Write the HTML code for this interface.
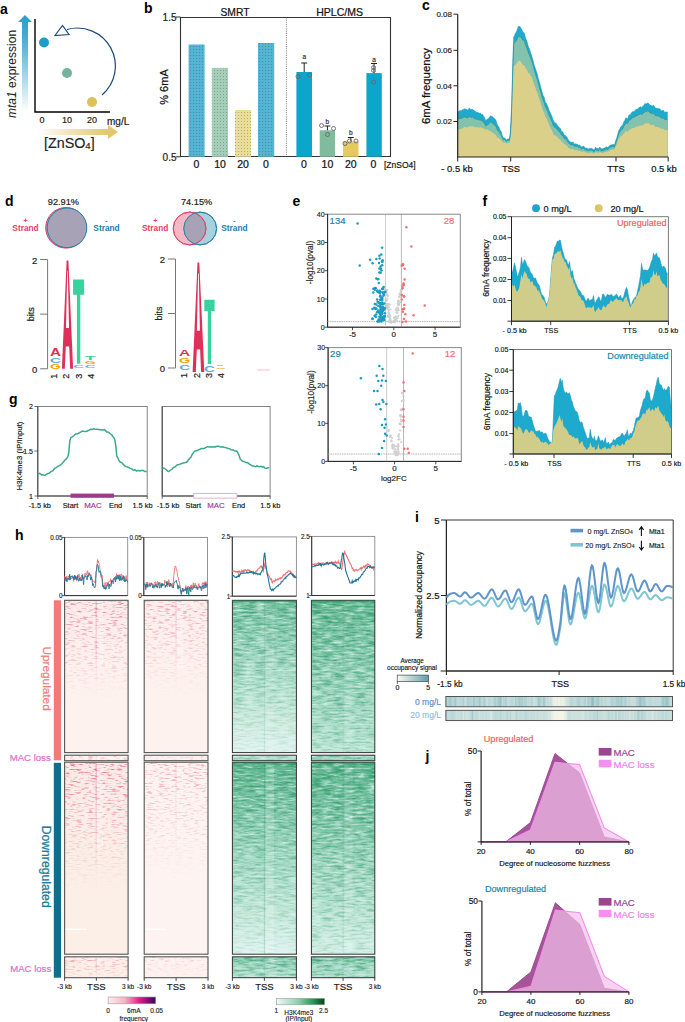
<!DOCTYPE html>
<html><head><meta charset="utf-8"><style>
html,body{margin:0;padding:0;background:#fff;width:685px;height:1022px;overflow:hidden}
svg{display:block}
text{font-family:"Liberation Sans",sans-serif}
</style></head><body>
<svg width="685" height="1022" viewBox="0 0 685 1022">
<defs>
<linearGradient id="gVert" x1="0" y1="1" x2="0" y2="0"><stop offset="0" stop-color="#2a9fc8" stop-opacity="0"/><stop offset="0.75" stop-color="#2a9fc8" stop-opacity="0.85"/><stop offset="1" stop-color="#2a9fc8"/></linearGradient>
<linearGradient id="gHor" x1="0" y1="0" x2="1" y2="0"><stop offset="0" stop-color="#e2c46a" stop-opacity="0"/><stop offset="0.8" stop-color="#e2c46a" stop-opacity="0.9"/><stop offset="1" stop-color="#e2c46a"/></linearGradient>
<linearGradient id="gPink" x1="0" y1="0" x2="1" y2="0"><stop offset="0" stop-color="#fdf0ec"/><stop offset="0.35" stop-color="#f7b3c4"/><stop offset="0.65" stop-color="#e0208a"/><stop offset="1" stop-color="#3d0066"/></linearGradient>
<linearGradient id="gGreen" x1="0" y1="0" x2="1" y2="0"><stop offset="0" stop-color="#effaf8"/><stop offset="0.45" stop-color="#8fd0b0"/><stop offset="0.75" stop-color="#2a9a58"/><stop offset="1" stop-color="#00441b"/></linearGradient>
<linearGradient id="gOcc" x1="0" y1="0" x2="1" y2="0"><stop offset="0" stop-color="#fbfbef"/><stop offset="1" stop-color="#5f9fae"/></linearGradient>
<filter id="bl" x="-5%" y="-5%" width="110%" height="110%"><feGaussianBlur stdDeviation="0.55"/></filter>
<pattern id="dots" width="3" height="3" patternUnits="userSpaceOnUse"><rect x="1" y="1" width="1" height="1" fill="#333" fill-opacity="0.3"/><rect x="0" y="0" width="3" height="3" fill="#fff" fill-opacity="0.04"/></pattern>
</defs>
<text x="0" y="14" font-size="14" text-anchor="start" fill="#000" font-weight="bold">a</text><path d="M22 112 L22 22 L18 22 L25 15 L32 22 L28 22 L28 112 Z" fill="url(#gVert)"/><path d="M35 19 L35 112 L110 112" fill="none" stroke="#000" stroke-width="1.4"/><circle cx="44" cy="42.5" r="5" fill="#1f9bc8"/><circle cx="67" cy="73" r="5" fill="#75b39b"/><circle cx="92" cy="102" r="5" fill="#dfc257"/><path d="M102 95 A38 38 0 0 0 67 29.5" fill="none" stroke="#1a4a7a" stroke-width="1.2"/><path d="M55 35.5 L62.5 25.5 L69 34.5 Z" fill="#fff" stroke="#1a4a7a" stroke-width="1.2"/><text x="42" y="123" font-size="9" text-anchor="middle" fill="#222" stroke="#222" stroke-width="0.189">0</text><text x="67" y="123" font-size="9" text-anchor="middle" fill="#222" stroke="#222" stroke-width="0.189">10</text><text x="92" y="123" font-size="9" text-anchor="middle" fill="#222" stroke="#222" stroke-width="0.189">20</text><text x="107" y="124.5" font-size="10" text-anchor="start" fill="#222" stroke="#222" stroke-width="0.21">mg/L</text><path d="M37 129 L108 129 L108 125 L118 132 L108 139 L108 135 L37 135 Z" fill="url(#gHor)"/><text x="44" y="147.5" font-size="14.3" fill="#222" stroke="#222" stroke-width="0.15">[ZnSO<tspan font-size="9.5" dy="1.5">4</tspan><tspan dy="-1.5">]</tspan></text><text x="16" y="118" font-size="12" fill="#222" transform="rotate(-90 16 118)"><tspan font-style="italic">mta1</tspan> expression</text><text x="144" y="13" font-size="14" text-anchor="start" fill="#000" font-weight="bold">b</text><path d="M180.5 17.5 L390.5 17.5 L390.5 156.5 L180.5 156.5 Z" fill="none" stroke="#333" stroke-width="1.1"/><line x1="176" y1="17" x2="180.5" y2="17" stroke="#333" stroke-width="1"/><line x1="176" y1="156.8" x2="180.5" y2="156.8" stroke="#333" stroke-width="1"/><line x1="286.4" y1="17.5" x2="286.4" y2="156.5" stroke="#555" stroke-width="0.8" stroke-dasharray="1 1.2"/><text x="176.5" y="20.8" font-size="10" text-anchor="end" fill="#222" stroke="#222" stroke-width="0.21">1.5</text><text x="176.5" y="160.5" font-size="10" text-anchor="end" fill="#222" stroke="#222" stroke-width="0.21">0.5</text><text x="235" y="16" font-size="10.3" text-anchor="middle" fill="#111" stroke="#111" stroke-width="0.216">SMRT</text><text x="339.6" y="16" font-size="10.5" text-anchor="middle" fill="#111" stroke="#111" stroke-width="0.221">HPLC/MS</text><text x="168" y="87" font-size="11" text-anchor="middle" fill="#111" stroke="#111" stroke-width="0.231" transform="rotate(-90 168 87)">% 6mA</text><rect x="188.6" y="44.5" width="16.0" height="112.30000000000001" fill="#4db1d2"/><rect x="188.6" y="44.5" width="16.0" height="112.30000000000001" fill="url(#dots)"/><rect x="211.8" y="67.9" width="16.19999999999999" height="88.9" fill="#a0ccb5"/><rect x="211.8" y="67.9" width="16.19999999999999" height="88.9" fill="url(#dots)"/><rect x="235" y="110" width="16" height="46.80000000000001" fill="#e9dc92"/><rect x="235" y="110" width="16" height="46.80000000000001" fill="url(#dots)"/><rect x="258" y="43" width="16.19999999999999" height="113.80000000000001" fill="#4db1d2"/><rect x="258" y="43" width="16.19999999999999" height="113.80000000000001" fill="url(#dots)"/><rect x="296.4" y="72" width="15.600000000000023" height="84.80000000000001" fill="#0ca6ca"/><rect x="319.7" y="130.3" width="15.300000000000011" height="26.5" fill="#80bb9e"/><rect x="343" y="141.3" width="15.5" height="15.5" fill="#e5ca62"/><rect x="366.4" y="73.1" width="15.400000000000034" height="83.70000000000002" fill="#0ca6ca"/><line x1="304.2" y1="63" x2="304.2" y2="72" stroke="#222" stroke-width="1"/><line x1="301.2" y1="63" x2="307.2" y2="63" stroke="#222" stroke-width="1"/><line x1="327.4" y1="126" x2="327.4" y2="130.3" stroke="#222" stroke-width="1"/><line x1="324.4" y1="126" x2="330.4" y2="126" stroke="#222" stroke-width="1"/><line x1="350.8" y1="137.5" x2="350.8" y2="141.3" stroke="#222" stroke-width="1"/><line x1="347.8" y1="137.5" x2="353.8" y2="137.5" stroke="#222" stroke-width="1"/><line x1="374" y1="63.5" x2="374" y2="73.1" stroke="#222" stroke-width="1"/><line x1="371" y1="63.5" x2="377" y2="63.5" stroke="#222" stroke-width="1"/><circle cx="298" cy="76.5" r="2" fill="none" stroke="#666" stroke-width="0.9"/><circle cx="309.4" cy="75" r="2" fill="none" stroke="#666" stroke-width="0.9"/><circle cx="321.5" cy="125.5" r="2" fill="none" stroke="#666" stroke-width="0.9"/><circle cx="327.5" cy="134.5" r="2" fill="none" stroke="#666" stroke-width="0.9"/><circle cx="333.5" cy="128.5" r="2" fill="none" stroke="#666" stroke-width="0.9"/><circle cx="345" cy="143.5" r="2" fill="none" stroke="#666" stroke-width="0.9"/><circle cx="349.5" cy="141" r="2" fill="none" stroke="#666" stroke-width="0.9"/><circle cx="356" cy="141" r="2" fill="none" stroke="#666" stroke-width="0.9"/><circle cx="373.6" cy="67.5" r="2" fill="none" stroke="#666" stroke-width="0.9"/><circle cx="373.6" cy="70.5" r="2" fill="none" stroke="#666" stroke-width="0.9"/><circle cx="373.6" cy="82" r="2" fill="none" stroke="#666" stroke-width="0.9"/><text x="304.2" y="59" font-size="6.5" text-anchor="middle" fill="#222" stroke="#222" stroke-width="0.137">a</text><text x="327.4" y="124" font-size="6.5" text-anchor="middle" fill="#222" stroke="#222" stroke-width="0.137">b</text><text x="350.8" y="135" font-size="6.5" text-anchor="middle" fill="#222" stroke="#222" stroke-width="0.137">b</text><text x="374" y="62" font-size="6.5" text-anchor="middle" fill="#222" stroke="#222" stroke-width="0.137">a</text><text x="196.3" y="167.8" font-size="10.5" text-anchor="middle" fill="#111" stroke="#111" stroke-width="0.221">0</text><text x="220" y="167.8" font-size="10.5" text-anchor="middle" fill="#111" stroke="#111" stroke-width="0.221">10</text><text x="243" y="167.8" font-size="10.5" text-anchor="middle" fill="#111" stroke="#111" stroke-width="0.221">20</text><text x="266" y="167.8" font-size="10.5" text-anchor="middle" fill="#111" stroke="#111" stroke-width="0.221">0</text><text x="304" y="167.8" font-size="10.5" text-anchor="middle" fill="#111" stroke="#111" stroke-width="0.221">0</text><text x="327.4" y="167.8" font-size="10.5" text-anchor="middle" fill="#111" stroke="#111" stroke-width="0.221">10</text><text x="350.8" y="167.8" font-size="10.5" text-anchor="middle" fill="#111" stroke="#111" stroke-width="0.221">20</text><text x="373.4" y="167.8" font-size="10.5" text-anchor="middle" fill="#111" stroke="#111" stroke-width="0.221">0</text><text x="384" y="168" font-size="8.5" text-anchor="start" fill="#111" stroke="#111" stroke-width="0.179">[ZnSO4]</text><text x="422" y="10" font-size="14" text-anchor="start" fill="#000" font-weight="bold">c</text><path d="M457.7 157L457.7 111.1L458.4 111.5L459.1 111.2L459.8 110.5L460.5 110.4L461.2 111L461.9 110.3L462.6 109.7L463.3 109.4L464 108.9L464.7 108.8L465.4 109.2L466.1 109.4L466.8 109.5L467.5 110.1L468.2 109.8L468.9 108.5L469.6 108.2L470.3 109.3L471 109.7L471.7 109.3L472.4 109.3L473.1 109.9L473.8 110L474.5 111.3L475.2 111.6L475.9 111.4L476.6 112.4L477.3 112.5L478 112.3L478.7 112.9L479.4 113.3L480.1 113L480.8 113.3L481.5 114.8L482.2 114.3L482.9 114.7L483.6 116.6L484.3 116.9L485 118.9L485.7 120.6L486.4 120.1L487.1 119.3L487.8 119.2L488.5 118.2L489.2 117.4L489.9 116.6L490.6 115.8L491.3 116.3L492 116.5L492.7 116.8L493.4 117.8L494.1 118.6L494.8 119.1L495.5 119.6L496.2 121.1L496.9 123.4L497.6 125.6L498.3 126.2L499 126.9L499.7 129.4L500.4 130.4L501.1 131.5L501.8 134L502.5 136.4L503.2 138L503.9 137.8L504.6 137.9L505.3 138.4L506 139.8L506.7 140.2L507.4 139L508.1 139L508.8 138.7L509.5 138.1L510.2 133.7L510.9 120.7L511.6 106.2L512.3 81.3L513 56.4L513.7 37.3L514.4 35.8L515.1 34.1L515.8 32.8L516.5 31.5L517.2 29.8L517.9 27.7L518.6 26.1L519.3 26.7L520 26.4L520.7 27.8L521.4 29.1L522.1 30.1L522.8 32.3L523.5 32.6L524.2 32.8L524.9 35.4L525.6 38.1L526.3 40L527 41.8L527.7 44.3L528.4 46.8L529.1 48.1L529.8 49.9L530.5 52.5L531.2 54.2L531.9 56.4L532.6 58.8L533.3 61.5L534 64.5L534.7 66.5L535.4 68.6L536.1 71L536.8 72.8L537.5 74.7L538.2 78.3L538.9 80.3L539.6 82.9L540.3 85.5L541 88L541.7 90.8L542.4 93.3L543.1 95.7L543.8 96.3L544.5 98.6L545.2 101.7L545.9 102.8L546.6 103.8L547.3 105.5L548 106.9L548.7 109.2L549.4 111.1L550.1 112.3L550.8 114L551.5 115.4L552.2 116.9L552.9 119.5L553.6 121.1L554.3 121.9L555 122.9L555.7 123L556.4 123.8L557.1 124.7L557.8 125.8L558.5 126.8L559.2 127.6L559.9 128L560.6 128.7L561.3 131L562 132L562.7 131.7L563.4 133.1L564.1 135.1L564.8 135.2L565.5 135.4L566.2 136.7L566.9 136.9L567.6 138.4L568.3 140.1L569 140.7L569.7 141.3L570.4 142L571.1 142.3L571.8 142.3L572.5 142.3L573.2 142.1L573.9 143.4L574.6 144L575.3 143.8L576 144.2L576.7 144.1L577.4 144.2L578.1 144.9L578.8 145.3L579.5 145.1L580.2 145.5L580.9 146.4L581.6 146.9L582.3 146.8L583 146.5L583.7 145.9L584.4 146.9L585.1 148.2L585.8 148L586.5 148L587.2 148.6L587.9 148.8L588.6 148.9L589.3 148.3L590 148.7L590.7 148.3L591.4 148.1L592.1 148.9L592.8 149L593.5 149.6L594.2 150L594.9 148.6L595.6 147.2L596.3 148.1L597 148.5L597.7 148.2L598.4 149L599.1 148.3L599.8 147L600.5 147.9L601.2 149L601.9 148.8L602.6 148.8L603.3 148.6L604 147.9L604.7 147.9L605.4 147.8L606.1 146.8L606.8 147.1L607.5 147.5L608.2 147.1L608.9 146.4L609.6 145.5L610.3 145.2L611 144.7L611.7 144.9L612.4 144.6L613.1 144.4L613.8 144.6L614.5 145L615.2 142.6L615.9 139.9L616.6 138.4L617.3 135.9L618 133.2L618.7 130.8L619.4 129.7L620.1 128.3L620.8 127L621.5 126L622.2 125.6L622.9 124.7L623.6 122.3L624.3 121L625 120.2L625.7 118L626.4 117.8L627.1 118.9L627.8 118.2L628.5 116.1L629.2 114.7L629.9 114.9L630.6 114.4L631.3 113L632 112.1L632.7 111.7L633.4 111.7L634.1 111.5L634.8 110.8L635.5 109.7L636.2 109.4L636.9 109.2L637.6 109.1L638.3 108.4L639 107.4L639.7 107.6L640.4 106.7L641.1 107L641.8 107.9L642.5 106.5L643.2 105.8L643.9 105.8L644.6 103.8L645.3 103.4L646 104.1L646.7 103.7L647.4 102.9L648.1 103.1L648.8 103.8L649.5 104.8L650.2 105.3L650.9 105.1L651.6 106L652.3 106.1L653 105.5L653.7 105.3L654.4 106.5L655.1 108.1L655.8 108.1L656.5 108.3L657.2 108.3L657.9 108.4L658.6 108.5L659.3 108.7L660 109.1L660.7 110.2L661.4 110.8L662.1 110.4L662.8 110.2L663.5 110.3L664.2 111.6L664.9 112.4L665.6 112.1L666.3 112L667 111.8L667.7 112.2L667.7 157Z" fill="#1eaacc"/><path d="M457.7 157L457.7 118.9L458.4 119.2L459.1 119L459.8 118.4L460.5 118.3L461.2 118.8L461.9 118.2L462.6 117.7L463.3 117.4L464 117L464.7 117L465.4 117.3L466.1 117.4L466.8 117.5L467.5 117.9L468.2 117.7L468.9 116.6L469.6 116.4L470.3 117.2L471 117.5L471.7 117.2L472.4 117.2L473.1 117.6L473.8 117.7L474.5 118.7L475.2 118.9L475.9 118.7L476.6 119.5L477.3 119.5L478 119.4L478.7 119.8L479.4 120.1L480.1 119.8L480.8 120L481.5 121.2L482.2 120.8L482.9 121.1L483.6 122.6L484.3 123L485 124.6L485.7 126L486.4 125.7L487.1 125L487.8 124.9L488.5 124.1L489.2 123.5L489.9 122.8L490.6 122.1L491.3 122.6L492 122.9L492.7 123.2L493.4 124L494.1 124.8L494.8 125.3L495.5 125.8L496.2 127.1L496.9 128.8L497.6 130.5L498.3 130.9L499 131.4L499.7 133.3L500.4 134.1L501.1 134.8L501.8 136.7L502.5 138.6L503.2 139.8L503.9 139.6L504.6 139.6L505.3 140.1L506 141.1L506.7 141.4L507.4 140.5L508.1 140.6L508.8 140.4L509.5 140L510.2 136.6L510.9 126.4L511.6 114.1L512.3 88.8L513 63.4L513.7 44.2L514.4 43.2L515.1 42.1L515.8 41.2L516.5 40.3L517.2 39.1L517.9 37.6L518.6 36.5L519.3 36.7L520 36.3L520.7 37.2L521.4 38.1L522.1 38.7L522.8 40.3L523.5 40.3L524.2 40.5L524.9 42.8L525.6 45.1L526.3 46.9L527 48.5L527.7 50.7L528.4 52.9L529.1 54.2L529.8 55.8L530.5 58.1L531.2 59.7L531.9 61.6L532.6 63.8L533.3 66.6L534 69.4L534.7 71.5L535.4 73.7L536.1 76.1L536.8 78L537.5 80.1L538.2 83.5L538.9 85.5L539.6 88.2L540.3 90.8L541 93.2L541.7 96L542.4 98.5L543.1 100.8L543.8 101.7L544.5 103.8L545.2 106.6L545.9 107.9L546.6 109L547.3 110.7L548 112.2L548.7 114.4L549.4 116.3L550.1 117.6L550.8 119.2L551.5 120.8L552.2 122.3L552.9 124.7L553.6 126.1L554.3 126.8L555 127.7L555.7 127.8L556.4 128.5L557.1 129.4L557.8 130.3L558.5 131.2L559.2 131.9L559.9 132.3L560.6 132.9L561.3 134.8L562 135.7L562.7 135.5L563.4 136.7L564.1 138.4L564.8 138.5L565.5 138.7L566.2 139.8L566.9 140.1L567.6 141.4L568.3 142.8L569 143.4L569.7 143.9L570.4 144.5L571.1 144.8L571.8 144.8L572.5 144.9L573.2 144.7L573.9 145.8L574.6 146.3L575.3 146.1L576 146.5L576.7 146.5L577.4 146.5L578.1 147.2L578.8 147.5L579.5 147.4L580.2 147.8L580.9 148.5L581.6 148.9L582.3 148.9L583 148.6L583.7 148.2L584.4 149L585.1 150.1L585.8 149.9L586.5 150L587.2 150.5L587.9 150.6L588.6 150.7L589.3 150.3L590 150.6L590.7 150.3L591.4 150.1L592.1 150.8L592.8 150.8L593.5 151.4L594.2 151.7L594.9 150.6L595.6 149.5L596.3 150.2L597 150.5L597.7 150.3L598.4 151L599.1 150.4L599.8 149.4L600.5 150.1L601.2 150.9L601.9 150.8L602.6 150.8L603.3 150.7L604 150.1L604.7 150.1L605.4 149.9L606.1 149.1L606.8 149.3L607.5 149.5L608.2 149.2L608.9 148.5L609.6 147.8L610.3 147.4L611 147L611.7 147.1L612.4 146.9L613.1 146.6L613.8 146.7L614.5 147L615.2 144.8L615.9 142.5L616.6 141L617.3 138.7L618 136.3L618.7 134.2L619.4 133L620.1 131.7L620.8 130.6L621.5 129.8L622.2 129.4L622.9 128.6L623.6 126.6L624.3 125.6L625 124.8L625.7 123.1L626.4 122.8L627.1 123.7L627.8 123.1L628.5 121.4L629.2 120.2L629.9 120.3L630.6 119.9L631.3 118.7L632 117.9L632.7 117.6L633.4 117.6L634.1 117.5L634.8 117L635.5 116.1L636.2 115.9L636.9 115.7L637.6 115.6L638.3 115.1L639 114.3L639.7 114.5L640.4 113.7L641.1 114.1L641.8 114.8L642.5 113.7L643.2 113.1L643.9 113.1L644.6 111.6L645.3 111.2L646 111.8L646.7 111.5L647.4 110.9L648.1 111.1L648.8 111.7L649.5 112.5L650.2 113L650.9 112.9L651.6 113.7L652.3 113.8L653 113.4L653.7 113.2L654.4 114.3L655.1 115.6L655.8 115.7L656.5 115.9L657.2 115.9L657.9 116L658.6 116.2L659.3 116.4L660 116.8L660.7 117.7L661.4 118.2L662.1 118L662.8 117.9L663.5 118L664.2 119.1L664.9 119.8L665.6 119.6L666.3 119.6L667 119.4L667.7 119.8L667.7 157Z" fill="#83c2ad"/><path d="M457.7 118.9L458.4 119.2L459.1 119L459.8 118.4L460.5 118.3L461.2 118.8L461.9 118.2L462.6 117.7L463.3 117.4L464 117L464.7 117L465.4 117.3L466.1 117.4L466.8 117.5L467.5 117.9L468.2 117.7L468.9 116.6L469.6 116.4L470.3 117.2L471 117.5L471.7 117.2L472.4 117.2L473.1 117.6L473.8 117.7L474.5 118.7L475.2 118.9L475.9 118.7L476.6 119.5L477.3 119.5L478 119.4L478.7 119.8L479.4 120.1L480.1 119.8L480.8 120L481.5 121.2L482.2 120.8L482.9 121.1L483.6 122.6L484.3 123L485 124.6L485.7 126L486.4 125.7L487.1 125L487.8 124.9L488.5 124.1L489.2 123.5L489.9 122.8L490.6 122.1L491.3 122.6L492 122.9L492.7 123.2L493.4 124L494.1 124.8L494.8 125.3L495.5 125.8L496.2 127.1L496.9 128.8L497.6 130.5L498.3 130.9L499 131.4L499.7 133.3L500.4 134.1L501.1 134.8L501.8 136.7L502.5 138.6L503.2 139.8L503.9 139.6L504.6 139.6L505.3 140.1L506 141.1L506.7 141.4L507.4 140.5L508.1 140.6L508.8 140.4L509.5 140L510.2 136.6L510.9 126.4L511.6 114.1L512.3 88.8L513 63.4L513.7 44.2L514.4 43.2L515.1 42.1L515.8 41.2L516.5 40.3L517.2 39.1L517.9 37.6L518.6 36.5L519.3 36.7L520 36.3L520.7 37.2L521.4 38.1L522.1 38.7L522.8 40.3L523.5 40.3L524.2 40.5L524.9 42.8L525.6 45.1L526.3 46.9L527 48.5L527.7 50.7L528.4 52.9L529.1 54.2L529.8 55.8L530.5 58.1L531.2 59.7L531.9 61.6L532.6 63.8L533.3 66.6L534 69.4L534.7 71.5L535.4 73.7L536.1 76.1L536.8 78L537.5 80.1L538.2 83.5L538.9 85.5L539.6 88.2L540.3 90.8L541 93.2L541.7 96L542.4 98.5L543.1 100.8L543.8 101.7L544.5 103.8L545.2 106.6L545.9 107.9L546.6 109L547.3 110.7L548 112.2L548.7 114.4L549.4 116.3L550.1 117.6L550.8 119.2L551.5 120.8L552.2 122.3L552.9 124.7L553.6 126.1L554.3 126.8L555 127.7L555.7 127.8L556.4 128.5L557.1 129.4L557.8 130.3L558.5 131.2L559.2 131.9L559.9 132.3L560.6 132.9L561.3 134.8L562 135.7L562.7 135.5L563.4 136.7L564.1 138.4L564.8 138.5L565.5 138.7L566.2 139.8L566.9 140.1L567.6 141.4L568.3 142.8L569 143.4L569.7 143.9L570.4 144.5L571.1 144.8L571.8 144.8L572.5 144.9L573.2 144.7L573.9 145.8L574.6 146.3L575.3 146.1L576 146.5L576.7 146.5L577.4 146.5L578.1 147.2L578.8 147.5L579.5 147.4L580.2 147.8L580.9 148.5L581.6 148.9L582.3 148.9L583 148.6L583.7 148.2L584.4 149L585.1 150.1L585.8 149.9L586.5 150L587.2 150.5L587.9 150.6L588.6 150.7L589.3 150.3L590 150.6L590.7 150.3L591.4 150.1L592.1 150.8L592.8 150.8L593.5 151.4L594.2 151.7L594.9 150.6L595.6 149.5L596.3 150.2L597 150.5L597.7 150.3L598.4 151L599.1 150.4L599.8 149.4L600.5 150.1L601.2 150.9L601.9 150.8L602.6 150.8L603.3 150.7L604 150.1L604.7 150.1L605.4 149.9L606.1 149.1L606.8 149.3L607.5 149.5L608.2 149.2L608.9 148.5L609.6 147.8L610.3 147.4L611 147L611.7 147.1L612.4 146.9L613.1 146.6L613.8 146.7L614.5 147L615.2 144.8L615.9 142.5L616.6 141L617.3 138.7L618 136.3L618.7 134.2L619.4 133L620.1 131.7L620.8 130.6L621.5 129.8L622.2 129.4L622.9 128.6L623.6 126.6L624.3 125.6L625 124.8L625.7 123.1L626.4 122.8L627.1 123.7L627.8 123.1L628.5 121.4L629.2 120.2L629.9 120.3L630.6 119.9L631.3 118.7L632 117.9L632.7 117.6L633.4 117.6L634.1 117.5L634.8 117L635.5 116.1L636.2 115.9L636.9 115.7L637.6 115.6L638.3 115.1L639 114.3L639.7 114.5L640.4 113.7L641.1 114.1L641.8 114.8L642.5 113.7L643.2 113.1L643.9 113.1L644.6 111.6L645.3 111.2L646 111.8L646.7 111.5L647.4 110.9L648.1 111.1L648.8 111.7L649.5 112.5L650.2 113L650.9 112.9L651.6 113.7L652.3 113.8L653 113.4L653.7 113.2L654.4 114.3L655.1 115.6L655.8 115.7L656.5 115.9L657.2 115.9L657.9 116L658.6 116.2L659.3 116.4L660 116.8L660.7 117.7L661.4 118.2L662.1 118L662.8 117.9L663.5 118L664.2 119.1L664.9 119.8L665.6 119.6L666.3 119.6L667 119.4L667.7 119.8" fill="none" stroke="#2f8f88" stroke-width="0.6"/><path d="M457.7 157L457.7 129.9L458.4 130L459.1 129.7L459.8 129.1L460.5 128.9L461.2 129.3L461.9 128.7L462.6 128.1L463.3 127.7L464 127.3L464.7 127.1L465.4 127.3L466.1 127.3L466.8 127.3L467.5 127.5L468.2 127.2L468.9 126.2L469.6 125.9L470.3 126.5L471 126.7L471.7 126.3L472.4 126.2L473.1 126.4L473.8 126.4L474.5 127.1L475.2 127.2L475.9 126.9L476.6 127.6L477.3 127.5L478 127.2L478.7 127.5L479.4 127.7L480.1 127.3L480.8 127.4L481.5 128.3L482.2 127.9L482.9 127.9L483.6 128.7L484.3 128.4L485 129.3L485.7 130L486.4 129.2L487.1 129.2L487.8 130.1L488.5 130.2L489.2 130.5L489.9 130.8L490.6 131L491.3 131.9L492 132.2L492.7 132.4L493.4 133.1L494.1 133.7L494.8 134.1L495.5 134.6L496.2 135.5L496.9 136.6L497.6 137.7L498.3 137.6L499 137.7L499.7 138.9L500.4 139.2L501.1 139.5L501.8 140.7L502.5 141.9L503.2 142.7L503.9 142.4L504.6 142.2L505.3 142.4L506 143.2L506.7 143.4L507.4 142.8L508.1 143L508.8 143.1L509.5 142.9L510.2 140.8L510.9 134.8L511.6 126.7L512.3 104.9L513 83L513.7 66.6L514.4 65.8L515.1 64.9L515.8 64.2L516.5 63.5L517.2 62.6L517.9 61.4L518.6 60.5L519.3 60.9L520 60.7L520.7 61.7L521.4 62.7L522.1 63.4L522.8 65L523.5 65.2L524.2 65.2L524.9 66.6L525.6 68.1L526.3 69.1L527 70L527.7 71.4L528.4 72.8L529.1 73.3L529.8 74.2L530.5 75.7L531.2 76.5L531.9 77.7L532.6 79.3L533.3 81.6L534 84.1L534.7 85.9L535.4 87.7L536.1 89.8L536.8 91.4L537.5 93.2L538.2 96.1L538.9 97.8L539.6 100.1L540.3 102.3L541 104.4L541.7 106.8L542.4 108.9L543.1 110.9L543.8 111.8L544.5 113.8L545.2 116.4L545.9 117.6L546.6 118.6L547.3 120.2L548 121.6L548.7 123.6L549.4 125.4L550.1 126.6L550.8 128.2L551.5 129.6L552.2 131L552.9 133.3L553.6 134.4L554.3 134.9L555 135.6L555.7 135.7L556.4 136.3L557.1 137L557.8 137.7L558.5 138.4L559.2 138.9L559.9 139.3L560.6 139.7L561.3 141.3L562 142L562.7 141.8L563.4 142.8L564.1 144.2L564.8 144.2L565.5 144.4L566.2 145.3L566.9 145.4L567.6 146.5L568.3 147.7L569 148.1L569.7 148.5L570.4 149L571.1 149.2L571.8 149.1L572.5 149.1L573.2 148.9L573.9 149.8L574.6 150.2L575.3 150L576 150.3L576.7 150.2L577.4 150.2L578.1 150.7L578.8 150.9L579.5 150.8L580.2 151L580.9 151.6L581.6 151.9L582.3 151.8L583 151.5L583.7 151.1L584.4 151.7L585.1 152.6L585.8 152.4L586.5 152.4L587.2 152.8L587.9 152.9L588.6 153L589.3 152.6L590 152.8L590.7 152.6L591.4 152.4L592.1 153L592.8 153L593.5 153.5L594.2 153.7L594.9 152.8L595.6 151.8L596.3 152.4L597 152.7L597.7 152.4L598.4 153.1L599.1 152.6L599.8 151.6L600.5 152.3L601.2 153L601.9 152.9L602.6 152.9L603.3 152.7L604 152.2L604.7 152.2L605.4 152.1L606.1 151.4L606.8 151.6L607.5 151.8L608.2 151.5L608.9 151L609.6 150.4L610.3 150.1L611 149.8L611.7 149.9L612.4 149.7L613.1 149.5L613.8 149.6L614.5 149.8L615.2 148L615.9 146L616.6 144.8L617.3 142.8L618 140.8L618.7 139L619.4 138L620.1 137L620.8 136.3L621.5 135.7L622.2 135.6L622.9 135.1L623.6 133.6L624.3 132.8L625 132.4L625.7 131.1L626.4 131.1L627.1 132L627.8 131.7L628.5 130.4L629.2 129.6L629.9 129.8L630.6 129.7L631.3 128.8L632 128.3L632.7 128.1L633.4 128.1L634.1 128.1L634.8 127.6L635.5 126.9L636.2 126.8L636.9 126.6L637.6 126.6L638.3 126.2L639 125.5L639.7 125.7L640.4 125.1L641.1 125.4L641.8 126.1L642.5 125.1L643.2 124.7L643.9 124.7L644.6 123.4L645.3 123.1L646 123.7L646.7 123.4L647.4 122.9L648.1 123.1L648.8 123.6L649.5 124.3L650.2 124.7L650.9 124.6L651.6 125.3L652.3 125.3L653 125L653.7 124.8L654.4 125.7L655.1 126.8L655.8 126.9L656.5 127.1L657.2 127L657.9 127.2L658.6 127.3L659.3 127.4L660 127.8L660.7 128.6L661.4 129L662.1 128.7L662.8 128.6L663.5 128.7L664.2 129.7L664.9 130.3L665.6 130L666.3 130L667 129.9L667.7 130.2L667.7 157Z" fill="#dbd089"/><path d="M457.7 111.1L458.4 111.5L459.1 111.2L459.8 110.5L460.5 110.4L461.2 111L461.9 110.3L462.6 109.7L463.3 109.4L464 108.9L464.7 108.8L465.4 109.2L466.1 109.4L466.8 109.5L467.5 110.1L468.2 109.8L468.9 108.5L469.6 108.2L470.3 109.3L471 109.7L471.7 109.3L472.4 109.3L473.1 109.9L473.8 110L474.5 111.3L475.2 111.6L475.9 111.4L476.6 112.4L477.3 112.5L478 112.3L478.7 112.9L479.4 113.3L480.1 113L480.8 113.3L481.5 114.8L482.2 114.3L482.9 114.7L483.6 116.6L484.3 116.9L485 118.9L485.7 120.6L486.4 120.1L487.1 119.3L487.8 119.2L488.5 118.2L489.2 117.4L489.9 116.6L490.6 115.8L491.3 116.3L492 116.5L492.7 116.8L493.4 117.8L494.1 118.6L494.8 119.1L495.5 119.6L496.2 121.1L496.9 123.4L497.6 125.6L498.3 126.2L499 126.9L499.7 129.4L500.4 130.4L501.1 131.5L501.8 134L502.5 136.4L503.2 138L503.9 137.8L504.6 137.9L505.3 138.4L506 139.8L506.7 140.2L507.4 139L508.1 139L508.8 138.7L509.5 138.1L510.2 133.7L510.9 120.7L511.6 106.2L512.3 81.3L513 56.4L513.7 37.3L514.4 35.8L515.1 34.1L515.8 32.8L516.5 31.5L517.2 29.8L517.9 27.7L518.6 26.1L519.3 26.7L520 26.4L520.7 27.8L521.4 29.1L522.1 30.1L522.8 32.3L523.5 32.6L524.2 32.8L524.9 35.4L525.6 38.1L526.3 40L527 41.8L527.7 44.3L528.4 46.8L529.1 48.1L529.8 49.9L530.5 52.5L531.2 54.2L531.9 56.4L532.6 58.8L533.3 61.5L534 64.5L534.7 66.5L535.4 68.6L536.1 71L536.8 72.8L537.5 74.7L538.2 78.3L538.9 80.3L539.6 82.9L540.3 85.5L541 88L541.7 90.8L542.4 93.3L543.1 95.7L543.8 96.3L544.5 98.6L545.2 101.7L545.9 102.8L546.6 103.8L547.3 105.5L548 106.9L548.7 109.2L549.4 111.1L550.1 112.3L550.8 114L551.5 115.4L552.2 116.9L552.9 119.5L553.6 121.1L554.3 121.9L555 122.9L555.7 123L556.4 123.8L557.1 124.7L557.8 125.8L558.5 126.8L559.2 127.6L559.9 128L560.6 128.7L561.3 131L562 132L562.7 131.7L563.4 133.1L564.1 135.1L564.8 135.2L565.5 135.4L566.2 136.7L566.9 136.9L567.6 138.4L568.3 140.1L569 140.7L569.7 141.3L570.4 142L571.1 142.3L571.8 142.3L572.5 142.3L573.2 142.1L573.9 143.4L574.6 144L575.3 143.8L576 144.2L576.7 144.1L577.4 144.2L578.1 144.9L578.8 145.3L579.5 145.1L580.2 145.5L580.9 146.4L581.6 146.9L582.3 146.8L583 146.5L583.7 145.9L584.4 146.9L585.1 148.2L585.8 148L586.5 148L587.2 148.6L587.9 148.8L588.6 148.9L589.3 148.3L590 148.7L590.7 148.3L591.4 148.1L592.1 148.9L592.8 149L593.5 149.6L594.2 150L594.9 148.6L595.6 147.2L596.3 148.1L597 148.5L597.7 148.2L598.4 149L599.1 148.3L599.8 147L600.5 147.9L601.2 149L601.9 148.8L602.6 148.8L603.3 148.6L604 147.9L604.7 147.9L605.4 147.8L606.1 146.8L606.8 147.1L607.5 147.5L608.2 147.1L608.9 146.4L609.6 145.5L610.3 145.2L611 144.7L611.7 144.9L612.4 144.6L613.1 144.4L613.8 144.6L614.5 145L615.2 142.6L615.9 139.9L616.6 138.4L617.3 135.9L618 133.2L618.7 130.8L619.4 129.7L620.1 128.3L620.8 127L621.5 126L622.2 125.6L622.9 124.7L623.6 122.3L624.3 121L625 120.2L625.7 118L626.4 117.8L627.1 118.9L627.8 118.2L628.5 116.1L629.2 114.7L629.9 114.9L630.6 114.4L631.3 113L632 112.1L632.7 111.7L633.4 111.7L634.1 111.5L634.8 110.8L635.5 109.7L636.2 109.4L636.9 109.2L637.6 109.1L638.3 108.4L639 107.4L639.7 107.6L640.4 106.7L641.1 107L641.8 107.9L642.5 106.5L643.2 105.8L643.9 105.8L644.6 103.8L645.3 103.4L646 104.1L646.7 103.7L647.4 102.9L648.1 103.1L648.8 103.8L649.5 104.8L650.2 105.3L650.9 105.1L651.6 106L652.3 106.1L653 105.5L653.7 105.3L654.4 106.5L655.1 108.1L655.8 108.1L656.5 108.3L657.2 108.3L657.9 108.4L658.6 108.5L659.3 108.7L660 109.1L660.7 110.2L661.4 110.8L662.1 110.4L662.8 110.2L663.5 110.3L664.2 111.6L664.9 112.4L665.6 112.1L666.3 112L667 111.8L667.7 112.2" fill="none" stroke="#1890b0" stroke-width="0.5"/><path d="M457.7 14.2 L457.7 157 L668.2 157" fill="none" stroke="#222" stroke-width="1.2"/><line x1="453.5" y1="14.2" x2="457.7" y2="14.2" stroke="#222" stroke-width="1"/><text x="452" y="17.0" font-size="8" text-anchor="end" fill="#222" stroke="#222" stroke-width="0.168">0.08</text><line x1="453.5" y1="50.3" x2="457.7" y2="50.3" stroke="#222" stroke-width="1"/><text x="452" y="53.099999999999994" font-size="8" text-anchor="end" fill="#222" stroke="#222" stroke-width="0.168">0.06</text><line x1="453.5" y1="85.8" x2="457.7" y2="85.8" stroke="#222" stroke-width="1"/><text x="452" y="88.6" font-size="8" text-anchor="end" fill="#222" stroke="#222" stroke-width="0.168">0.04</text><line x1="453.5" y1="121.5" x2="457.7" y2="121.5" stroke="#222" stroke-width="1"/><text x="452" y="124.3" font-size="8" text-anchor="end" fill="#222" stroke="#222" stroke-width="0.168">0.02</text><line x1="457.7" y1="157" x2="457.7" y2="161.5" stroke="#222" stroke-width="1"/><line x1="510.7" y1="157" x2="510.7" y2="161.5" stroke="#222" stroke-width="1"/><line x1="616" y1="157" x2="616" y2="161.5" stroke="#222" stroke-width="1"/><line x1="668.2" y1="157" x2="668.2" y2="161.5" stroke="#222" stroke-width="1"/><text x="457" y="172" font-size="9.4" text-anchor="middle" fill="#111" stroke="#111" stroke-width="0.197">- 0.5 kb</text><text x="511" y="172" font-size="9.4" text-anchor="middle" fill="#111" stroke="#111" stroke-width="0.197">TSS</text><text x="616" y="172" font-size="9.4" text-anchor="middle" fill="#111" stroke="#111" stroke-width="0.197">TTS</text><text x="664" y="172" font-size="9.4" text-anchor="middle" fill="#111" stroke="#111" stroke-width="0.197">0.5 kb</text><text x="430" y="86" font-size="11.4" text-anchor="middle" fill="#111" stroke="#111" stroke-width="0.239" transform="rotate(-90 430 86)">6mA frequency</text><text x="5" y="206" font-size="14" text-anchor="start" fill="#000" font-weight="bold">d</text><text x="63.4" y="204.5" font-size="9.2" text-anchor="middle" fill="#222" stroke="#222" stroke-width="0.193">92.91%</text><text x="25.5" y="222.8" font-size="7" text-anchor="middle" fill="#e0406a" font-weight="bold">+</text><text x="25.5" y="230.8" font-size="8.3" text-anchor="middle" fill="#e0406a" font-weight="bold">Strand</text><text x="106.5" y="222.8" font-size="7" text-anchor="middle" fill="#1a80a8" font-weight="bold">-</text><text x="106.5" y="230.8" font-size="8.3" text-anchor="middle" fill="#1a80a8" font-weight="bold">Strand</text><circle cx="66" cy="227.8" r="20.3" fill="#a7a2b6" stroke="#e2406a" stroke-width="1"/><circle cx="67" cy="227.8" r="19.8" fill="#a7a2b6" stroke="#2381a8" stroke-width="1"/><text x="196.6" y="204.5" font-size="9.2" text-anchor="middle" fill="#222" stroke="#222" stroke-width="0.193">74.15%</text><text x="155.2" y="222.8" font-size="7" text-anchor="middle" fill="#e0406a" font-weight="bold">+</text><text x="155.2" y="230.8" font-size="8.3" text-anchor="middle" fill="#e0406a" font-weight="bold">Strand</text><text x="234.4" y="222.8" font-size="7" text-anchor="middle" fill="#1a80a8" font-weight="bold">-</text><text x="234.4" y="230.8" font-size="8.3" text-anchor="middle" fill="#1a80a8" font-weight="bold">Strand</text><circle cx="189.6" cy="228.5" r="16.4" fill="#f5b8c4" stroke="#e2406a" stroke-width="0.9"/><circle cx="200.2" cy="228.5" r="16.4" fill="#a8d1df" stroke="#2381a8" stroke-width="0.9"/><clipPath id="vc1"><circle cx="189.6" cy="228.5" r="16.4"/></clipPath><circle cx="200.2" cy="228.5" r="16.4" fill="#a7a2b6" clip-path="url(#vc1)"/><circle cx="189.6" cy="228.5" r="16.4" fill="none" stroke="#e2406a" stroke-width="0.9" clip-path="url(#vc2)"/><circle cx="200.2" cy="228.5" r="16.4" fill="none" stroke="#2381a8" stroke-width="0.9"/><path d="M189.6 212.1 A16.4 16.4 0 0 1 189.6 244.9" fill="none" stroke="#e2406a" stroke-width="0.9"/><path d="M40.1 259.5 L47.6 259.5 L47.6 368.8 L40.1 368.8" fill="none" stroke="#777" stroke-width="1"/><line x1="40.1" y1="314.15" x2="47.6" y2="314.15" stroke="#777" stroke-width="1"/><text x="34.6" y="263.5" font-size="9.5" text-anchor="middle" fill="#222" stroke="#222" stroke-width="0.2">2</text><text x="34.6" y="372.8" font-size="9.5" text-anchor="middle" fill="#222" stroke="#222" stroke-width="0.2">0</text><text x="34.1" y="314.15" font-size="9" text-anchor="middle" fill="#222" stroke="#222" stroke-width="0.189" transform="rotate(-90 34.1 314.15)">bits</text><path d="M61.9 368.7 L66.6 260.5 L68.4 260.5 L73.1 368.7 L70.2 368.7 L69.2 346.4 L65.8 346.4 L64.8 368.7 Z M66 328 L69 328 L67.8 271.3 L67.2 271.3 Z" fill="#e0305a" fill-rule="evenodd"/><path d="M73.1 279.4 L84.1 279.4 L84.1 294.7 L80.3 294.7 L80.3 363.8 L76.9 363.8 L76.9 294.7 L73.1 294.7 Z" fill="#38d29c"/><text x="0" y="0" font-size="10" font-weight="bold" fill="#e0305a" text-anchor="middle" transform="translate(55.5 356) scale(1.52 1.04)">A</text><text x="0" y="0" font-size="10" font-weight="bold" fill="#5aa8e0" text-anchor="middle" transform="translate(55.5 362.6) scale(1.5 0.78)">C</text><text x="0" y="0" font-size="10" font-weight="bold" fill="#f5a000" text-anchor="middle" transform="translate(55.5 369) scale(1.39 0.72)">G</text><text x="0" y="0" font-size="10" font-weight="bold" fill="#38d29c" text-anchor="middle" transform="translate(90.2 360.1) scale(1.8 0.58)">T</text><text x="0" y="0" font-size="10" font-weight="bold" fill="#f5a000" text-anchor="middle" transform="translate(90.2 364.4) scale(1.41 0.33)">G</text><text x="0" y="0" font-size="10" font-weight="bold" fill="#5aa8e0" text-anchor="middle" transform="translate(90.2 368) scale(1.5 0.33)">C</text><text x="0" y="0" font-size="10" font-weight="bold" fill="#5aa8e0" text-anchor="middle" transform="translate(78.6 368) scale(1.5 0.33)">C</text><text x="57" y="376.3" font-size="9" text-anchor="middle" fill="#222" stroke="#222" stroke-width="0.189" transform="rotate(-90 57 376.3)">1</text><text x="69.4" y="376.3" font-size="9" text-anchor="middle" fill="#222" stroke="#222" stroke-width="0.189" transform="rotate(-90 69.4 376.3)">2</text><text x="81.7" y="376.3" font-size="9" text-anchor="middle" fill="#222" stroke="#222" stroke-width="0.189" transform="rotate(-90 81.7 376.3)">3</text><text x="94" y="376.3" font-size="9" text-anchor="middle" fill="#222" stroke="#222" stroke-width="0.189" transform="rotate(-90 94 376.3)">4</text><path d="M168.0 259 L175.5 259 L175.5 368 L168.0 368" fill="none" stroke="#777" stroke-width="1"/><line x1="168.0" y1="313.5" x2="175.5" y2="313.5" stroke="#777" stroke-width="1"/><text x="162.5" y="263" font-size="9.5" text-anchor="middle" fill="#222" stroke="#222" stroke-width="0.2">2</text><text x="162.5" y="372" font-size="9.5" text-anchor="middle" fill="#222" stroke="#222" stroke-width="0.2">0</text><text x="162.0" y="313.5" font-size="9" text-anchor="middle" fill="#222" stroke="#222" stroke-width="0.189" transform="rotate(-90 162.0 313.5)">bits</text><path d="M192.6 372 L197.5 262.4 L199.3 262.4 L204.3 372 L201.1 372 L200.1 349.4 L196.8 349.4 L195.8 372 Z M196.9 330.8 L199.9 330.8 L198.8 273.4 L198.1 273.4 Z" fill="#e0305a" fill-rule="evenodd"/><path d="M204.3 299.8 L214.6 299.8 L214.6 311 L211.1 311 L211.1 364 L207.8 364 L207.8 311 L204.3 311 Z" fill="#38d29c"/><text x="0" y="0" font-size="10" font-weight="bold" fill="#e0305a" text-anchor="middle" transform="translate(184.6 356) scale(1.56 0.97)">A</text><text x="0" y="0" font-size="10" font-weight="bold" fill="#f5a000" text-anchor="middle" transform="translate(184.6 363) scale(1.45 0.8)">G</text><text x="0" y="0" font-size="10" font-weight="bold" fill="#5aa8e0" text-anchor="middle" transform="translate(184.6 369.5) scale(1.5 0.8)">C</text><text x="0" y="0" font-size="10" font-weight="bold" fill="#5aa8e0" text-anchor="middle" transform="translate(209.4 371.5) scale(1.45 0.9)">C</text><text x="0" y="0" font-size="10" font-weight="bold" fill="#5aa8e0" text-anchor="middle" transform="translate(220 366) scale(1.0 0.12)">C</text><text x="0" y="0" font-size="10" font-weight="bold" fill="#f5a000" text-anchor="middle" transform="translate(221 368.5) scale(1.4 0.1)">C</text><text x="187" y="375.5" font-size="9" text-anchor="middle" fill="#222" stroke="#222" stroke-width="0.189" transform="rotate(-90 187 375.5)">1</text><text x="199.6" y="375.5" font-size="9" text-anchor="middle" fill="#222" stroke="#222" stroke-width="0.189" transform="rotate(-90 199.6 375.5)">2</text><text x="212.4" y="375.5" font-size="9" text-anchor="middle" fill="#222" stroke="#222" stroke-width="0.189" transform="rotate(-90 212.4 375.5)">3</text><text x="224" y="375.5" font-size="9" text-anchor="middle" fill="#222" stroke="#222" stroke-width="0.189" transform="rotate(-90 224 375.5)">4</text><line x1="257" y1="370" x2="270" y2="370" stroke="#f3b0c0" stroke-width="0.8"/><text x="292.5" y="205.5" font-size="14" text-anchor="start" fill="#000" font-weight="bold">e</text><rect x="327.6" y="214.2" width="132.7" height="113.0" fill="none" stroke="#888" stroke-width="1"/><line x1="327.6" y1="214.2" x2="327.6" y2="327.2" stroke="#222" stroke-width="1"/><line x1="327.6" y1="327.2" x2="460.3" y2="327.2" stroke="#222" stroke-width="1"/><line x1="385.5" y1="214.2" x2="385.5" y2="327.2" stroke="#aaa" stroke-width="0.6"/><line x1="401.4" y1="214.2" x2="401.4" y2="327.2" stroke="#888" stroke-width="0.6"/><line x1="327.6" y1="321.6" x2="460.3" y2="321.6" stroke="#aaa" stroke-width="0.9" stroke-dasharray="1.5 0.8"/><line x1="324.6" y1="214.2" x2="327.6" y2="214.2" stroke="#222" stroke-width="0.8"/><text x="324.6" y="216.7" font-size="7" text-anchor="end" fill="#222" stroke="#222" stroke-width="0.147">40</text><line x1="324.6" y1="242.5" x2="327.6" y2="242.5" stroke="#222" stroke-width="0.8"/><text x="324.6" y="245.0" font-size="7" text-anchor="end" fill="#222" stroke="#222" stroke-width="0.147">30</text><line x1="324.6" y1="270.7" x2="327.6" y2="270.7" stroke="#222" stroke-width="0.8"/><text x="324.6" y="273.2" font-size="7" text-anchor="end" fill="#222" stroke="#222" stroke-width="0.147">20</text><line x1="324.6" y1="299" x2="327.6" y2="299" stroke="#222" stroke-width="0.8"/><text x="324.6" y="301.5" font-size="7" text-anchor="end" fill="#222" stroke="#222" stroke-width="0.147">10</text><line x1="324.6" y1="327.2" x2="327.6" y2="327.2" stroke="#222" stroke-width="0.8"/><text x="324.6" y="329.7" font-size="7" text-anchor="end" fill="#222" stroke="#222" stroke-width="0.147">0</text><line x1="352.5" y1="327.2" x2="352.5" y2="330.2" stroke="#222" stroke-width="0.8"/><text x="352.5" y="337.2" font-size="8" text-anchor="middle" fill="#222" stroke="#222" stroke-width="0.168">-5</text><line x1="393.8" y1="327.2" x2="393.8" y2="330.2" stroke="#222" stroke-width="0.8"/><text x="393.8" y="337.2" font-size="8" text-anchor="middle" fill="#222" stroke="#222" stroke-width="0.168">0</text><line x1="435.1" y1="327.2" x2="435.1" y2="330.2" stroke="#222" stroke-width="0.8"/><text x="435.1" y="337.2" font-size="8" text-anchor="middle" fill="#222" stroke="#222" stroke-width="0.168">5</text><text x="329.6" y="223.7" font-size="9.5" text-anchor="start" fill="#1a86a8" stroke="#1a86a8" stroke-width="0.2">134</text><text x="454.3" y="223.7" font-size="9.5" text-anchor="end" fill="#f07070" stroke="#f07070" stroke-width="0.2">28</text><circle cx="389.8" cy="322.1" r="1.1" fill="#cfcfcf"/><circle cx="390.1" cy="322.1" r="1.1" fill="#cfcfcf"/><circle cx="398.5" cy="302.1" r="1.1" fill="#cfcfcf"/><circle cx="396.7" cy="317.5" r="1.1" fill="#cfcfcf"/><circle cx="389.7" cy="319.5" r="1.1" fill="#cfcfcf"/><circle cx="386.6" cy="291.9" r="1.1" fill="#cfcfcf"/><circle cx="400.5" cy="292.9" r="1.1" fill="#cfcfcf"/><circle cx="389.8" cy="304.6" r="1.1" fill="#cfcfcf"/><circle cx="394" cy="317.8" r="1.1" fill="#cfcfcf"/><circle cx="386.2" cy="299.8" r="1.1" fill="#cfcfcf"/><circle cx="385.4" cy="289.4" r="1.1" fill="#cfcfcf"/><circle cx="390.6" cy="320.2" r="1.1" fill="#cfcfcf"/><circle cx="394" cy="321.9" r="1.1" fill="#cfcfcf"/><circle cx="397.6" cy="303.8" r="1.1" fill="#cfcfcf"/><circle cx="388.9" cy="314.1" r="1.1" fill="#cfcfcf"/><circle cx="400.2" cy="302.2" r="1.1" fill="#cfcfcf"/><circle cx="390.2" cy="316.1" r="1.1" fill="#cfcfcf"/><circle cx="398.1" cy="301" r="1.1" fill="#cfcfcf"/><circle cx="391.4" cy="321.8" r="1.1" fill="#cfcfcf"/><circle cx="388.8" cy="310.2" r="1.1" fill="#cfcfcf"/><circle cx="386.2" cy="295.1" r="1.1" fill="#cfcfcf"/><circle cx="390.1" cy="320.5" r="1.1" fill="#cfcfcf"/><circle cx="397.4" cy="318.1" r="1.1" fill="#cfcfcf"/><circle cx="395.3" cy="319.8" r="1.1" fill="#cfcfcf"/><circle cx="394.6" cy="321.8" r="1.1" fill="#cfcfcf"/><circle cx="389.9" cy="320.8" r="1.1" fill="#cfcfcf"/><circle cx="387.3" cy="298.6" r="1.1" fill="#cfcfcf"/><circle cx="401.3" cy="290.1" r="1.1" fill="#cfcfcf"/><circle cx="400.2" cy="293.5" r="1.1" fill="#cfcfcf"/><circle cx="387.7" cy="304.8" r="1.1" fill="#cfcfcf"/><circle cx="387.9" cy="296" r="1.1" fill="#cfcfcf"/><circle cx="397.7" cy="309.3" r="1.1" fill="#cfcfcf"/><circle cx="386.9" cy="289.8" r="1.1" fill="#cfcfcf"/><circle cx="399.9" cy="297.1" r="1.1" fill="#cfcfcf"/><circle cx="397.5" cy="312.8" r="1.1" fill="#cfcfcf"/><circle cx="396.5" cy="312.5" r="1.1" fill="#cfcfcf"/><circle cx="390.2" cy="319" r="1.1" fill="#cfcfcf"/><circle cx="399.5" cy="294.5" r="1.1" fill="#cfcfcf"/><circle cx="387" cy="294.3" r="1.1" fill="#cfcfcf"/><circle cx="395.7" cy="321" r="1.1" fill="#cfcfcf"/><circle cx="400.7" cy="290.5" r="1.1" fill="#cfcfcf"/><circle cx="387" cy="304.4" r="1.1" fill="#cfcfcf"/><circle cx="389.9" cy="317.4" r="1.1" fill="#cfcfcf"/><circle cx="389.3" cy="313.3" r="1.1" fill="#cfcfcf"/><circle cx="398.3" cy="315.9" r="1.1" fill="#cfcfcf"/><circle cx="388.5" cy="312.9" r="1.1" fill="#cfcfcf"/><circle cx="399.3" cy="304.4" r="1.1" fill="#cfcfcf"/><circle cx="401.1" cy="295.7" r="1.1" fill="#cfcfcf"/><circle cx="389.1" cy="315.9" r="1.1" fill="#cfcfcf"/><circle cx="388.7" cy="307.2" r="1.1" fill="#cfcfcf"/><circle cx="390.1" cy="320.1" r="1.1" fill="#cfcfcf"/><circle cx="391.2" cy="322.4" r="1.1" fill="#cfcfcf"/><circle cx="387.1" cy="308.9" r="1.1" fill="#cfcfcf"/><circle cx="389.2" cy="316.8" r="1.1" fill="#cfcfcf"/><circle cx="388.5" cy="303.9" r="1.1" fill="#cfcfcf"/><circle cx="385.8" cy="298.6" r="1.1" fill="#cfcfcf"/><circle cx="394.6" cy="317.3" r="1.1" fill="#cfcfcf"/><circle cx="388.4" cy="307.8" r="1.1" fill="#cfcfcf"/><circle cx="396.4" cy="320.2" r="1.1" fill="#cfcfcf"/><circle cx="396" cy="316.7" r="1.1" fill="#cfcfcf"/><circle cx="390.8" cy="322.3" r="1.1" fill="#cfcfcf"/><circle cx="400.8" cy="291.1" r="1.1" fill="#cfcfcf"/><circle cx="387.4" cy="306.7" r="1.1" fill="#cfcfcf"/><circle cx="389.1" cy="316.2" r="1.1" fill="#cfcfcf"/><circle cx="399.4" cy="296.8" r="1.1" fill="#cfcfcf"/><circle cx="402.3" cy="288.5" r="1.1" fill="#cfcfcf"/><circle cx="389.2" cy="322" r="1.1" fill="#cfcfcf"/><circle cx="389.9" cy="319.2" r="1.1" fill="#cfcfcf"/><circle cx="386.6" cy="294.4" r="1.1" fill="#cfcfcf"/><circle cx="396.8" cy="312.2" r="1.1" fill="#cfcfcf"/><circle cx="385.8" cy="291.1" r="1.1" fill="#cfcfcf"/><circle cx="398.7" cy="310.1" r="1.1" fill="#cfcfcf"/><circle cx="389.4" cy="316.7" r="1.1" fill="#cfcfcf"/><circle cx="399.6" cy="296.7" r="1.1" fill="#cfcfcf"/><circle cx="401.9" cy="289.4" r="1.1" fill="#cfcfcf"/><circle cx="394.6" cy="321" r="1.1" fill="#cfcfcf"/><circle cx="399" cy="304.6" r="1.1" fill="#cfcfcf"/><circle cx="390.5" cy="309.5" r="1.1" fill="#cfcfcf"/><circle cx="386.1" cy="292.2" r="1.1" fill="#cfcfcf"/><circle cx="391.6" cy="322.2" r="1.1" fill="#cfcfcf"/><circle cx="396.4" cy="309.2" r="1.1" fill="#cfcfcf"/><circle cx="398.2" cy="305.1" r="1.1" fill="#cfcfcf"/><circle cx="390.4" cy="321.7" r="1.1" fill="#cfcfcf"/><circle cx="389.9" cy="319.1" r="1.1" fill="#cfcfcf"/><circle cx="387.9" cy="306.6" r="1.1" fill="#cfcfcf"/><circle cx="393.6" cy="320.6" r="1.1" fill="#cfcfcf"/><circle cx="390.3" cy="320.8" r="1.1" fill="#cfcfcf"/><circle cx="386.5" cy="306.1" r="1.1" fill="#cfcfcf"/><circle cx="396" cy="317.7" r="1.1" fill="#cfcfcf"/><circle cx="401.3" cy="291.3" r="1.1" fill="#cfcfcf"/><circle cx="386.7" cy="307.2" r="1.1" fill="#cfcfcf"/><circle cx="386.9" cy="300.7" r="1.1" fill="#cfcfcf"/><circle cx="395.4" cy="321" r="1.1" fill="#cfcfcf"/><circle cx="384.8" cy="291.1" r="1.1" fill="#cfcfcf"/><circle cx="386.2" cy="299.5" r="1.1" fill="#cfcfcf"/><circle cx="388.7" cy="315.8" r="1.1" fill="#cfcfcf"/><circle cx="400.7" cy="294.5" r="1.1" fill="#cfcfcf"/><circle cx="398.1" cy="303.8" r="1.1" fill="#cfcfcf"/><circle cx="390.8" cy="322" r="1.1" fill="#cfcfcf"/><circle cx="395.9" cy="317.4" r="1.1" fill="#cfcfcf"/><circle cx="385.5" cy="294.7" r="1.1" fill="#cfcfcf"/><circle cx="385.4" cy="294.5" r="1.1" fill="#cfcfcf"/><circle cx="394.6" cy="322.4" r="1.1" fill="#cfcfcf"/><circle cx="398.7" cy="300.7" r="1.1" fill="#cfcfcf"/><circle cx="386.5" cy="294.2" r="1.1" fill="#cfcfcf"/><circle cx="388.5" cy="311.9" r="1.1" fill="#cfcfcf"/><circle cx="395.6" cy="319.6" r="1.1" fill="#cfcfcf"/><circle cx="385.3" cy="290.2" r="1.1" fill="#cfcfcf"/><circle cx="397.3" cy="307.5" r="1.1" fill="#cfcfcf"/><circle cx="387.9" cy="307.2" r="1.1" fill="#cfcfcf"/><circle cx="398.2" cy="301.4" r="1.1" fill="#cfcfcf"/><circle cx="388.1" cy="316.8" r="1.1" fill="#cfcfcf"/><circle cx="389.3" cy="314.4" r="1.1" fill="#cfcfcf"/><circle cx="386.3" cy="304.2" r="1.1" fill="#cfcfcf"/><circle cx="388.8" cy="321.3" r="1.1" fill="#cfcfcf"/><circle cx="398.2" cy="308" r="1.1" fill="#cfcfcf"/><circle cx="397.5" cy="310" r="1.1" fill="#cfcfcf"/><circle cx="395.9" cy="309.9" r="1.1" fill="#cfcfcf"/><circle cx="387.9" cy="315.5" r="1.1" fill="#cfcfcf"/><circle cx="388" cy="305" r="1.1" fill="#cfcfcf"/><circle cx="357.6" cy="223.6" r="1.25" fill="#1b9bc2"/><circle cx="359.7" cy="265.4" r="1.25" fill="#1b9bc2"/><circle cx="370.1" cy="259.8" r="1.25" fill="#1b9bc2"/><circle cx="372.5" cy="319" r="1.25" fill="#1b9bc2"/><circle cx="381" cy="268.8" r="1.25" fill="#1b9bc2"/><circle cx="381.9" cy="319.1" r="1.25" fill="#1b9bc2"/><circle cx="382.9" cy="310.8" r="1.25" fill="#1b9bc2"/><circle cx="377.6" cy="290.8" r="1.25" fill="#1b9bc2"/><circle cx="382.3" cy="299.8" r="1.25" fill="#1b9bc2"/><circle cx="382.2" cy="317.3" r="1.25" fill="#1b9bc2"/><circle cx="380.4" cy="300.1" r="1.25" fill="#1b9bc2"/><circle cx="374.4" cy="307.8" r="1.25" fill="#1b9bc2"/><circle cx="380.2" cy="320.6" r="1.25" fill="#1b9bc2"/><circle cx="381.2" cy="320" r="1.25" fill="#1b9bc2"/><circle cx="384.6" cy="316.7" r="1.25" fill="#1b9bc2"/><circle cx="380.7" cy="292.1" r="1.25" fill="#1b9bc2"/><circle cx="382.2" cy="289.1" r="1.25" fill="#1b9bc2"/><circle cx="378.3" cy="279.1" r="1.25" fill="#1b9bc2"/><circle cx="381.3" cy="316.9" r="1.25" fill="#1b9bc2"/><circle cx="382.5" cy="309.2" r="1.25" fill="#1b9bc2"/><circle cx="382.5" cy="318.6" r="1.25" fill="#1b9bc2"/><circle cx="382.1" cy="261.2" r="1.25" fill="#1b9bc2"/><circle cx="375.8" cy="317.1" r="1.25" fill="#1b9bc2"/><circle cx="379.4" cy="255.8" r="1.25" fill="#1b9bc2"/><circle cx="378.5" cy="319.6" r="1.25" fill="#1b9bc2"/><circle cx="373.3" cy="288.7" r="1.25" fill="#1b9bc2"/><circle cx="382" cy="302.4" r="1.25" fill="#1b9bc2"/><circle cx="383.7" cy="318.5" r="1.25" fill="#1b9bc2"/><circle cx="384.9" cy="313.3" r="1.25" fill="#1b9bc2"/><circle cx="372.6" cy="263.2" r="1.25" fill="#1b9bc2"/><circle cx="381.8" cy="319.5" r="1.25" fill="#1b9bc2"/><circle cx="381.1" cy="320.6" r="1.25" fill="#1b9bc2"/><circle cx="380.8" cy="299.4" r="1.25" fill="#1b9bc2"/><circle cx="382.8" cy="308.3" r="1.25" fill="#1b9bc2"/><circle cx="384.3" cy="303.5" r="1.25" fill="#1b9bc2"/><circle cx="383.7" cy="295" r="1.25" fill="#1b9bc2"/><circle cx="384.3" cy="320.1" r="1.25" fill="#1b9bc2"/><circle cx="381.3" cy="254.4" r="1.25" fill="#1b9bc2"/><circle cx="373.3" cy="292.6" r="1.25" fill="#1b9bc2"/><circle cx="374.8" cy="308.2" r="1.25" fill="#1b9bc2"/><circle cx="372.5" cy="318.4" r="1.25" fill="#1b9bc2"/><circle cx="377.1" cy="299.4" r="1.25" fill="#1b9bc2"/><circle cx="384.1" cy="293" r="1.25" fill="#1b9bc2"/><circle cx="383" cy="292.6" r="1.25" fill="#1b9bc2"/><circle cx="376" cy="314.4" r="1.25" fill="#1b9bc2"/><circle cx="379.8" cy="313.8" r="1.25" fill="#1b9bc2"/><circle cx="378.8" cy="283.1" r="1.25" fill="#1b9bc2"/><circle cx="382.7" cy="306.6" r="1.25" fill="#1b9bc2"/><circle cx="383.1" cy="310.3" r="1.25" fill="#1b9bc2"/><circle cx="382.3" cy="313.4" r="1.25" fill="#1b9bc2"/><circle cx="380.1" cy="296.5" r="1.25" fill="#1b9bc2"/><circle cx="382" cy="318.5" r="1.25" fill="#1b9bc2"/><circle cx="377.2" cy="312.2" r="1.25" fill="#1b9bc2"/><circle cx="380.3" cy="295.6" r="1.25" fill="#1b9bc2"/><circle cx="380.9" cy="315" r="1.25" fill="#1b9bc2"/><circle cx="385.3" cy="291.8" r="1.25" fill="#1b9bc2"/><circle cx="377.6" cy="301.9" r="1.25" fill="#1b9bc2"/><circle cx="383" cy="288.7" r="1.25" fill="#1b9bc2"/><circle cx="379.8" cy="290.8" r="1.25" fill="#1b9bc2"/><circle cx="375.8" cy="288.3" r="1.25" fill="#1b9bc2"/><circle cx="380.8" cy="304.6" r="1.25" fill="#1b9bc2"/><circle cx="377.8" cy="279.3" r="1.25" fill="#1b9bc2"/><circle cx="381.4" cy="321.6" r="1.25" fill="#1b9bc2"/><circle cx="380.9" cy="303.3" r="1.25" fill="#1b9bc2"/><circle cx="379" cy="263.1" r="1.25" fill="#1b9bc2"/><circle cx="380.5" cy="310" r="1.25" fill="#1b9bc2"/><circle cx="381.5" cy="270.5" r="1.25" fill="#1b9bc2"/><circle cx="376.3" cy="278.4" r="1.25" fill="#1b9bc2"/><circle cx="383.5" cy="293.4" r="1.25" fill="#1b9bc2"/><circle cx="374.8" cy="304.1" r="1.25" fill="#1b9bc2"/><circle cx="380.6" cy="272.7" r="1.25" fill="#1b9bc2"/><circle cx="383" cy="319.8" r="1.25" fill="#1b9bc2"/><circle cx="383.4" cy="295.8" r="1.25" fill="#1b9bc2"/><circle cx="379.8" cy="319.2" r="1.25" fill="#1b9bc2"/><circle cx="379.1" cy="321.4" r="1.25" fill="#1b9bc2"/><circle cx="376.3" cy="308.4" r="1.25" fill="#1b9bc2"/><circle cx="379.3" cy="272.5" r="1.25" fill="#1b9bc2"/><circle cx="374.6" cy="315.8" r="1.25" fill="#1b9bc2"/><circle cx="380.5" cy="266.4" r="1.25" fill="#1b9bc2"/><circle cx="380.6" cy="314" r="1.25" fill="#1b9bc2"/><circle cx="380.7" cy="308.8" r="1.25" fill="#1b9bc2"/><circle cx="375.7" cy="308.9" r="1.25" fill="#1b9bc2"/><circle cx="379.6" cy="258.4" r="1.25" fill="#1b9bc2"/><circle cx="384.9" cy="308.1" r="1.25" fill="#1b9bc2"/><circle cx="381.9" cy="319.5" r="1.25" fill="#1b9bc2"/><circle cx="384.7" cy="316" r="1.25" fill="#1b9bc2"/><circle cx="375" cy="287.9" r="1.25" fill="#1b9bc2"/><circle cx="384.2" cy="316.2" r="1.25" fill="#1b9bc2"/><circle cx="380" cy="293" r="1.25" fill="#1b9bc2"/><circle cx="381.8" cy="309.8" r="1.25" fill="#1b9bc2"/><circle cx="382.4" cy="308" r="1.25" fill="#1b9bc2"/><circle cx="382.1" cy="247.7" r="1.25" fill="#1b9bc2"/><circle cx="381.4" cy="317.5" r="1.25" fill="#1b9bc2"/><circle cx="383.7" cy="292.3" r="1.25" fill="#1b9bc2"/><circle cx="377.7" cy="291.9" r="1.25" fill="#1b9bc2"/><circle cx="377.4" cy="321.4" r="1.25" fill="#1b9bc2"/><circle cx="380.7" cy="299.4" r="1.25" fill="#1b9bc2"/><circle cx="377.1" cy="290.7" r="1.25" fill="#1b9bc2"/><circle cx="378.2" cy="310.5" r="1.25" fill="#1b9bc2"/><circle cx="378.2" cy="321.3" r="1.25" fill="#1b9bc2"/><circle cx="382" cy="312.5" r="1.25" fill="#1b9bc2"/><circle cx="378.4" cy="302.2" r="1.25" fill="#1b9bc2"/><circle cx="374.8" cy="289.8" r="1.25" fill="#1b9bc2"/><circle cx="382.7" cy="319.4" r="1.25" fill="#1b9bc2"/><circle cx="382.2" cy="265.3" r="1.25" fill="#1b9bc2"/><circle cx="381.6" cy="311.6" r="1.25" fill="#1b9bc2"/><circle cx="384.1" cy="309.4" r="1.25" fill="#1b9bc2"/><circle cx="383.8" cy="309.2" r="1.25" fill="#1b9bc2"/><circle cx="383.8" cy="308.2" r="1.25" fill="#1b9bc2"/><circle cx="382.1" cy="308.7" r="1.25" fill="#1b9bc2"/><circle cx="376.3" cy="259" r="1.25" fill="#1b9bc2"/><circle cx="382.6" cy="309.3" r="1.25" fill="#1b9bc2"/><circle cx="372.5" cy="308.9" r="1.25" fill="#1b9bc2"/><circle cx="376.3" cy="304.5" r="1.25" fill="#1b9bc2"/><circle cx="378.9" cy="302.7" r="1.25" fill="#1b9bc2"/><circle cx="378" cy="311.2" r="1.25" fill="#1b9bc2"/><circle cx="382.6" cy="260.3" r="1.25" fill="#1b9bc2"/><circle cx="382.3" cy="298" r="1.25" fill="#1b9bc2"/><circle cx="380.8" cy="307.5" r="1.25" fill="#1b9bc2"/><circle cx="380.2" cy="306.3" r="1.25" fill="#1b9bc2"/><circle cx="379.3" cy="316.8" r="1.25" fill="#1b9bc2"/><circle cx="382.7" cy="288.6" r="1.25" fill="#1b9bc2"/><circle cx="382.3" cy="261.9" r="1.25" fill="#1b9bc2"/><circle cx="379.4" cy="268.6" r="1.25" fill="#1b9bc2"/><circle cx="383.6" cy="287.1" r="1.25" fill="#1b9bc2"/><circle cx="380.2" cy="303.8" r="1.25" fill="#1b9bc2"/><circle cx="381.2" cy="320.8" r="1.25" fill="#1b9bc2"/><circle cx="382.9" cy="304" r="1.25" fill="#1b9bc2"/><circle cx="381.6" cy="314.6" r="1.25" fill="#1b9bc2"/><circle cx="381.6" cy="297.4" r="1.25" fill="#1b9bc2"/><circle cx="379.1" cy="312.6" r="1.25" fill="#1b9bc2"/><circle cx="380.1" cy="312.1" r="1.25" fill="#1b9bc2"/><circle cx="379.1" cy="292.4" r="1.25" fill="#1b9bc2"/><circle cx="378.4" cy="305.9" r="1.25" fill="#1b9bc2"/><circle cx="406.3" cy="227.3" r="1.25" fill="#f07373"/><circle cx="411.4" cy="246.6" r="1.25" fill="#f07373"/><circle cx="424.7" cy="305.6" r="1.25" fill="#f07373"/><circle cx="413.5" cy="315.2" r="1.25" fill="#f07373"/><circle cx="404" cy="319" r="1.25" fill="#f07373"/><circle cx="406" cy="321.5" r="1.25" fill="#f07373"/><circle cx="402.5" cy="322" r="1.25" fill="#f07373"/><circle cx="404.2" cy="296.3" r="1.25" fill="#f07373"/><circle cx="402.5" cy="309.2" r="1.25" fill="#f07373"/><circle cx="401.7" cy="299.4" r="1.25" fill="#f07373"/><circle cx="401.7" cy="265.8" r="1.25" fill="#f07373"/><circle cx="404.6" cy="268.7" r="1.25" fill="#f07373"/><circle cx="403.5" cy="283.5" r="1.25" fill="#f07373"/><circle cx="402.3" cy="288.2" r="1.25" fill="#f07373"/><circle cx="402.2" cy="264.7" r="1.25" fill="#f07373"/><circle cx="402.9" cy="311.8" r="1.25" fill="#f07373"/><circle cx="402.6" cy="286.4" r="1.25" fill="#f07373"/><circle cx="404.3" cy="305" r="1.25" fill="#f07373"/><circle cx="403.5" cy="284.3" r="1.25" fill="#f07373"/><circle cx="403.8" cy="285" r="1.25" fill="#f07373"/><circle cx="403.8" cy="296.4" r="1.25" fill="#f07373"/><circle cx="405.3" cy="314.3" r="1.25" fill="#f07373"/><circle cx="403" cy="265" r="1.25" fill="#f07373"/><circle cx="403" cy="264.3" r="1.25" fill="#f07373"/><circle cx="404.2" cy="308.6" r="1.25" fill="#f07373"/><circle cx="401.8" cy="294.9" r="1.25" fill="#f07373"/><circle cx="403.9" cy="309.1" r="1.25" fill="#f07373"/><circle cx="404.6" cy="279.6" r="1.25" fill="#f07373"/><text x="312.8" y="262.5" font-size="8.2" text-anchor="middle" fill="#222" stroke="#222" stroke-width="0.172" transform="rotate(-90 312.8 262.5)">-log10(pval)</text><rect x="328.1" y="347.6" width="133.2" height="113.79999999999995" fill="none" stroke="#888" stroke-width="1"/><line x1="328.1" y1="347.6" x2="328.1" y2="461.4" stroke="#222" stroke-width="1"/><line x1="328.1" y1="461.4" x2="461.3" y2="461.4" stroke="#222" stroke-width="1"/><line x1="386.7" y1="347.6" x2="386.7" y2="461.4" stroke="#aaa" stroke-width="0.6"/><line x1="403.5" y1="347.6" x2="403.5" y2="461.4" stroke="#888" stroke-width="0.6"/><line x1="328.1" y1="454" x2="461.3" y2="454" stroke="#aaa" stroke-width="0.9" stroke-dasharray="1.5 0.8"/><line x1="325.1" y1="347.6" x2="328.1" y2="347.6" stroke="#222" stroke-width="0.8"/><text x="325.1" y="350.1" font-size="7" text-anchor="end" fill="#222" stroke="#222" stroke-width="0.147">30</text><line x1="325.1" y1="385.7" x2="328.1" y2="385.7" stroke="#222" stroke-width="0.8"/><text x="325.1" y="388.2" font-size="7" text-anchor="end" fill="#222" stroke="#222" stroke-width="0.147">20</text><line x1="325.1" y1="423.3" x2="328.1" y2="423.3" stroke="#222" stroke-width="0.8"/><text x="325.1" y="425.8" font-size="7" text-anchor="end" fill="#222" stroke="#222" stroke-width="0.147">10</text><line x1="325.1" y1="461.4" x2="328.1" y2="461.4" stroke="#222" stroke-width="0.8"/><text x="325.1" y="463.9" font-size="7" text-anchor="end" fill="#222" stroke="#222" stroke-width="0.147">0</text><line x1="353.40000000000003" y1="461.4" x2="353.40000000000003" y2="464.4" stroke="#222" stroke-width="0.8"/><text x="353.40000000000003" y="471.4" font-size="8" text-anchor="middle" fill="#222" stroke="#222" stroke-width="0.168">-5</text><line x1="394.6" y1="461.4" x2="394.6" y2="464.4" stroke="#222" stroke-width="0.8"/><text x="394.6" y="471.4" font-size="8" text-anchor="middle" fill="#222" stroke="#222" stroke-width="0.168">0</text><line x1="435.8" y1="461.4" x2="435.8" y2="464.4" stroke="#222" stroke-width="0.8"/><text x="435.8" y="471.4" font-size="8" text-anchor="middle" fill="#222" stroke="#222" stroke-width="0.168">5</text><text x="330.1" y="357.1" font-size="9.5" text-anchor="start" fill="#1a86a8" stroke="#1a86a8" stroke-width="0.2">29</text><text x="455.3" y="357.1" font-size="9.5" text-anchor="end" fill="#f07070" stroke="#f07070" stroke-width="0.2">12</text><circle cx="397.1" cy="454.9" r="1.1" fill="#cfcfcf"/><circle cx="400.8" cy="424.3" r="1.1" fill="#cfcfcf"/><circle cx="395.8" cy="455.1" r="1.1" fill="#cfcfcf"/><circle cx="398.9" cy="434.4" r="1.1" fill="#cfcfcf"/><circle cx="399.7" cy="424" r="1.1" fill="#cfcfcf"/><circle cx="397.1" cy="455.3" r="1.1" fill="#cfcfcf"/><circle cx="396.4" cy="451.7" r="1.1" fill="#cfcfcf"/><circle cx="398.2" cy="449.8" r="1.1" fill="#cfcfcf"/><circle cx="392.8" cy="444.7" r="1.1" fill="#cfcfcf"/><circle cx="392.3" cy="446.2" r="1.1" fill="#cfcfcf"/><circle cx="394.5" cy="446.4" r="1.1" fill="#cfcfcf"/><circle cx="401.9" cy="392.9" r="1.1" fill="#cfcfcf"/><circle cx="388.2" cy="430.6" r="1.1" fill="#cfcfcf"/><circle cx="398.3" cy="444.3" r="1.1" fill="#cfcfcf"/><circle cx="395.5" cy="449.4" r="1.1" fill="#cfcfcf"/><circle cx="398.8" cy="436.8" r="1.1" fill="#cfcfcf"/><circle cx="398.3" cy="454.2" r="1.1" fill="#cfcfcf"/><circle cx="398.5" cy="446.3" r="1.1" fill="#cfcfcf"/><circle cx="390" cy="436.9" r="1.1" fill="#cfcfcf"/><circle cx="401" cy="410" r="1.1" fill="#cfcfcf"/><circle cx="390.9" cy="435.6" r="1.1" fill="#cfcfcf"/><circle cx="392.5" cy="448.2" r="1.1" fill="#cfcfcf"/><circle cx="397.8" cy="455" r="1.1" fill="#cfcfcf"/><circle cx="393.2" cy="448.4" r="1.1" fill="#cfcfcf"/><circle cx="399.5" cy="439.4" r="1.1" fill="#cfcfcf"/><circle cx="386.8" cy="427.4" r="1.1" fill="#cfcfcf"/><circle cx="393.7" cy="448.6" r="1.1" fill="#cfcfcf"/><circle cx="398.2" cy="449.4" r="1.1" fill="#cfcfcf"/><circle cx="394.4" cy="451.4" r="1.1" fill="#cfcfcf"/><circle cx="401.7" cy="401.1" r="1.1" fill="#cfcfcf"/><circle cx="400.2" cy="424.2" r="1.1" fill="#cfcfcf"/><circle cx="403.4" cy="396" r="1.1" fill="#cfcfcf"/><circle cx="400.9" cy="419.7" r="1.1" fill="#cfcfcf"/><circle cx="396.8" cy="454.4" r="1.1" fill="#cfcfcf"/><circle cx="398.4" cy="451.8" r="1.1" fill="#cfcfcf"/><circle cx="399.7" cy="423.6" r="1.1" fill="#cfcfcf"/><circle cx="392.4" cy="445.4" r="1.1" fill="#cfcfcf"/><circle cx="400.5" cy="416.5" r="1.1" fill="#cfcfcf"/><circle cx="398.6" cy="452.7" r="1.1" fill="#cfcfcf"/><circle cx="390.4" cy="435.9" r="1.1" fill="#cfcfcf"/><circle cx="391.5" cy="440.6" r="1.1" fill="#cfcfcf"/><circle cx="392" cy="438.1" r="1.1" fill="#cfcfcf"/><circle cx="395.5" cy="455" r="1.1" fill="#cfcfcf"/><circle cx="400.7" cy="415.6" r="1.1" fill="#cfcfcf"/><circle cx="401.6" cy="410.3" r="1.1" fill="#cfcfcf"/><circle cx="402.9" cy="408.3" r="1.1" fill="#cfcfcf"/><circle cx="403.1" cy="393.5" r="1.1" fill="#cfcfcf"/><circle cx="400.1" cy="430.5" r="1.1" fill="#cfcfcf"/><circle cx="388.7" cy="430.1" r="1.1" fill="#cfcfcf"/><circle cx="401" cy="416.4" r="1.1" fill="#cfcfcf"/><circle cx="391.6" cy="441.3" r="1.1" fill="#cfcfcf"/><circle cx="394.8" cy="452.7" r="1.1" fill="#cfcfcf"/><circle cx="398.3" cy="445.4" r="1.1" fill="#cfcfcf"/><circle cx="403.4" cy="399.9" r="1.1" fill="#cfcfcf"/><circle cx="403.6" cy="400.7" r="1.1" fill="#cfcfcf"/><circle cx="401.1" cy="409.3" r="1.1" fill="#cfcfcf"/><circle cx="398.5" cy="439.5" r="1.1" fill="#cfcfcf"/><circle cx="400.9" cy="421.3" r="1.1" fill="#cfcfcf"/><circle cx="398" cy="448.2" r="1.1" fill="#cfcfcf"/><circle cx="400.5" cy="415.2" r="1.1" fill="#cfcfcf"/><circle cx="389.8" cy="436.5" r="1.1" fill="#cfcfcf"/><circle cx="393.8" cy="445.2" r="1.1" fill="#cfcfcf"/><circle cx="398.3" cy="435.9" r="1.1" fill="#cfcfcf"/><circle cx="388.5" cy="431.2" r="1.1" fill="#cfcfcf"/><circle cx="401.1" cy="442" r="1.1" fill="#cfcfcf"/><circle cx="394.1" cy="446.3" r="1.1" fill="#cfcfcf"/><circle cx="396.5" cy="446.4" r="1.1" fill="#cfcfcf"/><circle cx="400.5" cy="415" r="1.1" fill="#cfcfcf"/><circle cx="396.2" cy="452" r="1.1" fill="#cfcfcf"/><circle cx="395.9" cy="454" r="1.1" fill="#cfcfcf"/><circle cx="360.9" cy="378.3" r="1.25" fill="#1b9bc2"/><circle cx="379.3" cy="366" r="1.25" fill="#1b9bc2"/><circle cx="382.5" cy="368.9" r="1.25" fill="#1b9bc2"/><circle cx="376.7" cy="375.7" r="1.25" fill="#1b9bc2"/><circle cx="383.3" cy="375.7" r="1.25" fill="#1b9bc2"/><circle cx="378.3" cy="381" r="1.25" fill="#1b9bc2"/><circle cx="382" cy="380.4" r="1.25" fill="#1b9bc2"/><circle cx="385.9" cy="381" r="1.25" fill="#1b9bc2"/><circle cx="381.2" cy="385.7" r="1.25" fill="#1b9bc2"/><circle cx="374.1" cy="391" r="1.25" fill="#1b9bc2"/><circle cx="377.5" cy="391" r="1.25" fill="#1b9bc2"/><circle cx="382.5" cy="400.1" r="1.25" fill="#1b9bc2"/><circle cx="383.3" cy="402" r="1.25" fill="#1b9bc2"/><circle cx="376.2" cy="404.6" r="1.25" fill="#1b9bc2"/><circle cx="379.3" cy="404.1" r="1.25" fill="#1b9bc2"/><circle cx="386.4" cy="404.1" r="1.25" fill="#1b9bc2"/><circle cx="380.6" cy="409.3" r="1.25" fill="#1b9bc2"/><circle cx="385.1" cy="419.3" r="1.25" fill="#1b9bc2"/><circle cx="382" cy="425.1" r="1.25" fill="#1b9bc2"/><circle cx="385.9" cy="424.6" r="1.25" fill="#1b9bc2"/><circle cx="384.6" cy="427.7" r="1.25" fill="#1b9bc2"/><circle cx="385.1" cy="433.8" r="1.25" fill="#1b9bc2"/><circle cx="386.7" cy="435.6" r="1.25" fill="#1b9bc2"/><circle cx="384.1" cy="440.9" r="1.25" fill="#1b9bc2"/><circle cx="382" cy="448" r="1.25" fill="#1b9bc2"/><circle cx="378.8" cy="454" r="1.25" fill="#1b9bc2"/><circle cx="412.7" cy="353.6" r="1.25" fill="#f07373"/><circle cx="403.5" cy="382.5" r="1.25" fill="#f07373"/><circle cx="404.3" cy="391" r="1.25" fill="#f07373"/><circle cx="403.5" cy="409.3" r="1.25" fill="#f07373"/><circle cx="403.5" cy="416.7" r="1.25" fill="#f07373"/><circle cx="403.5" cy="420.6" r="1.25" fill="#f07373"/><circle cx="403.5" cy="427" r="1.25" fill="#f07373"/><circle cx="404.3" cy="448.7" r="1.25" fill="#f07373"/><circle cx="407.7" cy="448.7" r="1.25" fill="#f07373"/><circle cx="408.8" cy="452.7" r="1.25" fill="#f07373"/><text x="313.5" y="392" font-size="8.2" text-anchor="middle" fill="#222" stroke="#222" stroke-width="0.172" transform="rotate(-90 313.5 392)">-log10(pval)</text><text x="393.8" y="480.5" font-size="8" text-anchor="middle" fill="#222" stroke="#222" stroke-width="0.168">log2FC</text><text x="482.5" y="205.5" font-size="14" text-anchor="start" fill="#000" font-weight="bold">f</text><circle cx="536" cy="208.2" r="3.9" fill="#1fa3cc"/><text x="543.5" y="211.5" font-size="9.2" text-anchor="start" fill="#111" stroke="#111" stroke-width="0.193">0 mg/L</text><circle cx="598.7" cy="208.2" r="3.9" fill="#d9c56a"/><text x="610.5" y="211.5" font-size="9.2" text-anchor="start" fill="#111" stroke="#111" stroke-width="0.193">20 mg/L</text><path d="M511.5 321.2L511.5 272.7L512.5 271.8L513.5 267.9L514.5 262.8L515.5 267L516.5 272.1L517.5 277.3L518.5 274.4L519.5 271.2L520.5 266.9L521.5 257.3L522.5 264.9L523.5 262.5L524.5 259.6L525.5 261.2L526.5 264.2L527.5 266.4L528.5 266.9L529.5 269.4L530.5 272.6L531.5 273.2L532.5 274.9L533.5 278.1L534.5 278.3L535.5 277.9L536.5 280.7L537.5 283.3L538.5 284.3L539.5 286.2L540.5 290.7L541.5 294.2L542.5 294.9L543.5 296.3L544.5 298.2L545.5 302.8L546.5 304L547.5 302.8L548.5 300L549.5 294.9L550.5 281.4L551.5 267.8L552.5 257.4L553.5 254.8L554.5 247.4L555.5 246.3L556.5 243.6L557.5 241L558.5 241.3L559.5 240L560.5 240.4L561.5 246.6L562.5 250.7L563.5 254.1L564.5 257.9L565.5 259.8L566.5 259.7L567.5 263.4L568.5 265.2L569.5 261.6L570.5 269.2L571.5 272.5L572.5 270.5L573.5 277.4L574.5 280.3L575.5 283.1L576.5 284.9L577.5 288L578.5 289.2L579.5 290.5L580.5 291.4L581.5 294.2L582.5 295.2L583.5 295.5L584.5 297.8L585.5 300.6L586.5 301.3L587.5 298.6L588.5 298.5L589.5 301.1L590.5 299.9L591.5 299.6L592.5 299.3L593.5 295.6L594.5 302.1L595.5 302.9L596.5 299.9L597.5 299.3L598.5 296.7L599.5 297.7L600.5 301.4L601.5 299.9L602.5 294.3L603.5 293.9L604.5 295.9L605.5 297.4L606.5 295.8L607.5 294.2L608.5 295.1L609.5 295.3L610.5 294.8L611.5 294.5L612.5 296.1L613.5 296.4L614.5 295.9L615.5 295.1L616.5 294.1L617.5 295.6L618.5 297.9L619.5 296.2L620.5 295.2L621.5 298.4L622.5 297.9L623.5 297.2L624.5 293.2L625.5 289.5L626.5 287.5L627.5 290.1L628.5 295.9L629.5 299.9L630.5 305.4L631.5 304.5L632.5 301.4L633.5 299.5L634.5 297.9L635.5 297L636.5 296.1L637.5 290.9L638.5 286.6L639.5 281L640.5 275.7L641.5 263.4L642.5 268.6L643.5 270.8L644.5 269.8L645.5 270.1L646.5 270.3L647.5 270.5L648.5 269.5L649.5 267.8L650.5 264.4L651.5 261.3L652.5 259.5L653.5 253.2L654.5 255.7L655.5 254.8L656.5 253L657.5 257L658.5 257.6L659.5 257.9L660.5 261.9L661.5 265.5L662.5 267.7L663.5 265.9L664.5 266.9L665.5 268.6L666.5 273L667.5 273.2L667.5 321.2Z" fill="#1eaacc"/><path d="M511.5 272.7L512.5 271.8L513.5 267.9L514.5 262.8L515.5 267L516.5 272.1L517.5 277.3L518.5 274.4L519.5 271.2L520.5 266.9L521.5 257.3L522.5 264.9L523.5 262.5L524.5 259.6L525.5 261.2L526.5 264.2L527.5 266.4L528.5 266.9L529.5 269.4L530.5 272.6L531.5 273.2L532.5 274.9L533.5 278.1L534.5 278.3L535.5 277.9L536.5 280.7L537.5 283.3L538.5 284.3L539.5 286.2L540.5 290.7L541.5 294.2L542.5 294.9L543.5 296.3L544.5 298.2L545.5 302.8L546.5 304L547.5 302.8L548.5 300L549.5 294.9L550.5 281.4L551.5 267.8L552.5 257.4L553.5 254.8L554.5 247.4L555.5 246.3L556.5 243.6L557.5 241L558.5 241.3L559.5 240L560.5 240.4L561.5 246.6L562.5 250.7L563.5 254.1L564.5 257.9L565.5 259.8L566.5 259.7L567.5 263.4L568.5 265.2L569.5 261.6L570.5 269.2L571.5 272.5L572.5 270.5L573.5 277.4L574.5 280.3L575.5 283.1L576.5 284.9L577.5 288L578.5 289.2L579.5 290.5L580.5 291.4L581.5 294.2L582.5 295.2L583.5 295.5L584.5 297.8L585.5 300.6L586.5 301.3L587.5 298.6L588.5 298.5L589.5 301.1L590.5 299.9L591.5 299.6L592.5 299.3L593.5 295.6L594.5 302.1L595.5 302.9L596.5 299.9L597.5 299.3L598.5 296.7L599.5 297.7L600.5 301.4L601.5 299.9L602.5 294.3L603.5 293.9L604.5 295.9L605.5 297.4L606.5 295.8L607.5 294.2L608.5 295.1L609.5 295.3L610.5 294.8L611.5 294.5L612.5 296.1L613.5 296.4L614.5 295.9L615.5 295.1L616.5 294.1L617.5 295.6L618.5 297.9L619.5 296.2L620.5 295.2L621.5 298.4L622.5 297.9L623.5 297.2L624.5 293.2L625.5 289.5L626.5 287.5L627.5 290.1L628.5 295.9L629.5 299.9L630.5 305.4L631.5 304.5L632.5 301.4L633.5 299.5L634.5 297.9L635.5 297L636.5 296.1L637.5 290.9L638.5 286.6L639.5 281L640.5 275.7L641.5 263.4L642.5 268.6L643.5 270.8L644.5 269.8L645.5 270.1L646.5 270.3L647.5 270.5L648.5 269.5L649.5 267.8L650.5 264.4L651.5 261.3L652.5 259.5L653.5 253.2L654.5 255.7L655.5 254.8L656.5 253L657.5 257L658.5 257.6L659.5 257.9L660.5 261.9L661.5 265.5L662.5 267.7L663.5 265.9L664.5 266.9L665.5 268.6L666.5 273L667.5 273.2" fill="none" stroke="#1a8fb5" stroke-width="0.5"/><path d="M511.5 321.2L511.5 283.1L512.5 285.3L513.5 286.5L514.5 284.4L515.5 288.6L516.5 291.4L517.5 291.3L518.5 289.6L519.5 286.3L520.5 280.1L521.5 274.2L522.5 278.4L523.5 274.3L524.5 270.8L525.5 273.1L526.5 273.7L527.5 277.2L528.5 278.9L529.5 278.5L530.5 282.6L531.5 281.6L532.5 281.2L533.5 285.6L534.5 285.3L535.5 286.5L536.5 287.2L537.5 290.9L538.5 289.9L539.5 292.1L540.5 294.3L541.5 297.1L542.5 299.4L543.5 300L544.5 301.2L545.5 304.1L546.5 307.6L547.5 302.8L548.5 300L549.5 294.9L550.5 281.4L551.5 267.8L552.5 259.2L553.5 259L554.5 254.4L555.5 253.4L556.5 253.2L557.5 251.6L558.5 251.5L559.5 251.6L560.5 250.5L561.5 254.5L562.5 257.5L563.5 258.9L564.5 261.9L565.5 262.1L566.5 265.4L567.5 267L568.5 269.7L569.5 267L570.5 274.9L571.5 278.6L572.5 277.8L573.5 283.2L574.5 283.8L575.5 287.3L576.5 289.6L577.5 292.1L578.5 295.4L579.5 296.1L580.5 297.2L581.5 300.2L582.5 300.2L583.5 301.1L584.5 303.4L585.5 307.2L586.5 308.2L587.5 306.9L588.5 307.5L589.5 307.3L590.5 307.4L591.5 308L592.5 306.7L593.5 305L594.5 311.1L595.5 312L596.5 310.1L597.5 308.9L598.5 306.9L599.5 308.9L600.5 310.3L601.5 310L602.5 307.1L603.5 305.3L604.5 306.5L605.5 307.4L606.5 306.1L607.5 304.2L608.5 303.9L609.5 303.6L610.5 300.6L611.5 300.4L612.5 302L613.5 300.9L614.5 299.9L615.5 299.1L616.5 298.3L617.5 299.8L618.5 300.3L619.5 299.9L620.5 300.2L621.5 300.4L622.5 302.1L623.5 301.6L624.5 298.4L625.5 297.4L626.5 296.3L627.5 300.5L628.5 302.2L629.5 305.7L630.5 307.4L631.5 304.5L632.5 303.9L633.5 302.7L634.5 299L635.5 299.6L636.5 296.1L637.5 295.4L638.5 291.9L639.5 291.2L640.5 286.7L641.5 278.6L642.5 284.5L643.5 287.3L644.5 283.6L645.5 284.6L646.5 283.7L647.5 283L648.5 282.7L649.5 282.4L650.5 277.6L651.5 277.3L652.5 276.1L653.5 270.3L654.5 275L655.5 274.9L656.5 271.3L657.5 276.5L658.5 275.3L659.5 275.3L660.5 279.6L661.5 281L662.5 283.2L663.5 283.7L664.5 284.8L665.5 286.2L666.5 287.8L667.5 288.4L667.5 321.2Z" fill="#d0cc8a"/><path d="M511.5 321.2 L511.5 216.7 L668.4 216.7 L668.4 321.2 Z" fill="none" stroke="#555" stroke-width="0.8"/><line x1="511.5" y1="216.7" x2="511.5" y2="321.2" stroke="#222" stroke-width="1"/><line x1="511.5" y1="321.2" x2="668.4" y2="321.2" stroke="#222" stroke-width="1"/><line x1="507.5" y1="216.7" x2="511.5" y2="216.7" stroke="#222" stroke-width="0.9"/><text x="506.5" y="219.2" font-size="7" text-anchor="end" fill="#111" stroke="#111" stroke-width="0.147">0.05</text><line x1="507.5" y1="237.7" x2="511.5" y2="237.7" stroke="#222" stroke-width="0.9"/><text x="506.5" y="240.2" font-size="7" text-anchor="end" fill="#111" stroke="#111" stroke-width="0.147">0.04</text><line x1="507.5" y1="258.4" x2="511.5" y2="258.4" stroke="#222" stroke-width="0.9"/><text x="506.5" y="260.9" font-size="7" text-anchor="end" fill="#111" stroke="#111" stroke-width="0.147">0.03</text><line x1="507.5" y1="279.5" x2="511.5" y2="279.5" stroke="#222" stroke-width="0.9"/><text x="506.5" y="282.0" font-size="7" text-anchor="end" fill="#111" stroke="#111" stroke-width="0.147">0.02</text><line x1="507.5" y1="300.5" x2="511.5" y2="300.5" stroke="#222" stroke-width="0.9"/><text x="506.5" y="303.0" font-size="7" text-anchor="end" fill="#111" stroke="#111" stroke-width="0.147">0.01</text><line x1="507.5" y1="321.2" x2="511.5" y2="321.2" stroke="#222" stroke-width="0.9"/><line x1="511.5" y1="321.2" x2="511.5" y2="325.2" stroke="#222" stroke-width="0.9"/><line x1="550.7" y1="321.2" x2="550.7" y2="325.2" stroke="#222" stroke-width="0.9"/><line x1="629.4" y1="321.2" x2="629.4" y2="325.2" stroke="#222" stroke-width="0.9"/><line x1="668.4" y1="321.2" x2="668.4" y2="325.2" stroke="#222" stroke-width="0.9"/><text x="514.5" y="333.2" font-size="7.2" text-anchor="middle" fill="#111" stroke="#111" stroke-width="0.151">- 0.5 kb</text><text x="551.2" y="333.2" font-size="7.2" text-anchor="middle" fill="#111" stroke="#111" stroke-width="0.151">TSS</text><text x="629.9" y="333.2" font-size="7.2" text-anchor="middle" fill="#111" stroke="#111" stroke-width="0.151">TTS</text><text x="668.4" y="333.2" font-size="7.2" text-anchor="middle" fill="#111" stroke="#111" stroke-width="0.151">0.5 kb</text><text x="666.5" y="226" font-size="9.1" text-anchor="end" fill="#f0606a" stroke="#f0606a" stroke-width="0.191">Upregulated</text><text x="488.5" y="268" font-size="8.6" text-anchor="middle" fill="#111" stroke="#111" stroke-width="0.181" transform="rotate(-90 488.5 268)">6mA frequency</text><path d="M513.3 454L513.3 410.7L514.3 412L515.3 411.3L516.3 410.8L517.3 409.8L518.3 402.9L519.3 403.6L520.3 402.5L521.3 407L522.3 415.4L523.3 417L524.3 414.4L525.3 410.6L526.3 410.2L527.3 411.3L528.3 415.4L529.3 416.7L530.3 417.1L531.3 417.3L532.3 421L533.3 424.9L534.3 427.5L535.3 431L536.3 431.4L537.3 431.1L538.3 431.3L539.3 430.2L540.3 432.2L541.3 431.9L542.3 432L543.3 434L544.3 433.4L545.3 432.9L546.3 434L547.3 437L548.3 439.4L549.3 441.4L550.3 442.2L551.3 442.1L552.3 442.7L553.3 419.3L554.3 395.8L555.3 394.4L556.3 391.4L557.3 389.3L558.3 386.6L559.3 381.9L560.3 378.3L561.3 382.6L562.3 380.1L563.3 388.2L564.3 391.5L565.3 393.4L566.3 391.8L567.3 393.2L568.3 393.8L569.3 392.7L570.3 395.3L571.3 399.9L572.3 401.7L573.3 406.3L574.3 408.6L575.3 411.1L576.3 411.3L577.3 412.4L578.3 416.1L579.3 420.6L580.3 422.7L581.3 421.7L582.3 423L583.3 427.2L584.3 430.2L585.3 432.8L586.3 436.1L587.3 438.8L588.3 438.2L589.3 437.7L590.3 429.1L591.3 435.7L592.3 438.1L593.3 439.7L594.3 436.4L595.3 440.3L596.3 440.8L597.3 440L598.3 435.9L599.3 438.3L600.3 441L601.3 441.1L602.3 439.8L603.3 442.3L604.3 441.7L605.3 437.6L606.3 443.3L607.3 443.5L608.3 442L609.3 444.3L610.3 444L611.3 442.9L612.3 442.4L613.3 439.5L614.3 440L615.3 440.4L616.3 438.6L617.3 437.7L618.3 437.1L619.3 436.8L620.3 436.6L621.3 434.3L622.3 432.9L623.3 434.8L624.3 436.4L625.3 434.2L626.3 433.4L627.3 429.8L628.3 435.4L629.3 436.2L630.3 432.9L631.3 434.4L632.3 432.2L633.3 430.5L634.3 426.6L635.3 421.2L636.3 418.1L637.3 417.9L638.3 416.9L639.3 416.7L640.3 411.1L641.3 407.5L642.3 404.8L643.3 400L644.3 398.4L645.3 398.3L646.3 391L647.3 390.1L648.3 392L649.3 392.8L650.3 399.6L651.3 401L652.3 400.5L653.3 397.2L654.3 393.1L655.3 388.2L656.3 384.2L657.3 379.3L658.3 377.1L659.3 383.5L660.3 384.7L661.3 385L662.3 388L663.3 390.5L664.3 388.6L665.3 390.2L666.3 390.2L667.3 388.6L668.3 386.2L669.3 387L670.3 399.6L671.3 408.5L671.3 454Z" fill="#1eaacc"/><path d="M513.3 410.7L514.3 412L515.3 411.3L516.3 410.8L517.3 409.8L518.3 402.9L519.3 403.6L520.3 402.5L521.3 407L522.3 415.4L523.3 417L524.3 414.4L525.3 410.6L526.3 410.2L527.3 411.3L528.3 415.4L529.3 416.7L530.3 417.1L531.3 417.3L532.3 421L533.3 424.9L534.3 427.5L535.3 431L536.3 431.4L537.3 431.1L538.3 431.3L539.3 430.2L540.3 432.2L541.3 431.9L542.3 432L543.3 434L544.3 433.4L545.3 432.9L546.3 434L547.3 437L548.3 439.4L549.3 441.4L550.3 442.2L551.3 442.1L552.3 442.7L553.3 419.3L554.3 395.8L555.3 394.4L556.3 391.4L557.3 389.3L558.3 386.6L559.3 381.9L560.3 378.3L561.3 382.6L562.3 380.1L563.3 388.2L564.3 391.5L565.3 393.4L566.3 391.8L567.3 393.2L568.3 393.8L569.3 392.7L570.3 395.3L571.3 399.9L572.3 401.7L573.3 406.3L574.3 408.6L575.3 411.1L576.3 411.3L577.3 412.4L578.3 416.1L579.3 420.6L580.3 422.7L581.3 421.7L582.3 423L583.3 427.2L584.3 430.2L585.3 432.8L586.3 436.1L587.3 438.8L588.3 438.2L589.3 437.7L590.3 429.1L591.3 435.7L592.3 438.1L593.3 439.7L594.3 436.4L595.3 440.3L596.3 440.8L597.3 440L598.3 435.9L599.3 438.3L600.3 441L601.3 441.1L602.3 439.8L603.3 442.3L604.3 441.7L605.3 437.6L606.3 443.3L607.3 443.5L608.3 442L609.3 444.3L610.3 444L611.3 442.9L612.3 442.4L613.3 439.5L614.3 440L615.3 440.4L616.3 438.6L617.3 437.7L618.3 437.1L619.3 436.8L620.3 436.6L621.3 434.3L622.3 432.9L623.3 434.8L624.3 436.4L625.3 434.2L626.3 433.4L627.3 429.8L628.3 435.4L629.3 436.2L630.3 432.9L631.3 434.4L632.3 432.2L633.3 430.5L634.3 426.6L635.3 421.2L636.3 418.1L637.3 417.9L638.3 416.9L639.3 416.7L640.3 411.1L641.3 407.5L642.3 404.8L643.3 400L644.3 398.4L645.3 398.3L646.3 391L647.3 390.1L648.3 392L649.3 392.8L650.3 399.6L651.3 401L652.3 400.5L653.3 397.2L654.3 393.1L655.3 388.2L656.3 384.2L657.3 379.3L658.3 377.1L659.3 383.5L660.3 384.7L661.3 385L662.3 388L663.3 390.5L664.3 388.6L665.3 390.2L666.3 390.2L667.3 388.6L668.3 386.2L669.3 387L670.3 399.6L671.3 408.5" fill="none" stroke="#1a8fb5" stroke-width="0.5"/><path d="M513.3 454L513.3 424.1L514.3 426.9L515.3 427.5L516.3 428.2L517.3 430.6L518.3 426.1L519.3 427.3L520.3 427.7L521.3 429.2L522.3 431.9L523.3 433.7L524.3 431.9L525.3 429.3L526.3 429.6L527.3 429.4L528.3 431.9L529.3 433.1L530.3 431.8L531.3 429.9L532.3 431.4L533.3 430.9L534.3 433.7L535.3 433.9L536.3 436.9L537.3 436.5L538.3 437.7L539.3 438.8L540.3 440.7L541.3 442.4L542.3 441.5L543.3 443L544.3 442.6L545.3 441.6L546.3 442.2L547.3 443.1L548.3 445.2L549.3 444.1L550.3 443.8L551.3 442.1L552.3 442.7L553.3 430.3L554.3 427.2L555.3 425L556.3 423.6L557.3 420.9L558.3 418.8L559.3 415L560.3 417.8L561.3 421.9L562.3 418.2L563.3 425.4L564.3 427.2L565.3 427.7L566.3 429.3L567.3 430.4L568.3 432.8L569.3 434.9L570.3 435L571.3 435.3L572.3 437.1L573.3 436.3L574.3 437.5L575.3 438.5L576.3 438.2L577.3 437.7L578.3 438.9L579.3 444.6L580.3 443L581.3 442L582.3 440.9L583.3 444.9L584.3 446.8L585.3 447.4L586.3 449.8L587.3 449.2L588.3 447.7L589.3 447L590.3 442.2L591.3 445.5L592.3 447.3L593.3 447.4L594.3 446L595.3 450.4L596.3 448.9L597.3 448.7L598.3 443.2L599.3 448.2L600.3 449L601.3 449.9L602.3 447.9L603.3 448.5L604.3 447.5L605.3 446.2L606.3 449.5L607.3 448.8L608.3 448L609.3 448.6L610.3 449.1L611.3 446.7L612.3 445.2L613.3 444.7L614.3 445.1L615.3 447.6L616.3 445.1L617.3 444.1L618.3 445.3L619.3 445.4L620.3 446.2L621.3 445L622.3 443.2L623.3 444.7L624.3 445L625.3 441.7L626.3 441L627.3 438.4L628.3 439.9L629.3 440.3L630.3 437.7L631.3 438.3L632.3 436.7L633.3 433.3L634.3 431.6L635.3 426.8L636.3 423.9L637.3 421.1L638.3 420.5L639.3 420.3L640.3 418.8L641.3 417.5L642.3 414.5L643.3 413.3L644.3 413.6L645.3 414.8L646.3 409.6L647.3 410.2L648.3 409.1L649.3 407L650.3 411.1L651.3 410.4L652.3 408.4L653.3 409.9L654.3 411L655.3 407L656.3 408.8L657.3 407.3L658.3 405.5L659.3 410.6L660.3 411.4L661.3 413.5L662.3 414L663.3 416.9L664.3 414.5L665.3 419.6L666.3 421.8L667.3 421L668.3 422.1L669.3 426.1L670.3 428L671.3 427.6L671.3 454Z" fill="#d0cc8a"/><path d="M513.3 454 L513.3 349.5 L671.5 349.5 L671.5 454 Z" fill="none" stroke="#555" stroke-width="0.8"/><line x1="513.3" y1="349.5" x2="513.3" y2="454" stroke="#222" stroke-width="1"/><line x1="513.3" y1="454" x2="671.5" y2="454" stroke="#222" stroke-width="1"/><line x1="509.29999999999995" y1="349.5" x2="513.3" y2="349.5" stroke="#222" stroke-width="0.9"/><text x="508.29999999999995" y="352.0" font-size="7" text-anchor="end" fill="#111" stroke="#111" stroke-width="0.147">0.05</text><line x1="509.29999999999995" y1="370.2" x2="513.3" y2="370.2" stroke="#222" stroke-width="0.9"/><text x="508.29999999999995" y="372.7" font-size="7" text-anchor="end" fill="#111" stroke="#111" stroke-width="0.147">0.04</text><line x1="509.29999999999995" y1="391.5" x2="513.3" y2="391.5" stroke="#222" stroke-width="0.9"/><text x="508.29999999999995" y="394.0" font-size="7" text-anchor="end" fill="#111" stroke="#111" stroke-width="0.147">0.03</text><line x1="509.29999999999995" y1="412.5" x2="513.3" y2="412.5" stroke="#222" stroke-width="0.9"/><text x="508.29999999999995" y="415.0" font-size="7" text-anchor="end" fill="#111" stroke="#111" stroke-width="0.147">0.02</text><line x1="509.29999999999995" y1="433.6" x2="513.3" y2="433.6" stroke="#222" stroke-width="0.9"/><text x="508.29999999999995" y="436.1" font-size="7" text-anchor="end" fill="#111" stroke="#111" stroke-width="0.147">0.01</text><line x1="509.29999999999995" y1="454" x2="513.3" y2="454" stroke="#222" stroke-width="0.9"/><line x1="513.3" y1="454" x2="513.3" y2="458" stroke="#222" stroke-width="0.9"/><line x1="554" y1="454" x2="554" y2="458" stroke="#222" stroke-width="0.9"/><line x1="633.2" y1="454" x2="633.2" y2="458" stroke="#222" stroke-width="0.9"/><line x1="671.5" y1="454" x2="671.5" y2="458" stroke="#222" stroke-width="0.9"/><text x="516.3" y="466" font-size="7.2" text-anchor="middle" fill="#111" stroke="#111" stroke-width="0.151">- 0.5 kb</text><text x="554.5" y="466" font-size="7.2" text-anchor="middle" fill="#111" stroke="#111" stroke-width="0.151">TSS</text><text x="633.7" y="466" font-size="7.2" text-anchor="middle" fill="#111" stroke="#111" stroke-width="0.151">TTS</text><text x="671.5" y="466" font-size="7.2" text-anchor="middle" fill="#111" stroke="#111" stroke-width="0.151">0.5 kb</text><text x="668.5" y="359" font-size="9.1" text-anchor="end" fill="#1a88aa" stroke="#1a88aa" stroke-width="0.191">Downregulated</text><text x="490.5" y="401.6" font-size="8.6" text-anchor="middle" fill="#111" stroke="#111" stroke-width="0.181" transform="rotate(-90 490.5 401.6)">6mA frequency</text><text x="9" y="403.5" font-size="14" text-anchor="start" fill="#000" font-weight="bold">g</text><rect x="37.8" y="406.5" width="109.39999999999999" height="89.5" fill="none" stroke="#777" stroke-width="0.9"/><line x1="37.8" y1="406.5" x2="37.8" y2="496" stroke="#444" stroke-width="1"/><line x1="37.8" y1="496" x2="147.2" y2="496" stroke="#444" stroke-width="1"/><path d="M37.8 474.3L38.8 473.6L39.8 473.3L40.8 474.2L41.8 475L42.8 474.6L43.8 475.1L44.8 475.4L45.8 474.6L46.8 474.2L47.8 473.5L48.8 473.2L49.8 472.8L50.8 471.7L51.8 471.1L52.8 470.8L53.8 469.4L54.8 468.4L55.8 467.8L56.8 467.1L57.8 466.4L58.8 465.8L59.8 465.5L60.8 464.7L61.8 463.8L62.8 462.7L63.8 461.5L64.8 460.1L65.8 459.3L66.8 458.2L67.8 456.9L68.8 452.5L69.8 440.8L70.8 437.6L71.8 437.1L72.8 436.3L73.8 435.9L74.8 434.6L75.8 434L76.8 434L77.8 433.8L78.8 433.1L79.8 432.5L80.8 432.1L81.8 431.3L82.8 431.1L83.8 431.4L84.8 431.5L85.8 431.5L86.8 431.3L87.8 430.6L88.8 430.4L89.8 429.7L90.8 429.2L91.8 429.5L92.8 429.1L93.8 428.7L94.8 429L95.8 429.2L96.8 429.3L97.8 429.2L98.8 429.6L99.8 429.8L100.8 429.6L101.8 430L102.8 430L103.8 429.6L104.8 429.8L105.8 430.9L106.8 431.9L107.8 432L108.8 432.4L109.8 433.5L110.8 434.2L111.8 434.8L112.8 436.5L113.8 437.7L114.8 439.9L115.8 445.8L116.8 456.1L117.8 457.9L118.8 460.2L119.8 461.9L120.8 462.1L121.8 462.6L122.8 463.7L123.8 464.9L124.8 465.8L125.8 466.6L126.8 466.8L127.8 467.1L128.8 467.5L129.8 468.1L130.8 468.5L131.8 468.9L132.8 469.9L133.8 470.3L134.8 469.7L135.8 470.4L136.8 471L137.8 470.4L138.8 470.6L139.8 471L140.8 470.6L141.8 470.5L142.8 470.5L143.8 470.8L144.8 471.5L145.8 471.5L146.8 471.4" fill="none" stroke="#3aa98e" stroke-width="1.5" stroke-linejoin="round"/><line x1="37.8" y1="496" x2="37.8" y2="499" stroke="#444" stroke-width="0.8"/><line x1="147.2" y1="496" x2="147.2" y2="499" stroke="#444" stroke-width="0.8"/><rect x="70.5" y="493.6" width="43.5" height="4.2" fill="#9b3b8f"/><line x1="34.5" y1="406.5" x2="37.8" y2="406.5" stroke="#444" stroke-width="0.8"/><text x="33" y="409.0" font-size="7" text-anchor="end" fill="#111" stroke="#111" stroke-width="0.147">2</text><line x1="34.5" y1="451" x2="37.8" y2="451" stroke="#444" stroke-width="0.8"/><text x="33" y="453.5" font-size="7" text-anchor="end" fill="#111" stroke="#111" stroke-width="0.147">1.5</text><line x1="34.5" y1="496" x2="37.8" y2="496" stroke="#444" stroke-width="0.8"/><text x="33" y="498.5" font-size="7" text-anchor="end" fill="#111" stroke="#111" stroke-width="0.147">1</text><text x="21.5" y="456" font-size="7.8" text-anchor="middle" fill="#111" stroke="#111" stroke-width="0.164" transform="rotate(-90 21.5 456)">H3K4me3 (IP/Input)</text><text x="39.7" y="507.8" font-size="7.4" text-anchor="middle" fill="#111" stroke="#111" stroke-width="0.155">-1.5 kb</text><text x="70.5" y="507.8" font-size="7.4" text-anchor="middle" fill="#111" stroke="#111" stroke-width="0.155">Start</text><text x="93" y="507.8" font-size="7.9" text-anchor="middle" fill="#9b3b8f" stroke="#9b3b8f" stroke-width="0.166">MAC</text><text x="115.6" y="507.8" font-size="7.4" text-anchor="middle" fill="#111" stroke="#111" stroke-width="0.155">End</text><text x="142.5" y="507.8" font-size="7.4" text-anchor="middle" fill="#111" stroke="#111" stroke-width="0.155">1.5 kb</text><rect x="162.2" y="406.5" width="107.90000000000003" height="89.5" fill="none" stroke="#777" stroke-width="0.9"/><line x1="162.2" y1="406.5" x2="162.2" y2="496" stroke="#444" stroke-width="1"/><line x1="162.2" y1="496" x2="270.1" y2="496" stroke="#444" stroke-width="1"/><path d="M162.2 468.2L163.2 468.1L164.2 468.2L165.2 469L166.2 469.7L167.2 470.6L168.2 471.5L169.2 471.2L170.2 470.3L171.2 469.7L172.2 469L173.2 467.7L174.2 467.2L175.2 466.8L176.2 465.8L177.2 464.8L178.2 464.7L179.2 464.4L180.2 464L181.2 463.8L182.2 463.4L183.2 463L184.2 462.9L185.2 462.6L186.2 462.4L187.2 461.6L188.2 460.1L189.2 458.9L190.2 457.9L191.2 456.8L192.2 454.4L193.2 452.9L194.2 451.8L195.2 450.9L196.2 450.6L197.2 450.7L198.2 450.1L199.2 449.5L200.2 449.2L201.2 448.4L202.2 448.4L203.2 448.8L204.2 448.3L205.2 447.8L206.2 447.3L207.2 446.7L208.2 446.8L209.2 447.1L210.2 446.9L211.2 446.8L212.2 447.1L213.2 446.9L214.2 446.8L215.2 447L216.2 446.5L217.2 446.3L218.2 446.3L219.2 446.3L220.2 447L221.2 446.9L222.2 446.7L223.2 447L224.2 447.3L225.2 447.5L226.2 447.7L227.2 448.2L228.2 448.5L229.2 448.6L230.2 449.1L231.2 449.8L232.2 449.9L233.2 449.8L234.2 450.8L235.2 451.1L236.2 450.9L237.2 451.7L238.2 453.6L239.2 455.8L240.2 459.1L241.2 460L242.2 460.9L243.2 461.6L244.2 461.6L245.2 462.2L246.2 462.7L247.2 462.5L248.2 463L249.2 464L250.2 464.6L251.2 465.2L252.2 465.9L253.2 466.1L254.2 466.1L255.2 466.7L256.2 466.4L257.2 465.7L258.2 466.4L259.2 466.7L260.2 466.4L261.2 466.5L262.2 467.1L263.2 466.7L264.2 467.2L265.2 468.2L266.2 468.4L267.2 468L268.2 467.8L269.2 467.7" fill="none" stroke="#3aa98e" stroke-width="1.5" stroke-linejoin="round"/><line x1="162.2" y1="496" x2="162.2" y2="499" stroke="#444" stroke-width="0.8"/><line x1="270.1" y1="496" x2="270.1" y2="499" stroke="#444" stroke-width="0.8"/><rect x="193.7" y="493.6" width="43.3" height="4.5" fill="#fff" stroke="#d9a0d0" stroke-width="0.8"/><text x="168" y="507.8" font-size="7.4" text-anchor="middle" fill="#111" stroke="#111" stroke-width="0.155">-1.5 kb</text><text x="193.3" y="507.8" font-size="7.4" text-anchor="middle" fill="#111" stroke="#111" stroke-width="0.155">Start</text><text x="216" y="507.8" font-size="7.9" text-anchor="middle" fill="#9b3b8f" stroke="#9b3b8f" stroke-width="0.166">MAC</text><text x="238.6" y="507.8" font-size="7.4" text-anchor="middle" fill="#111" stroke="#111" stroke-width="0.155">End</text><text x="270.3" y="507.8" font-size="7.4" text-anchor="middle" fill="#111" stroke="#111" stroke-width="0.155">1.5 kb</text><text x="15" y="539.5" font-size="14" text-anchor="start" fill="#000" font-weight="bold">h</text><linearGradient id="pg1" x1="0" y1="0" x2="0" y2="1"><stop offset="0" stop-color="#fff" stop-opacity="0.65"/><stop offset="0.15" stop-color="#fff" stop-opacity="0.55"/><stop offset="0.35" stop-color="#fff" stop-opacity="0.32"/><stop offset="0.55" stop-color="#fff" stop-opacity="0.08"/><stop offset="0.65" stop-color="#fff" stop-opacity="0"/></linearGradient><filter id="pf1" color-interpolation-filters="sRGB" x="0" y="0" width="100%" height="100%"><feTurbulence type="fractalNoise" baseFrequency="0.17 0.65" numOctaves="2" seed="21" result="n"/><feColorMatrix in="n" type="matrix" values="0 0 0 0 0.9  0 0 0 0 0.3  0 0 0 0 0.45  3.6 0 0 0 -1.85" result="p"/><feComposite in="p" in2="SourceGraphic" operator="in"/></filter><rect x="64.6" y="600.3" width="63.5" height="152.30000000000007" fill="#fdf2ee"/><linearGradient id="pw1" x1="0" y1="0" x2="0" y2="1"><stop offset="0" stop-color="#f6c4d2" stop-opacity="0.12"/><stop offset="0.3" stop-color="#f6c4d2" stop-opacity="0.06"/><stop offset="0.6" stop-color="#f6c4d2" stop-opacity="0"/></linearGradient><rect x="64.6" y="600.3" width="63.5" height="152.3" fill="url(#pw1)"/><rect x="64.6" y="600.3" width="63.5" height="152.3" fill="url(#pg1)" filter="url(#pf1)"/><linearGradient id="pt1" x1="0" y1="0" x2="0" y2="1"><stop offset="0" stop-color="#e0508a" stop-opacity="0.23399999999999999"/><stop offset="0.15" stop-color="#e0508a" stop-opacity="0.198"/><stop offset="0.35" stop-color="#e0508a" stop-opacity="0.1152"/><stop offset="0.55" stop-color="#e0508a" stop-opacity="0.0288"/><stop offset="0.65" stop-color="#e0508a" stop-opacity="0.0"/></linearGradient><rect x="95.4" y="600.3" width="1.6" height="152.3" fill="url(#pt1)"/><rect x="97.3" y="600.3" width="6" height="68.5" fill="#fff" opacity="0.27"/><rect x="64.6" y="600.3" width="63.5" height="152.30000000000007" fill="none" stroke="#555" stroke-width="1.1"/><linearGradient id="pg2" x1="0" y1="0" x2="0" y2="1"><stop offset="0" stop-color="#fff" stop-opacity="0.5"/><stop offset="0.15" stop-color="#fff" stop-opacity="0.4"/><stop offset="0.35" stop-color="#fff" stop-opacity="0.22"/><stop offset="0.55" stop-color="#fff" stop-opacity="0.04"/><stop offset="0.65" stop-color="#fff" stop-opacity="0"/></linearGradient><filter id="pf2" color-interpolation-filters="sRGB" x="0" y="0" width="100%" height="100%"><feTurbulence type="fractalNoise" baseFrequency="0.17 0.65" numOctaves="2" seed="22" result="n"/><feColorMatrix in="n" type="matrix" values="0 0 0 0 0.9  0 0 0 0 0.3  0 0 0 0 0.45  3.6 0 0 0 -1.85" result="p"/><feComposite in="p" in2="SourceGraphic" operator="in"/></filter><rect x="144.2" y="600.3" width="63.80000000000001" height="152.30000000000007" fill="#fdf2ee"/><linearGradient id="pw2" x1="0" y1="0" x2="0" y2="1"><stop offset="0" stop-color="#f6c4d2" stop-opacity="0.08"/><stop offset="0.3" stop-color="#f6c4d2" stop-opacity="0.04"/><stop offset="0.6" stop-color="#f6c4d2" stop-opacity="0"/></linearGradient><rect x="144.2" y="600.3" width="63.8" height="152.3" fill="url(#pw2)"/><rect x="144.2" y="600.3" width="63.8" height="152.3" fill="url(#pg2)" filter="url(#pf2)"/><linearGradient id="pt2" x1="0" y1="0" x2="0" y2="1"><stop offset="0" stop-color="#e0508a" stop-opacity="0.18"/><stop offset="0.15" stop-color="#e0508a" stop-opacity="0.144"/><stop offset="0.35" stop-color="#e0508a" stop-opacity="0.0792"/><stop offset="0.55" stop-color="#e0508a" stop-opacity="0.0144"/><stop offset="0.65" stop-color="#e0508a" stop-opacity="0.0"/></linearGradient><rect x="175.2" y="600.3" width="1.6" height="152.3" fill="url(#pt2)"/><rect x="177.1" y="600.3" width="6" height="68.5" fill="#fff" opacity="0.27"/><rect x="144.2" y="600.3" width="63.80000000000001" height="152.30000000000007" fill="none" stroke="#555" stroke-width="1.1"/><linearGradient id="pg3" x1="0" y1="0" x2="0" y2="1"><stop offset="0" stop-color="#fff" stop-opacity="0.4"/><stop offset="1" stop-color="#fff" stop-opacity="0.25"/></linearGradient><filter id="pf3" color-interpolation-filters="sRGB" x="0" y="0" width="100%" height="100%"><feTurbulence type="fractalNoise" baseFrequency="0.17 0.65" numOctaves="2" seed="23" result="n"/><feColorMatrix in="n" type="matrix" values="0 0 0 0 0.9  0 0 0 0 0.3  0 0 0 0 0.45  3.6 0 0 0 -1.85" result="p"/><feComposite in="p" in2="SourceGraphic" operator="in"/></filter><rect x="64.6" y="755.2" width="63.5" height="5.5" fill="#fdf2ee"/><rect x="64.6" y="755.2" width="63.5" height="5.5" fill="url(#pg3)" filter="url(#pf3)"/><linearGradient id="pt3" x1="0" y1="0" x2="0" y2="1"><stop offset="0" stop-color="#e0508a" stop-opacity="0.144"/><stop offset="1" stop-color="#e0508a" stop-opacity="0.09"/></linearGradient><rect x="95.4" y="755.2" width="1.6" height="5.5" fill="url(#pt3)"/><rect x="97.3" y="755.2" width="6" height="2.5" fill="#fff" opacity="0.27"/><rect x="64.6" y="755.2" width="63.5" height="5.5" fill="none" stroke="#555" stroke-width="1.1"/><linearGradient id="pg4" x1="0" y1="0" x2="0" y2="1"><stop offset="0" stop-color="#fff" stop-opacity="0.25"/><stop offset="1" stop-color="#fff" stop-opacity="0.15"/></linearGradient><filter id="pf4" color-interpolation-filters="sRGB" x="0" y="0" width="100%" height="100%"><feTurbulence type="fractalNoise" baseFrequency="0.17 0.65" numOctaves="2" seed="24" result="n"/><feColorMatrix in="n" type="matrix" values="0 0 0 0 0.9  0 0 0 0 0.3  0 0 0 0 0.45  3.6 0 0 0 -1.85" result="p"/><feComposite in="p" in2="SourceGraphic" operator="in"/></filter><rect x="144.2" y="755.2" width="63.80000000000001" height="5.5" fill="#fdf2ee"/><rect x="144.2" y="755.2" width="63.8" height="5.5" fill="url(#pg4)" filter="url(#pf4)"/><linearGradient id="pt4" x1="0" y1="0" x2="0" y2="1"><stop offset="0" stop-color="#e0508a" stop-opacity="0.045"/><stop offset="1" stop-color="#e0508a" stop-opacity="0.027"/></linearGradient><rect x="175.2" y="755.2" width="1.6" height="5.5" fill="url(#pt4)"/><rect x="177.1" y="755.2" width="6" height="2.5" fill="#fff" opacity="0.135"/><rect x="144.2" y="755.2" width="63.80000000000001" height="5.5" fill="none" stroke="#555" stroke-width="1.1"/><linearGradient id="pg5" x1="0" y1="0" x2="0" y2="1"><stop offset="0" stop-color="#fff" stop-opacity="0.8"/><stop offset="0.12" stop-color="#fff" stop-opacity="0.6"/><stop offset="0.35" stop-color="#fff" stop-opacity="0.35"/><stop offset="0.55" stop-color="#fff" stop-opacity="0.1"/><stop offset="0.68" stop-color="#fff" stop-opacity="0"/></linearGradient><filter id="pf5" color-interpolation-filters="sRGB" x="0" y="0" width="100%" height="100%"><feTurbulence type="fractalNoise" baseFrequency="0.17 0.65" numOctaves="2" seed="25" result="n"/><feColorMatrix in="n" type="matrix" values="0 0 0 0 0.9  0 0 0 0 0.3  0 0 0 0 0.45  3.6 0 0 0 -1.85" result="p"/><feComposite in="p" in2="SourceGraphic" operator="in"/></filter><rect x="64.6" y="762.2" width="63.5" height="192.0" fill="#fbefe8"/><linearGradient id="pw5" x1="0" y1="0" x2="0" y2="1"><stop offset="0" stop-color="#f6c4d2" stop-opacity="0.1"/><stop offset="0.3" stop-color="#f6c4d2" stop-opacity="0.05"/><stop offset="0.6" stop-color="#f6c4d2" stop-opacity="0"/></linearGradient><rect x="64.6" y="762.2" width="63.5" height="192" fill="url(#pw5)"/><rect x="64.6" y="762.2" width="63.5" height="192" fill="url(#pg5)" filter="url(#pf5)"/><linearGradient id="pt5" x1="0" y1="0" x2="0" y2="1"><stop offset="0" stop-color="#e0508a" stop-opacity="0.288"/><stop offset="0.12" stop-color="#e0508a" stop-opacity="0.216"/><stop offset="0.35" stop-color="#e0508a" stop-opacity="0.126"/><stop offset="0.55" stop-color="#e0508a" stop-opacity="0.036"/><stop offset="0.68" stop-color="#e0508a" stop-opacity="0.0"/></linearGradient><rect x="95.4" y="762.2" width="1.6" height="192" fill="url(#pt5)"/><rect x="97.3" y="762.2" width="6" height="86.4" fill="#fff" opacity="0.27"/><rect x="64.6" y="762.2" width="63.5" height="192.0" fill="none" stroke="#555" stroke-width="1.1"/><linearGradient id="pg6" x1="0" y1="0" x2="0" y2="1"><stop offset="0" stop-color="#fff" stop-opacity="0.5"/><stop offset="0.15" stop-color="#fff" stop-opacity="0.36"/><stop offset="0.35" stop-color="#fff" stop-opacity="0.18"/><stop offset="0.55" stop-color="#fff" stop-opacity="0.03"/><stop offset="0.65" stop-color="#fff" stop-opacity="0"/></linearGradient><filter id="pf6" color-interpolation-filters="sRGB" x="0" y="0" width="100%" height="100%"><feTurbulence type="fractalNoise" baseFrequency="0.17 0.65" numOctaves="2" seed="26" result="n"/><feColorMatrix in="n" type="matrix" values="0 0 0 0 0.9  0 0 0 0 0.3  0 0 0 0 0.45  3.6 0 0 0 -1.85" result="p"/><feComposite in="p" in2="SourceGraphic" operator="in"/></filter><rect x="144.2" y="762.2" width="63.80000000000001" height="192.0" fill="#fdf3f0"/><rect x="144.2" y="762.2" width="63.8" height="192" fill="url(#pg6)" filter="url(#pf6)"/><linearGradient id="pt6" x1="0" y1="0" x2="0" y2="1"><stop offset="0" stop-color="#e0508a" stop-opacity="0.12"/><stop offset="0.15" stop-color="#e0508a" stop-opacity="0.08639999999999999"/><stop offset="0.35" stop-color="#e0508a" stop-opacity="0.043199999999999995"/><stop offset="0.55" stop-color="#e0508a" stop-opacity="0.0072"/><stop offset="0.65" stop-color="#e0508a" stop-opacity="0.0"/></linearGradient><rect x="175.2" y="762.2" width="1.6" height="192" fill="url(#pt6)"/><rect x="177.1" y="762.2" width="6" height="86.4" fill="#fff" opacity="0.18000000000000002"/><rect x="144.2" y="762.2" width="63.80000000000001" height="192.0" fill="none" stroke="#555" stroke-width="1.1"/><linearGradient id="pg7" x1="0" y1="0" x2="0" y2="1"><stop offset="0" stop-color="#fff" stop-opacity="0.5"/><stop offset="0.6" stop-color="#fff" stop-opacity="0.3"/><stop offset="1" stop-color="#fff" stop-opacity="0.03"/></linearGradient><filter id="pf7" color-interpolation-filters="sRGB" x="0" y="0" width="100%" height="100%"><feTurbulence type="fractalNoise" baseFrequency="0.17 0.65" numOctaves="2" seed="27" result="n"/><feColorMatrix in="n" type="matrix" values="0 0 0 0 0.9  0 0 0 0 0.3  0 0 0 0 0.45  3.6 0 0 0 -1.85" result="p"/><feComposite in="p" in2="SourceGraphic" operator="in"/></filter><rect x="64.6" y="956.8" width="63.5" height="20.90000000000009" fill="#fbefe8"/><rect x="64.6" y="956.8" width="63.5" height="20.9" fill="url(#pg7)" filter="url(#pf7)"/><linearGradient id="pt7" x1="0" y1="0" x2="0" y2="1"><stop offset="0" stop-color="#e0508a" stop-opacity="0.18"/><stop offset="0.6" stop-color="#e0508a" stop-opacity="0.108"/><stop offset="1" stop-color="#e0508a" stop-opacity="0.010799999999999999"/></linearGradient><rect x="95.4" y="956.8" width="1.6" height="20.9" fill="url(#pt7)"/><rect x="97.3" y="956.8" width="6" height="9.4" fill="#fff" opacity="0.27"/><rect x="64.6" y="956.8" width="63.5" height="20.90000000000009" fill="none" stroke="#555" stroke-width="1.1"/><linearGradient id="pg8" x1="0" y1="0" x2="0" y2="1"><stop offset="0" stop-color="#fff" stop-opacity="0.25"/><stop offset="1" stop-color="#fff" stop-opacity="0.02"/></linearGradient><filter id="pf8" color-interpolation-filters="sRGB" x="0" y="0" width="100%" height="100%"><feTurbulence type="fractalNoise" baseFrequency="0.17 0.65" numOctaves="2" seed="28" result="n"/><feColorMatrix in="n" type="matrix" values="0 0 0 0 0.9  0 0 0 0 0.3  0 0 0 0 0.45  3.6 0 0 0 -1.85" result="p"/><feComposite in="p" in2="SourceGraphic" operator="in"/></filter><rect x="144.2" y="956.8" width="63.80000000000001" height="20.90000000000009" fill="#fdf2ee"/><rect x="144.2" y="956.8" width="63.8" height="20.9" fill="url(#pg8)" filter="url(#pf8)"/><linearGradient id="pt8" x1="0" y1="0" x2="0" y2="1"><stop offset="0" stop-color="#e0508a" stop-opacity="0.045"/><stop offset="1" stop-color="#e0508a" stop-opacity="0.0036"/></linearGradient><rect x="175.2" y="956.8" width="1.6" height="20.9" fill="url(#pt8)"/><rect x="177.1" y="956.8" width="6" height="9.4" fill="#fff" opacity="0.135"/><rect x="144.2" y="956.8" width="63.80000000000001" height="20.90000000000009" fill="none" stroke="#555" stroke-width="1.1"/><rect x="65.5" y="928.6" width="21.5" height="1.3" fill="#fff"/><rect x="145" y="928.6" width="21.5" height="1.3" fill="#fff"/><linearGradient id="gg9" x1="0" y1="0" x2="0" y2="1"><stop offset="0" stop-color="#7cc4a6"/><stop offset="0.25" stop-color="#98d2bb"/><stop offset="0.5" stop-color="#b2e0cf"/><stop offset="0.75" stop-color="#cceade"/><stop offset="1" stop-color="#e2f4f0"/></linearGradient><linearGradient id="gd9" x1="0" y1="0" x2="0" y2="1"><stop offset="0" stop-color="#fff" stop-opacity="0.9"/><stop offset="0.5" stop-color="#fff" stop-opacity="0.5"/><stop offset="1" stop-color="#fff" stop-opacity="0.12"/></linearGradient><linearGradient id="gl9" x1="0" y1="0" x2="0" y2="1"><stop offset="0" stop-color="#fff" stop-opacity="1"/><stop offset="1" stop-color="#fff" stop-opacity="0.8"/></linearGradient><filter id="gfd9" color-interpolation-filters="sRGB" x="0" y="0" width="100%" height="100%"><feTurbulence type="fractalNoise" baseFrequency="0.09 0.5" numOctaves="3" seed="31" result="n"/><feColorMatrix in="n" type="matrix" values="0 0 0 0 0.2  0 0 0 0 0.6  0 0 0 0 0.42  2.8 0 0 0 -1.3" result="d"/><feComposite in="d" in2="SourceGraphic" operator="in"/></filter><filter id="gfl9" color-interpolation-filters="sRGB" x="0" y="0" width="100%" height="100%"><feTurbulence type="fractalNoise" baseFrequency="0.09 0.5" numOctaves="3" seed="31" result="n"/><feColorMatrix in="n" type="matrix" values="0 0 0 0 0.86  0 0 0 0 0.96  0 0 0 0 0.95  -2.6 0 0 0 1.2" result="d"/><feComposite in="d" in2="SourceGraphic" operator="in"/></filter><rect x="232.4" y="600.3" width="64" height="152.3" fill="url(#gg9)"/><rect x="232.4" y="600.3" width="64" height="152.3" fill="url(#gd9)" filter="url(#gfd9)"/><rect x="232.4" y="600.3" width="64" height="152.3" fill="url(#gl9)" filter="url(#gfl9)"/><rect x="265.9" y="600.3" width="8" height="152.3" fill="#fff" opacity="0.108"/><rect x="263.9" y="600.3" width="1" height="152.3" fill="#0d7845" opacity="0.096"/><rect x="232.4" y="600.3" width="63.99999999999997" height="152.30000000000007" fill="none" stroke="#333" stroke-width="1"/><linearGradient id="gg10" x1="0" y1="0" x2="0" y2="1"><stop offset="0" stop-color="#6cbc99"/><stop offset="0.5" stop-color="#98d3bb"/><stop offset="1" stop-color="#bee6d7"/></linearGradient><linearGradient id="gd10" x1="0" y1="0" x2="0" y2="1"><stop offset="0" stop-color="#fff" stop-opacity="1"/><stop offset="0.6" stop-color="#fff" stop-opacity="0.65"/><stop offset="1" stop-color="#fff" stop-opacity="0.35"/></linearGradient><linearGradient id="gl10" x1="0" y1="0" x2="0" y2="1"><stop offset="0" stop-color="#fff" stop-opacity="1"/><stop offset="1" stop-color="#fff" stop-opacity="0.8"/></linearGradient><filter id="gfd10" color-interpolation-filters="sRGB" x="0" y="0" width="100%" height="100%"><feTurbulence type="fractalNoise" baseFrequency="0.09 0.5" numOctaves="3" seed="32" result="n"/><feColorMatrix in="n" type="matrix" values="0 0 0 0 0.2  0 0 0 0 0.6  0 0 0 0 0.42  2.8 0 0 0 -1.3" result="d"/><feComposite in="d" in2="SourceGraphic" operator="in"/></filter><filter id="gfl10" color-interpolation-filters="sRGB" x="0" y="0" width="100%" height="100%"><feTurbulence type="fractalNoise" baseFrequency="0.09 0.5" numOctaves="3" seed="32" result="n"/><feColorMatrix in="n" type="matrix" values="0 0 0 0 0.86  0 0 0 0 0.96  0 0 0 0 0.95  -2.6 0 0 0 1.2" result="d"/><feComposite in="d" in2="SourceGraphic" operator="in"/></filter><rect x="311.4" y="600.3" width="63.4" height="152.3" fill="url(#gg10)"/><rect x="311.4" y="600.3" width="63.4" height="152.3" fill="url(#gd10)" filter="url(#gfd10)"/><rect x="311.4" y="600.3" width="63.4" height="152.3" fill="url(#gl10)" filter="url(#gfl10)"/><rect x="344.6" y="600.3" width="8" height="152.3" fill="#fff" opacity="0.07200000000000001"/><rect x="342.6" y="600.3" width="1" height="152.3" fill="#0d7845" opacity="0.064"/><rect x="311.4" y="600.3" width="63.400000000000034" height="152.30000000000007" fill="none" stroke="#333" stroke-width="1"/><linearGradient id="gg11" x1="0" y1="0" x2="0" y2="1"><stop offset="0" stop-color="#b4e1d0"/><stop offset="1" stop-color="#b4e1d0"/></linearGradient><linearGradient id="gd11" x1="0" y1="0" x2="0" y2="1"><stop offset="0" stop-color="#fff" stop-opacity="0.4"/><stop offset="1" stop-color="#fff" stop-opacity="0.4"/></linearGradient><linearGradient id="gl11" x1="0" y1="0" x2="0" y2="1"><stop offset="0" stop-color="#fff" stop-opacity="1"/><stop offset="1" stop-color="#fff" stop-opacity="0.6"/></linearGradient><filter id="gfd11" color-interpolation-filters="sRGB" x="0" y="0" width="100%" height="100%"><feTurbulence type="fractalNoise" baseFrequency="0.09 0.5" numOctaves="3" seed="33" result="n"/><feColorMatrix in="n" type="matrix" values="0 0 0 0 0.2  0 0 0 0 0.6  0 0 0 0 0.42  2.8 0 0 0 -1.3" result="d"/><feComposite in="d" in2="SourceGraphic" operator="in"/></filter><filter id="gfl11" color-interpolation-filters="sRGB" x="0" y="0" width="100%" height="100%"><feTurbulence type="fractalNoise" baseFrequency="0.09 0.5" numOctaves="3" seed="33" result="n"/><feColorMatrix in="n" type="matrix" values="0 0 0 0 0.86  0 0 0 0 0.96  0 0 0 0 0.95  -2.6 0 0 0 1.2" result="d"/><feComposite in="d" in2="SourceGraphic" operator="in"/></filter><rect x="232.4" y="755.2" width="64" height="5.5" fill="url(#gg11)"/><rect x="232.4" y="755.2" width="64" height="5.5" fill="url(#gd11)" filter="url(#gfd11)"/><rect x="232.4" y="755.2" width="64" height="5.5" fill="url(#gl11)" filter="url(#gfl11)"/><rect x="232.4" y="755.2" width="63.99999999999997" height="5.5" fill="none" stroke="#333" stroke-width="1"/><linearGradient id="gg12" x1="0" y1="0" x2="0" y2="1"><stop offset="0" stop-color="#a0d8c2"/><stop offset="1" stop-color="#a0d8c2"/></linearGradient><linearGradient id="gd12" x1="0" y1="0" x2="0" y2="1"><stop offset="0" stop-color="#fff" stop-opacity="0.55"/><stop offset="1" stop-color="#fff" stop-opacity="0.55"/></linearGradient><linearGradient id="gl12" x1="0" y1="0" x2="0" y2="1"><stop offset="0" stop-color="#fff" stop-opacity="1"/><stop offset="1" stop-color="#fff" stop-opacity="0.6"/></linearGradient><filter id="gfd12" color-interpolation-filters="sRGB" x="0" y="0" width="100%" height="100%"><feTurbulence type="fractalNoise" baseFrequency="0.09 0.5" numOctaves="3" seed="34" result="n"/><feColorMatrix in="n" type="matrix" values="0 0 0 0 0.2  0 0 0 0 0.6  0 0 0 0 0.42  2.8 0 0 0 -1.3" result="d"/><feComposite in="d" in2="SourceGraphic" operator="in"/></filter><filter id="gfl12" color-interpolation-filters="sRGB" x="0" y="0" width="100%" height="100%"><feTurbulence type="fractalNoise" baseFrequency="0.09 0.5" numOctaves="3" seed="34" result="n"/><feColorMatrix in="n" type="matrix" values="0 0 0 0 0.86  0 0 0 0 0.96  0 0 0 0 0.95  -2.6 0 0 0 1.2" result="d"/><feComposite in="d" in2="SourceGraphic" operator="in"/></filter><rect x="311.4" y="755.2" width="63.4" height="5.5" fill="url(#gg12)"/><rect x="311.4" y="755.2" width="63.4" height="5.5" fill="url(#gd12)" filter="url(#gfd12)"/><rect x="311.4" y="755.2" width="63.4" height="5.5" fill="url(#gl12)" filter="url(#gfl12)"/><rect x="311.4" y="755.2" width="63.400000000000034" height="5.5" fill="none" stroke="#333" stroke-width="1"/><linearGradient id="gg13" x1="0" y1="0" x2="0" y2="1"><stop offset="0" stop-color="#66b995"/><stop offset="0.5" stop-color="#a4dac5"/><stop offset="0.8" stop-color="#c8e9dd"/><stop offset="1" stop-color="#e0f4ef"/></linearGradient><linearGradient id="gd13" x1="0" y1="0" x2="0" y2="1"><stop offset="0" stop-color="#fff" stop-opacity="1"/><stop offset="0.5" stop-color="#fff" stop-opacity="0.5"/><stop offset="1" stop-color="#fff" stop-opacity="0.15"/></linearGradient><linearGradient id="gl13" x1="0" y1="0" x2="0" y2="1"><stop offset="0" stop-color="#fff" stop-opacity="1"/><stop offset="1" stop-color="#fff" stop-opacity="0.8"/></linearGradient><filter id="gfd13" color-interpolation-filters="sRGB" x="0" y="0" width="100%" height="100%"><feTurbulence type="fractalNoise" baseFrequency="0.09 0.5" numOctaves="3" seed="35" result="n"/><feColorMatrix in="n" type="matrix" values="0 0 0 0 0.2  0 0 0 0 0.6  0 0 0 0 0.42  2.8 0 0 0 -1.3" result="d"/><feComposite in="d" in2="SourceGraphic" operator="in"/></filter><filter id="gfl13" color-interpolation-filters="sRGB" x="0" y="0" width="100%" height="100%"><feTurbulence type="fractalNoise" baseFrequency="0.09 0.5" numOctaves="3" seed="35" result="n"/><feColorMatrix in="n" type="matrix" values="0 0 0 0 0.86  0 0 0 0 0.96  0 0 0 0 0.95  -2.6 0 0 0 1.2" result="d"/><feComposite in="d" in2="SourceGraphic" operator="in"/></filter><rect x="232.4" y="762.2" width="64" height="192" fill="url(#gg13)"/><rect x="232.4" y="762.2" width="64" height="192" fill="url(#gd13)" filter="url(#gfd13)"/><rect x="232.4" y="762.2" width="64" height="192" fill="url(#gl13)" filter="url(#gfl13)"/><rect x="265.9" y="762.2" width="8" height="192" fill="#fff" opacity="0.198"/><rect x="263.9" y="762.2" width="1" height="192" fill="#0d7845" opacity="0.17600000000000002"/><rect x="232.4" y="762.2" width="63.99999999999997" height="192.0" fill="none" stroke="#333" stroke-width="1"/><linearGradient id="gg14" x1="0" y1="0" x2="0" y2="1"><stop offset="0" stop-color="#62b893"/><stop offset="0.5" stop-color="#9ed6bf"/><stop offset="0.8" stop-color="#c0e6d8"/><stop offset="1" stop-color="#d6f0e8"/></linearGradient><linearGradient id="gd14" x1="0" y1="0" x2="0" y2="1"><stop offset="0" stop-color="#fff" stop-opacity="1"/><stop offset="0.5" stop-color="#fff" stop-opacity="0.65"/><stop offset="1" stop-color="#fff" stop-opacity="0.25"/></linearGradient><linearGradient id="gl14" x1="0" y1="0" x2="0" y2="1"><stop offset="0" stop-color="#fff" stop-opacity="1"/><stop offset="1" stop-color="#fff" stop-opacity="0.8"/></linearGradient><filter id="gfd14" color-interpolation-filters="sRGB" x="0" y="0" width="100%" height="100%"><feTurbulence type="fractalNoise" baseFrequency="0.09 0.5" numOctaves="3" seed="36" result="n"/><feColorMatrix in="n" type="matrix" values="0 0 0 0 0.2  0 0 0 0 0.6  0 0 0 0 0.42  2.8 0 0 0 -1.3" result="d"/><feComposite in="d" in2="SourceGraphic" operator="in"/></filter><filter id="gfl14" color-interpolation-filters="sRGB" x="0" y="0" width="100%" height="100%"><feTurbulence type="fractalNoise" baseFrequency="0.09 0.5" numOctaves="3" seed="36" result="n"/><feColorMatrix in="n" type="matrix" values="0 0 0 0 0.86  0 0 0 0 0.96  0 0 0 0 0.95  -2.6 0 0 0 1.2" result="d"/><feComposite in="d" in2="SourceGraphic" operator="in"/></filter><rect x="311.4" y="762.2" width="63.4" height="192" fill="url(#gg14)"/><rect x="311.4" y="762.2" width="63.4" height="192" fill="url(#gd14)" filter="url(#gfd14)"/><rect x="311.4" y="762.2" width="63.4" height="192" fill="url(#gl14)" filter="url(#gfl14)"/><rect x="344.6" y="762.2" width="8" height="192" fill="#fff" opacity="0.135"/><rect x="342.6" y="762.2" width="1" height="192" fill="#0d7845" opacity="0.12"/><rect x="311.4" y="762.2" width="63.400000000000034" height="192.0" fill="none" stroke="#333" stroke-width="1"/><linearGradient id="gg15" x1="0" y1="0" x2="0" y2="1"><stop offset="0" stop-color="#8ccdb2"/><stop offset="1" stop-color="#bce5d6"/></linearGradient><linearGradient id="gd15" x1="0" y1="0" x2="0" y2="1"><stop offset="0" stop-color="#fff" stop-opacity="0.9"/><stop offset="1" stop-color="#fff" stop-opacity="0.45"/></linearGradient><linearGradient id="gl15" x1="0" y1="0" x2="0" y2="1"><stop offset="0" stop-color="#fff" stop-opacity="1"/><stop offset="1" stop-color="#fff" stop-opacity="0.6"/></linearGradient><filter id="gfd15" color-interpolation-filters="sRGB" x="0" y="0" width="100%" height="100%"><feTurbulence type="fractalNoise" baseFrequency="0.09 0.5" numOctaves="3" seed="37" result="n"/><feColorMatrix in="n" type="matrix" values="0 0 0 0 0.2  0 0 0 0 0.6  0 0 0 0 0.42  2.8 0 0 0 -1.3" result="d"/><feComposite in="d" in2="SourceGraphic" operator="in"/></filter><filter id="gfl15" color-interpolation-filters="sRGB" x="0" y="0" width="100%" height="100%"><feTurbulence type="fractalNoise" baseFrequency="0.09 0.5" numOctaves="3" seed="37" result="n"/><feColorMatrix in="n" type="matrix" values="0 0 0 0 0.86  0 0 0 0 0.96  0 0 0 0 0.95  -2.6 0 0 0 1.2" result="d"/><feComposite in="d" in2="SourceGraphic" operator="in"/></filter><rect x="232.4" y="956.8" width="64" height="20.9" fill="url(#gg15)"/><rect x="232.4" y="956.8" width="64" height="20.9" fill="url(#gd15)" filter="url(#gfd15)"/><rect x="232.4" y="956.8" width="64" height="20.9" fill="url(#gl15)" filter="url(#gfl15)"/><rect x="265.9" y="956.8" width="8" height="20.9" fill="#fff" opacity="0.09000000000000001"/><rect x="263.9" y="956.8" width="1" height="20.9" fill="#0d7845" opacity="0.08000000000000002"/><rect x="232.4" y="956.8" width="63.99999999999997" height="20.90000000000009" fill="none" stroke="#333" stroke-width="1"/><linearGradient id="gg16" x1="0" y1="0" x2="0" y2="1"><stop offset="0" stop-color="#8ccdb2"/><stop offset="1" stop-color="#b8e3d4"/></linearGradient><linearGradient id="gd16" x1="0" y1="0" x2="0" y2="1"><stop offset="0" stop-color="#fff" stop-opacity="0.9"/><stop offset="1" stop-color="#fff" stop-opacity="0.5"/></linearGradient><linearGradient id="gl16" x1="0" y1="0" x2="0" y2="1"><stop offset="0" stop-color="#fff" stop-opacity="1"/><stop offset="1" stop-color="#fff" stop-opacity="0.6"/></linearGradient><filter id="gfd16" color-interpolation-filters="sRGB" x="0" y="0" width="100%" height="100%"><feTurbulence type="fractalNoise" baseFrequency="0.09 0.5" numOctaves="3" seed="38" result="n"/><feColorMatrix in="n" type="matrix" values="0 0 0 0 0.2  0 0 0 0 0.6  0 0 0 0 0.42  2.8 0 0 0 -1.3" result="d"/><feComposite in="d" in2="SourceGraphic" operator="in"/></filter><filter id="gfl16" color-interpolation-filters="sRGB" x="0" y="0" width="100%" height="100%"><feTurbulence type="fractalNoise" baseFrequency="0.09 0.5" numOctaves="3" seed="38" result="n"/><feColorMatrix in="n" type="matrix" values="0 0 0 0 0.86  0 0 0 0 0.96  0 0 0 0 0.95  -2.6 0 0 0 1.2" result="d"/><feComposite in="d" in2="SourceGraphic" operator="in"/></filter><rect x="311.4" y="956.8" width="63.4" height="20.9" fill="url(#gg16)"/><rect x="311.4" y="956.8" width="63.4" height="20.9" fill="url(#gd16)" filter="url(#gfd16)"/><rect x="311.4" y="956.8" width="63.4" height="20.9" fill="url(#gl16)" filter="url(#gfl16)"/><rect x="344.6" y="956.8" width="8" height="20.9" fill="#fff" opacity="0.09000000000000001"/><rect x="342.6" y="956.8" width="1" height="20.9" fill="#0d7845" opacity="0.08000000000000002"/><rect x="311.4" y="956.8" width="63.400000000000034" height="20.90000000000009" fill="none" stroke="#333" stroke-width="1"/><rect x="232.4" y="600.3" width="64" height="2" fill="#1f8a55" opacity="0.5"/><rect x="232.4" y="762.2" width="64" height="2.5" fill="#1f8a55" opacity="0.4"/><rect x="311.4" y="600.3" width="63.4" height="2" fill="#1f8a55" opacity="0.5"/><rect x="311.4" y="762.2" width="63.4" height="2.5" fill="#1f8a55" opacity="0.4"/><rect x="53.8" y="600.3" width="7.2" height="160" fill="#f47a78"/><rect x="53.8" y="762.8" width="7.2" height="214.9" fill="#0f6e8b"/><text x="42.5" y="678.6" font-size="11.8" text-anchor="middle" fill="#f47c7c" stroke="#f47c7c" stroke-width="0.248" transform="rotate(90 42.5 678.6)">Upregulated</text><text x="42.3" y="866.7" font-size="12.2" text-anchor="middle" fill="#1a7d9a" stroke="#1a7d9a" stroke-width="0.256" transform="rotate(90 42.3 866.7)">Downregulated</text><text x="50.7" y="760.8" font-size="9.6" text-anchor="end" fill="#dd6fd0" stroke="#dd6fd0" stroke-width="0.202">MAC loss</text><text x="51.2" y="971.8" font-size="9.6" text-anchor="end" fill="#dd6fd0" stroke="#dd6fd0" stroke-width="0.202">MAC loss</text><rect x="64.6" y="537.4" width="63.10000000000001" height="58.200000000000045" fill="none" stroke="#888" stroke-width="0.9"/><line x1="64.6" y1="537.4" x2="64.6" y2="595.6" stroke="#333" stroke-width="1"/><line x1="64.6" y1="595.6" x2="127.7" y2="595.6" stroke="#333" stroke-width="1"/><path d="M64.6 576.4L65.1 580.5L65.6 579.8L66.1 576.6L66.6 576.6L67.1 582L67.6 579.6L68.1 575.8L68.6 577.2L69.1 576.5L69.6 577.8L70.1 579.3L70.6 576.7L71.1 578.1L71.6 578.5L72.1 578.9L72.6 575.7L73.1 576.6L73.6 581.3L74.1 576.6L74.6 577.1L75.1 578.1L75.6 575.8L76.1 576.3L76.6 580.9L77.1 580L77.6 574.8L78.1 577.4L78.6 574.4L79.1 573.9L79.6 577.3L80.1 580.7L80.6 577.2L81.1 580.7L81.6 575.1L82.1 577.8L82.6 577.7L83.1 577.4L83.6 579.1L84.1 577.9L84.6 575.1L85.1 573.1L85.6 574.5L86.1 575.4L86.6 573.9L87.1 571.5L87.6 570.7L88.1 576.1L88.6 574.5L89.1 572.4L89.6 574.7L90.1 575.5L90.6 574.6L91.1 574.8L91.6 578.9L92.1 579L92.6 580.9L93.1 581.2L93.6 581.1L94.1 581.1L94.6 583L95.1 582.5L95.6 578.2L96.1 572.7L96.6 569L97.1 563.6L97.6 559.5L98.1 562.5L98.6 561.2L99.1 564.4L99.6 565.6L100.1 570.5L100.6 571.3L101.1 573L101.6 576.9L102.1 575.1L102.6 581.3L103.1 584.7L103.6 588.7L104.1 585.1L104.6 586.4L105.1 582.4L105.6 589.5L106.1 585.8L106.6 586.3L107.1 582.1L107.6 584.5L108.1 583.4L108.6 581.7L109.1 581.4L109.6 581.5L110.1 581.2L110.6 578.6L111.1 584.8L111.6 581.3L112.1 581L112.6 580.4L113.1 579L113.6 578.8L114.1 579.6L114.6 577.2L115.1 580L115.6 576.2L116.1 578.6L116.6 573.5L117.1 576.3L117.6 577.4L118.1 579L118.6 579.2L119.1 574.4L119.6 575.3L120.1 580.3L120.6 576.3L121.1 574L121.6 579.9L122.1 579L122.6 575.3L123.1 576.8L123.6 581L124.1 577.5L124.6 577.4L125.1 577.9L125.6 581.9L126.1 575.6L126.6 580.1L127.1 579.7L127.6 580.6" fill="none" stroke="#f26d70" stroke-width="0.9"/><path d="M64.6 581.3L65.1 581L65.6 577.1L66.1 577.6L66.6 581.3L67.1 579.7L67.6 578.7L68.1 578L68.6 578.9L69.1 580.2L69.6 574.2L70.1 579.9L70.6 576.6L71.1 575.9L71.6 577L72.1 576.2L72.6 576.3L73.1 578.1L73.6 577.2L74.1 579.8L74.6 575.2L75.1 579.5L75.6 575.9L76.1 578.4L76.6 577.6L77.1 579.9L77.6 575.9L78.1 578.4L78.6 581.1L79.1 580.7L79.6 577.9L80.1 579.8L80.6 580.4L81.1 579.4L81.6 580.7L82.1 580.4L82.6 574.5L83.1 579.5L83.6 584.6L84.1 577.1L84.6 577L85.1 577.4L85.6 575.6L86.1 576.2L86.6 576.4L87.1 580L87.6 575.6L88.1 576.8L88.6 575.2L89.1 573.5L89.6 574.3L90.1 574.5L90.6 580.1L91.1 578.1L91.6 576.9L92.1 580.6L92.6 585.5L93.1 583.7L93.6 584.9L94.1 587.3L94.6 587.9L95.1 587L95.6 585.7L96.1 571.5L96.6 571L97.1 564.7L97.6 564.6L98.1 565.1L98.6 570.1L99.1 572.4L99.6 571.3L100.1 570.8L100.6 573.8L101.1 576.5L101.6 577.6L102.1 579L102.6 586.6L103.1 587.1L103.6 585.6L104.1 587.3L104.6 588.7L105.1 587L105.6 589L106.1 589.1L106.6 587.3L107.1 585.2L107.6 586L108.1 583.2L108.6 585.2L109.1 588.9L109.6 584.1L110.1 585.9L110.6 586.3L111.1 586.5L111.6 580.4L112.1 581.9L112.6 580.7L113.1 583.7L113.6 582.6L114.1 578L114.6 578.3L115.1 579.4L115.6 582L116.1 576.9L116.6 579.3L117.1 575.7L117.6 575.2L118.1 579.2L118.6 576.4L119.1 575.1L119.6 580.6L120.1 579.6L120.6 576.3L121.1 580.5L121.6 579.9L122.1 580.3L122.6 577.5L123.1 578.9L123.6 575.9L124.1 576.1L124.6 581.8L125.1 579.7L125.6 581.1L126.1 580.5L126.6 580.2L127.1 580.4L127.6 582.4" fill="none" stroke="#1e7596" stroke-width="0.9"/><line x1="62.099999999999994" y1="537.4" x2="64.6" y2="537.4" stroke="#333" stroke-width="0.8"/><line x1="62.099999999999994" y1="595.6" x2="64.6" y2="595.6" stroke="#333" stroke-width="0.8"/><text x="62.599999999999994" y="539.9" font-size="6.3" text-anchor="end" fill="#222" stroke="#222" stroke-width="0.132">0.05</text><text x="62.599999999999994" y="598.1" font-size="6.3" text-anchor="end" fill="#222" stroke="#222" stroke-width="0.132">0</text><rect x="143.8" y="537.4" width="63.69999999999999" height="58.200000000000045" fill="none" stroke="#888" stroke-width="0.9"/><line x1="143.8" y1="537.4" x2="143.8" y2="595.6" stroke="#333" stroke-width="1"/><line x1="143.8" y1="595.6" x2="207.5" y2="595.6" stroke="#333" stroke-width="1"/><path d="M143.8 586.5L144.3 586.2L144.8 584.6L145.3 586.9L145.8 585.4L146.3 582.3L146.8 585.1L147.3 582L147.8 586.1L148.3 584L148.8 583.6L149.3 582.5L149.8 586.8L150.3 583.6L150.8 582.9L151.3 583L151.8 585L152.3 584.6L152.8 584.6L153.3 584.6L153.8 588.5L154.3 582.6L154.8 582.3L155.3 581.6L155.8 584.9L156.3 586.1L156.8 583.2L157.3 581.6L157.8 581.6L158.3 585L158.8 585.2L159.3 584.7L159.8 582L160.3 584L160.8 583.8L161.3 584L161.8 585.5L162.3 584L162.8 585L163.3 583.7L163.8 584.2L164.3 584.9L164.8 580.2L165.3 582.8L165.8 582.4L166.3 582L166.8 582.9L167.3 586.9L167.8 581.5L168.3 585.7L168.8 579.7L169.3 582.9L169.8 584.1L170.3 585.2L170.8 585.6L171.3 585.9L171.8 583.4L172.3 583.3L172.8 586.4L173.3 582.3L173.8 575.3L174.3 571.2L174.8 567.2L175.3 566L175.8 566.2L176.3 569.9L176.8 569.7L177.3 573.4L177.8 576.9L178.3 577.3L178.8 581.5L179.3 581.5L179.8 584.7L180.3 587.1L180.8 587.8L181.3 592.5L181.8 590.1L182.3 591L182.8 591.8L183.3 591.5L183.8 591.8L184.3 589.8L184.8 588.9L185.3 589.4L185.8 585.6L186.3 585.9L186.8 585.9L187.3 586.5L187.8 589.4L188.3 586.2L188.8 587.2L189.3 590.8L189.8 586.8L190.3 589.1L190.8 585.1L191.3 586.5L191.8 584.8L192.3 586.1L192.8 588.7L193.3 582.7L193.8 587.6L194.3 587.1L194.8 585.1L195.3 583.1L195.8 586.5L196.3 585L196.8 586.7L197.3 586.1L197.8 589.7L198.3 585.4L198.8 583.5L199.3 586.2L199.8 586.2L200.3 588.7L200.8 587.4L201.3 586.3L201.8 588.7L202.3 582.6L202.8 583.8L203.3 583L203.8 584.2L204.3 581.9L204.8 586.4L205.3 584.3L205.8 581.4L206.3 582.4L206.8 585.3L207.3 586.4" fill="none" stroke="#f26d70" stroke-width="0.9"/><path d="M143.8 585.1L144.3 583.8L144.8 584.2L145.3 584.6L145.8 589.6L146.3 584.3L146.8 587.2L147.3 584.1L147.8 587.3L148.3 586.3L148.8 585.3L149.3 585.4L149.8 584.3L150.3 586.2L150.8 584.6L151.3 583.1L151.8 583L152.3 585.5L152.8 588L153.3 585.4L153.8 584.9L154.3 585.6L154.8 587.4L155.3 585.4L155.8 584.3L156.3 587L156.8 585.8L157.3 587.8L157.8 585.3L158.3 582.8L158.8 582.5L159.3 588L159.8 588.1L160.3 584.7L160.8 584.3L161.3 587.6L161.8 583L162.3 583.4L162.8 586.2L163.3 584.3L163.8 585L164.3 584.7L164.8 585.6L165.3 587.5L165.8 585.2L166.3 586.2L166.8 581.3L167.3 584.9L167.8 583.5L168.3 582.8L168.8 583.5L169.3 584.6L169.8 586.9L170.3 583L170.8 585.5L171.3 584.7L171.8 585.1L172.3 587.6L172.8 586.9L173.3 588L173.8 584.2L174.3 582.1L174.8 581.9L175.3 581.7L175.8 581.8L176.3 580.2L176.8 583L177.3 583.9L177.8 588.8L178.3 588.9L178.8 585.3L179.3 587.6L179.8 586.8L180.3 589.6L180.8 592.6L181.3 594.5L181.8 590.9L182.3 590.8L182.8 588L183.3 591.3L183.8 589.5L184.3 590.3L184.8 589.5L185.3 590.7L185.8 587.5L186.3 587.8L186.8 594.1L187.3 587.7L187.8 587.9L188.3 593L188.8 594.7L189.3 587.2L189.8 588.4L190.3 589.5L190.8 591.8L191.3 586.7L191.8 588L192.3 589.7L192.8 589L193.3 587.5L193.8 587.9L194.3 585.6L194.8 587.5L195.3 587.4L195.8 588.2L196.3 586.7L196.8 588.5L197.3 589.4L197.8 587.8L198.3 588.1L198.8 587.4L199.3 587.3L199.8 585.9L200.3 587.7L200.8 586.9L201.3 590.7L201.8 589.7L202.3 587.5L202.8 585.4L203.3 584.7L203.8 588.7L204.3 587L204.8 587.3L205.3 583.2L205.8 587.9L206.3 587L206.8 584.1L207.3 585.2" fill="none" stroke="#1e7596" stroke-width="0.9"/><line x1="141.3" y1="537.4" x2="143.8" y2="537.4" stroke="#333" stroke-width="0.8"/><line x1="141.3" y1="595.6" x2="143.8" y2="595.6" stroke="#333" stroke-width="0.8"/><text x="141.8" y="539.9" font-size="6.3" text-anchor="end" fill="#222" stroke="#222" stroke-width="0.132">0.05</text><text x="141.8" y="598.1" font-size="6.3" text-anchor="end" fill="#222" stroke="#222" stroke-width="0.132">0</text><rect x="232.3" y="536.9" width="64.09999999999997" height="59.30000000000007" fill="none" stroke="#888" stroke-width="0.9"/><line x1="232.3" y1="536.9" x2="232.3" y2="596.2" stroke="#333" stroke-width="1"/><line x1="232.3" y1="596.2" x2="296.4" y2="596.2" stroke="#333" stroke-width="1"/><path d="M232.3 571.5L232.8 571L233.3 570.9L233.8 571.1L234.3 571L234.8 571.4L235.3 571.2L235.8 571.9L236.3 571.5L236.8 571.6L237.3 572.6L237.8 571.6L238.3 571.3L238.8 572.3L239.3 571.1L239.8 572.2L240.3 572.4L240.8 571.8L241.3 571.7L241.8 570.5L242.3 571.7L242.8 571.5L243.3 570.6L243.8 572L244.3 570.3L244.8 570L245.3 569.8L245.8 570.6L246.3 570.6L246.8 570.5L247.3 570L247.8 569.7L248.3 570.6L248.8 570L249.3 570.1L249.8 571.6L250.3 571.2L250.8 571.6L251.3 572L251.8 571.6L252.3 571.9L252.8 572.7L253.3 572.3L253.8 573.1L254.3 573.1L254.8 572.5L255.3 573L255.8 571.3L256.3 571.4L256.8 570.8L257.3 570.8L257.8 569L258.3 568.7L258.8 568.4L259.3 567.9L259.8 567.7L260.3 566.8L260.8 566.1L261.3 566L261.8 567.8L262.3 567.3L262.8 569.2L263.3 570.9L263.8 568.9L264.3 566.1L264.8 563.9L265.3 565.6L265.8 568.6L266.3 568.8L266.8 572L267.3 574.2L267.8 574L268.3 575L268.8 575.3L269.3 576.6L269.8 577.4L270.3 579.3L270.8 578.8L271.3 578.8L271.8 581.2L272.3 582.7L272.8 581.6L273.3 580.8L273.8 580.9L274.3 581.4L274.8 580.6L275.3 580.7L275.8 579.3L276.3 579.9L276.8 580.3L277.3 579.5L277.8 578.9L278.3 579.7L278.8 579.4L279.3 578.5L279.8 578.1L280.3 578.8L280.8 577.7L281.3 577.6L281.8 578.1L282.3 576.9L282.8 576.2L283.3 575L283.8 575.5L284.3 575L284.8 574.4L285.3 574.7L285.8 573.2L286.3 572.6L286.8 572.5L287.3 572.5L287.8 571.3L288.3 571L288.8 570.7L289.3 571.2L289.8 571.4L290.3 572.6L290.8 571.5L291.3 573.3L291.8 573.2L292.3 574.2L292.8 575.4L293.3 574.9L293.8 575.5L294.3 576.2L294.8 575.6L295.3 577.1L295.8 577.6L296.3 577.6" fill="none" stroke="#f26d70" stroke-width="1.1"/><path d="M232.3 577L232.8 575.6L233.3 575.3L233.8 575.6L234.3 576.9L234.8 577.1L235.3 577.3L235.8 577.4L236.3 576.8L236.8 577.5L237.3 576.1L237.8 576.3L238.3 576.6L238.8 574.8L239.3 576.4L239.8 575.4L240.3 573.7L240.8 574.1L241.3 573.5L241.8 573.1L242.3 573.4L242.8 573L243.3 573L243.8 573.2L244.3 573.1L244.8 573L245.3 573L245.8 573.2L246.3 573.1L246.8 572L247.3 572.2L247.8 573.2L248.3 573.2L248.8 572.6L249.3 572.2L249.8 572.7L250.3 572.6L250.8 571.6L251.3 572.5L251.8 571.9L252.3 572.4L252.8 572.8L253.3 573.7L253.8 571.9L254.3 572.9L254.8 573.5L255.3 573.7L255.8 573.9L256.3 573.1L256.8 573.6L257.3 573.5L257.8 574.5L258.3 573.9L258.8 574.1L259.3 574.3L259.8 573.7L260.3 574.5L260.8 572.7L261.3 572.3L261.8 570.8L262.3 570.8L262.8 569.2L263.3 566.2L263.8 558.3L264.3 554.2L264.8 552.6L265.3 557.9L265.8 564.4L266.3 567.5L266.8 571L267.3 574.1L267.8 576.4L268.3 578.6L268.8 581.7L269.3 583.8L269.8 586.5L270.3 588.5L270.8 589.5L271.3 589.4L271.8 590.6L272.3 590L272.8 589L273.3 590.3L273.8 589.2L274.3 589.1L274.8 588.8L275.3 587.6L275.8 587.4L276.3 586.8L276.8 586.7L277.3 586.1L277.8 585.6L278.3 586L278.8 584.9L279.3 584.3L279.8 584.2L280.3 584L280.8 583.3L281.3 581.6L281.8 581.9L282.3 581.5L282.8 581.1L283.3 580L283.8 579.6L284.3 578.7L284.8 578.4L285.3 577.5L285.8 578.2L286.3 576.8L286.8 576.1L287.3 576.2L287.8 575.7L288.3 574.8L288.8 574.8L289.3 573.8L289.8 573.9L290.3 573.4L290.8 573.9L291.3 574L291.8 574.2L292.3 575L292.8 574.4L293.3 576.3L293.8 575.7L294.3 577.3L294.8 577L295.3 576.9L295.8 577L296.3 578" fill="none" stroke="#1e7596" stroke-width="1.1"/><line x1="229.8" y1="536.9" x2="232.3" y2="536.9" stroke="#333" stroke-width="0.8"/><line x1="229.8" y1="596.2" x2="232.3" y2="596.2" stroke="#333" stroke-width="0.8"/><text x="230.3" y="539.4" font-size="6.3" text-anchor="end" fill="#222" stroke="#222" stroke-width="0.132">2.5</text><text x="230.3" y="598.7" font-size="6.3" text-anchor="end" fill="#222" stroke="#222" stroke-width="0.132">1</text><rect x="311.7" y="536.4" width="63.10000000000002" height="59.10000000000002" fill="none" stroke="#888" stroke-width="0.9"/><line x1="311.7" y1="536.4" x2="311.7" y2="595.5" stroke="#333" stroke-width="1"/><line x1="311.7" y1="595.5" x2="374.8" y2="595.5" stroke="#333" stroke-width="1"/><path d="M311.7 564.8L312.2 564.4L312.7 563.9L313.2 564.3L313.7 564.5L314.2 564.2L314.7 563.7L315.2 564.1L315.7 564.1L316.2 564.3L316.7 564.2L317.2 563.3L317.7 563.5L318.2 563.9L318.7 562.8L319.2 563.9L319.7 563.1L320.2 563.2L320.7 564.1L321.2 563.3L321.7 563.1L322.2 563.4L322.7 563.2L323.2 562.9L323.7 563.3L324.2 564.2L324.7 563.6L325.2 563.3L325.7 563.2L326.2 563.5L326.7 563.4L327.2 562.6L327.7 563.3L328.2 563L328.7 563.8L329.2 562.8L329.7 563.5L330.2 562.3L330.7 563L331.2 562.5L331.7 562.4L332.2 563.2L332.7 562.3L333.2 562.7L333.7 562.3L334.2 562.8L334.7 562.7L335.2 561.5L335.7 562.8L336.2 562.2L336.7 563.4L337.2 562.8L337.7 562.8L338.2 561.1L338.7 563.1L339.2 562.8L339.7 563.7L340.2 566L340.7 567.9L341.2 568.1L341.7 569.9L342.2 565.9L342.7 562.5L343.2 559.3L343.7 555.9L344.2 553.1L344.7 551.6L345.2 553.2L345.7 554.5L346.2 554.9L346.7 556.7L347.2 556.8L347.7 558.9L348.2 559.1L348.7 560.3L349.2 561.9L349.7 562.3L350.2 563.8L350.7 563.9L351.2 565.3L351.7 566.9L352.2 568.3L352.7 568.1L353.2 570.3L353.7 570.1L354.2 571.1L354.7 569.9L355.2 569.8L355.7 570.2L356.2 569.5L356.7 570.1L357.2 570L357.7 570.6L358.2 570.2L358.7 569.4L359.2 569.2L359.7 569L360.2 568.2L360.7 567.9L361.2 569.6L361.7 567.8L362.2 568.5L362.7 567.3L363.2 567.1L363.7 566.2L364.2 567.3L364.7 566.2L365.2 566.8L365.7 565.4L366.2 566L366.7 565.8L367.2 564.1L367.7 564.7L368.2 564.1L368.7 564.4L369.2 565.3L369.7 565.9L370.2 566.5L370.7 565.9L371.2 566.9L371.7 567L372.2 567L372.7 566.8L373.2 567.6L373.7 569.5L374.2 567.7L374.7 568.4" fill="none" stroke="#f26d70" stroke-width="1.1"/><path d="M311.7 566.1L312.2 566.7L312.7 566.2L313.2 566.2L313.7 566.3L314.2 566.2L314.7 565.5L315.2 565.6L315.7 566.1L316.2 565.3L316.7 565.3L317.2 565.4L317.7 565.4L318.2 564.9L318.7 565.2L319.2 564.8L319.7 564.1L320.2 564.9L320.7 564.1L321.2 565.9L321.7 564.5L322.2 564.2L322.7 564.7L323.2 564.9L323.7 564.9L324.2 564.2L324.7 564.6L325.2 564.3L325.7 564L326.2 563.2L326.7 563.9L327.2 562.5L327.7 563.3L328.2 564.4L328.7 563.7L329.2 563.6L329.7 563.1L330.2 563.1L330.7 563.1L331.2 562.7L331.7 562.2L332.2 563.8L332.7 564.4L333.2 563.6L333.7 564.7L334.2 564.1L334.7 565.2L335.2 564.7L335.7 566.2L336.2 566.1L336.7 565.8L337.2 567.1L337.7 568L338.2 567.5L338.7 567.8L339.2 568.2L339.7 568.6L340.2 568.2L340.7 565.1L341.2 560.4L341.7 558.9L342.2 555.2L342.7 553L343.2 553.3L343.7 557.1L344.2 559.9L344.7 563L345.2 567.3L345.7 570.8L346.2 572.2L346.7 573.7L347.2 574.9L347.7 576.7L348.2 577.4L348.7 579.3L349.2 580.1L349.7 582.4L350.2 583L350.7 583L351.2 583.2L351.7 582.5L352.2 580.8L352.7 582.6L353.2 581.7L353.7 581.8L354.2 580.8L354.7 581.3L355.2 581.4L355.7 579.6L356.2 580.8L356.7 579.4L357.2 579.3L357.7 579.4L358.2 580.2L358.7 578L359.2 578.1L359.7 577.7L360.2 577.3L360.7 576.3L361.2 575.8L361.7 574.4L362.2 574.6L362.7 574.1L363.2 572.4L363.7 571.8L364.2 571.7L364.7 571L365.2 570.4L365.7 568.9L366.2 568.6L366.7 567.9L367.2 568.1L367.7 566.7L368.2 566.4L368.7 566.3L369.2 566.8L369.7 567.5L370.2 566.2L370.7 567.1L371.2 567.3L371.7 568.1L372.2 567.6L372.7 568L373.2 567.4L373.7 566.8L374.2 566.8L374.7 567.3" fill="none" stroke="#1e7596" stroke-width="1.1"/><line x1="309.2" y1="536.4" x2="311.7" y2="536.4" stroke="#333" stroke-width="0.8"/><line x1="309.2" y1="595.5" x2="311.7" y2="595.5" stroke="#333" stroke-width="0.8"/><text x="309.7" y="538.9" font-size="6.3" text-anchor="end" fill="#222" stroke="#222" stroke-width="0.132">2.5</text><text x="309.7" y="598.0" font-size="6.3" text-anchor="end" fill="#222" stroke="#222" stroke-width="0.132">1</text><line x1="64.6" y1="977.7" x2="64.6" y2="980.8" stroke="#333" stroke-width="0.9"/><line x1="96.35" y1="977.7" x2="96.35" y2="980.8" stroke="#333" stroke-width="0.9"/><line x1="128.1" y1="977.7" x2="128.1" y2="980.8" stroke="#333" stroke-width="0.9"/><text x="64.6" y="988.5" font-size="6.5" text-anchor="middle" fill="#222" stroke="#222" stroke-width="0.137">-3 kb</text><text x="96.35" y="990" font-size="9.5" text-anchor="middle" fill="#222" stroke="#222" stroke-width="0.2">TSS</text><text x="128.1" y="988.5" font-size="6.5" text-anchor="middle" fill="#222" stroke="#222" stroke-width="0.137">3 kb</text><line x1="144.2" y1="977.7" x2="144.2" y2="980.8" stroke="#333" stroke-width="0.9"/><line x1="176.1" y1="977.7" x2="176.1" y2="980.8" stroke="#333" stroke-width="0.9"/><line x1="208" y1="977.7" x2="208" y2="980.8" stroke="#333" stroke-width="0.9"/><text x="144.2" y="988.5" font-size="6.5" text-anchor="middle" fill="#222" stroke="#222" stroke-width="0.137">-3 kb</text><text x="176.1" y="990" font-size="9.5" text-anchor="middle" fill="#222" stroke="#222" stroke-width="0.2">TSS</text><text x="208" y="988.5" font-size="6.5" text-anchor="middle" fill="#222" stroke="#222" stroke-width="0.137">3 kb</text><line x1="232.4" y1="977.7" x2="232.4" y2="980.8" stroke="#333" stroke-width="0.9"/><line x1="264.4" y1="977.7" x2="264.4" y2="980.8" stroke="#333" stroke-width="0.9"/><line x1="296.4" y1="977.7" x2="296.4" y2="980.8" stroke="#333" stroke-width="0.9"/><text x="232.4" y="988.5" font-size="6.5" text-anchor="middle" fill="#222" stroke="#222" stroke-width="0.137">-3 kb</text><text x="264.4" y="990" font-size="9.5" text-anchor="middle" fill="#222" stroke="#222" stroke-width="0.2">TSS</text><text x="296.4" y="988.5" font-size="6.5" text-anchor="middle" fill="#222" stroke="#222" stroke-width="0.137">3 kb</text><line x1="311.4" y1="977.7" x2="311.4" y2="980.8" stroke="#333" stroke-width="0.9"/><line x1="343.1" y1="977.7" x2="343.1" y2="980.8" stroke="#333" stroke-width="0.9"/><line x1="374.8" y1="977.7" x2="374.8" y2="980.8" stroke="#333" stroke-width="0.9"/><text x="311.4" y="988.5" font-size="6.5" text-anchor="middle" fill="#222" stroke="#222" stroke-width="0.137">-3 kb</text><text x="343.1" y="990" font-size="9.5" text-anchor="middle" fill="#222" stroke="#222" stroke-width="0.2">TSS</text><text x="374.8" y="988.5" font-size="6.5" text-anchor="middle" fill="#222" stroke="#222" stroke-width="0.137">3 kb</text><rect x="108.1" y="997" width="47.6" height="6.8" fill="url(#gPink)" stroke="#999" stroke-width="0.6"/><text x="108" y="1012.5" font-size="6.5" text-anchor="middle" fill="#222" stroke="#222" stroke-width="0.137">0</text><text x="156.6" y="1012.5" font-size="6.5" text-anchor="middle" fill="#222" stroke="#222" stroke-width="0.137">0.05</text><text x="133.8" y="1013" font-size="6.5" text-anchor="middle" fill="#222" stroke="#222" stroke-width="0.137">6mA</text><text x="133.8" y="1020.5" font-size="6.5" text-anchor="middle" fill="#222" stroke="#222" stroke-width="0.137">frequency</text><rect x="276.4" y="998.4" width="48.1" height="6.4" fill="url(#gGreen)" stroke="#999" stroke-width="0.6"/><text x="276.4" y="1013" font-size="6.5" text-anchor="middle" fill="#222" stroke="#222" stroke-width="0.137">1</text><text x="323.6" y="1013" font-size="6.5" text-anchor="middle" fill="#222" stroke="#222" stroke-width="0.137">2.5</text><text x="298.8" y="1014.5" font-size="6.5" text-anchor="middle" fill="#222" stroke="#222" stroke-width="0.137">H3K4me3</text><text x="298.8" y="1021" font-size="6.5" text-anchor="middle" fill="#222" stroke="#222" stroke-width="0.137">(IP/Input)</text><text x="415" y="522" font-size="14" text-anchor="start" fill="#000" font-weight="bold">i</text><path d="M446.4 671 L446.4 520 L673.2 520 L673.2 671 Z" fill="none" stroke="#333" stroke-width="1"/><line x1="446.4" y1="520" x2="446.4" y2="671" stroke="#222" stroke-width="1.1"/><line x1="440.6" y1="671" x2="673.2" y2="671" stroke="#222" stroke-width="1.1"/><line x1="441" y1="520" x2="446.4" y2="520" stroke="#222" stroke-width="1"/><text x="439.5" y="523.5" font-size="9.5" text-anchor="end" fill="#111" stroke="#111" stroke-width="0.2">5</text><line x1="441" y1="595.5" x2="446.4" y2="595.5" stroke="#222" stroke-width="1"/><text x="439.5" y="599.0" font-size="9.5" text-anchor="end" fill="#111" stroke="#111" stroke-width="0.2">2.5</text><line x1="446.4" y1="671" x2="446.4" y2="675" stroke="#222" stroke-width="1"/><line x1="559.1" y1="671" x2="559.1" y2="675" stroke="#222" stroke-width="1"/><line x1="673.2" y1="671" x2="673.2" y2="675" stroke="#222" stroke-width="1"/><text x="450" y="686.5" font-size="8.3" text-anchor="middle" fill="#111" stroke="#111" stroke-width="0.174">-1.5 kb</text><text x="560.3" y="686.5" font-size="9" text-anchor="middle" fill="#111" stroke="#111" stroke-width="0.189">TSS</text><text x="674" y="686.5" font-size="8.3" text-anchor="middle" fill="#111" stroke="#111" stroke-width="0.174">1.5 kb</text><text x="421.5" y="595" font-size="8.7" text-anchor="middle" fill="#111" stroke="#111" stroke-width="0.183" transform="rotate(-90 421.5 595)">Normalized occupancy</text><path d="M446.4 604.7L446.9 604.1L447.4 603.6L447.9 603.1L448.4 602.6L448.9 602.2L449.4 601.9L449.9 601.7L450.4 601.5L450.9 601.4L451.4 601.2L451.9 601.1L452.4 601L452.9 600.9L453.4 600.9L453.9 600.8L454.4 600.8L454.9 600.9L455.4 601.1L455.9 601.4L456.4 601.7L456.9 602.1L457.4 602.5L457.9 602.9L458.4 603.2L458.9 603.5L459.4 603.7L459.9 603.8L460.4 603.8L460.9 603.5L461.4 603.1L461.9 602.7L462.4 602.1L462.9 601.6L463.4 601.1L463.9 600.7L464.4 600.4L464.9 600.2L465.4 600.3L465.9 600.5L466.4 600.8L466.9 601.3L467.4 601.8L467.9 602.4L468.4 603L468.9 603.5L469.4 604L469.9 604.4L470.4 604.7L470.9 604.8L471.4 604.8L471.9 604.6L472.4 604.4L472.9 604.1L473.4 603.8L473.9 603.4L474.4 603L474.9 602.6L475.4 602.2L475.9 601.8L476.4 601.4L476.9 601.2L477.4 601L477.9 600.8L478.4 600.8L478.9 601L479.4 601.3L479.9 601.7L480.4 602.2L480.9 602.8L481.4 603.4L481.9 603.9L482.4 604.5L482.9 605L483.4 605.4L483.9 605.7L484.4 605.8L484.9 605.7L485.4 605.4L485.9 605L486.4 604.4L486.9 603.7L487.4 603L487.9 602.1L488.4 601.3L488.9 600.5L489.4 599.7L489.9 599L490.4 598.5L490.9 598L491.4 597.7L491.9 597.7L492.4 597.9L492.9 598.4L493.4 599.1L493.9 600L494.4 601L494.9 602L495.4 603.1L495.9 604.1L496.4 605L496.9 605.7L497.4 606.2L497.9 606.4L498.4 606.4L498.9 606.1L499.4 605.7L499.9 605.1L500.4 604.5L500.9 603.8L501.4 603L501.9 602.2L502.4 601.4L502.9 600.7L503.4 600L503.9 599.4L504.4 599L504.9 598.7L505.4 598.6L505.9 598.8L506.4 599.3L506.9 600.2L507.4 601.2L507.9 602.4L508.4 603.7L508.9 604.9L509.4 606.1L509.9 607.2L510.4 608.1L510.9 608.7L511.4 609L511.9 608.9L512.4 608.5L512.9 607.9L513.4 607.1L513.9 606.1L514.4 604.9L514.9 603.8L515.4 602.6L515.9 601.4L516.4 600.3L516.9 599.4L517.4 598.6L517.9 598L518.4 597.6L518.9 597.6L519.4 598L519.9 598.9L520.4 600L520.9 601.4L521.4 603L521.9 604.6L522.4 606.2L522.9 607.7L523.4 609.1L523.9 610.2L524.4 610.9L524.9 611.3L525.4 611.2L525.9 610.9L526.4 610.5L526.9 609.9L527.4 609.2L527.9 608.5L528.4 607.7L528.9 606.9L529.4 606.1L529.9 605.4L530.4 604.8L530.9 604.3L531.4 604L531.9 603.9L532.4 604.2L532.9 605.3L533.4 606.9L533.9 608.9L534.4 611.3L534.9 613.7L535.4 616.2L535.9 618.5L536.4 620.6L536.9 622.3L537.4 623.5L537.9 624.1L538.4 623.9L538.9 623.2L539.4 622.1L539.9 620.6L540.4 618.8L540.9 616.8L541.4 614.6L541.9 612.3L542.4 610.1L542.9 607.9L543.4 605.8L543.9 604L544.4 602.6L544.9 601.5L545.4 601L545.9 601L546.4 601.5L546.9 602.6L547.4 604L547.9 605.9L548.4 608.1L548.9 610.5L549.4 613.2L549.9 616.1L550.4 619.2L550.9 622.3L551.4 625.4L551.9 628.5L552.4 631.5L552.9 634.3L553.4 636.9L553.9 639.3L554.4 641.3L554.9 642.9L555.4 644L555.9 644.7L556.4 644.7L556.9 644L557.4 642.5L557.9 640.5L558.4 638.1L558.9 635.4L559.4 632.6L559.9 629.9L560.4 626.8L560.9 622.4L561.4 617.2L561.9 611.7L562.4 606.3L562.9 601.3L563.4 597.3L563.9 594.5L564.4 593.5L564.9 594.1L565.4 595.9L565.9 598.5L566.4 601.7L566.9 605.3L567.4 609.1L567.9 612.8L568.4 616.4L568.9 619.5L569.4 622L569.9 623.7L570.4 624.4L570.9 624.2L571.4 623.2L571.9 621.6L572.4 619.5L572.9 617L573.4 614.2L573.9 611.3L574.4 608.3L574.9 605.4L575.4 602.5L575.9 599.8L576.4 597.5L576.9 595.5L577.4 594L577.9 593.1L578.4 592.8L578.9 593.3L579.4 594.5L579.9 596.3L580.4 598.5L580.9 601.1L581.4 603.9L581.9 606.8L582.4 609.6L582.9 612.3L583.4 614.6L583.9 616.5L584.4 617.8L584.9 618.4L585.4 618.1L585.9 617L586.4 615L586.9 612.5L587.4 609.5L587.9 606.2L588.4 602.7L588.9 599.2L589.4 595.8L589.9 592.7L590.4 590L590.9 587.8L591.4 586.4L591.9 585.8L592.4 586.1L592.9 587.3L593.4 589.1L593.9 591.5L594.4 594.2L594.9 597.2L595.4 600.3L595.9 603.3L596.4 606.1L596.9 608.5L597.4 610.4L597.9 611.7L598.4 612.2L598.9 611.7L599.4 610.3L599.9 608.2L600.4 605.4L600.9 602.2L601.4 598.9L601.9 595.5L602.4 592.2L602.9 589.4L603.4 587L603.9 585.3L604.4 584.5L604.9 584.7L605.4 585.6L605.9 587.1L606.4 589L606.9 591.3L607.4 593.8L607.9 596.4L608.4 598.9L608.9 601.3L609.4 603.3L609.9 605L610.4 606.1L610.9 606.6L611.4 606.3L611.9 605.4L612.4 604.1L612.9 602.5L613.4 600.5L613.9 598.4L614.4 596.2L614.9 594L615.4 591.8L615.9 589.9L616.4 588.3L616.9 587L617.4 586.2L617.9 585.9L618.4 586.2L618.9 587.1L619.4 588.3L619.9 589.9L620.4 591.7L620.9 593.6L621.4 595.4L621.9 597.2L622.4 598.8L622.9 600.1L623.4 600.9L623.9 601.3L624.4 601.1L624.9 600.7L625.4 600L625.9 599.1L626.4 598L626.9 596.8L627.4 595.5L627.9 594.2L628.4 592.9L628.9 591.8L629.4 590.7L629.9 589.8L630.4 589.1L630.9 588.6L631.4 588.5L631.9 588.7L632.4 589.2L632.9 590L633.4 591L633.9 592.1L634.4 593.3L634.9 594.5L635.4 595.7L635.9 596.7L636.4 597.6L636.9 598.3L637.4 598.7L637.9 598.8L638.4 598.6L638.9 598.2L639.4 597.6L639.9 597L640.4 596.3L640.9 595.6L641.4 594.9L641.9 594.1L642.4 593.5L642.9 592.9L643.4 592.4L643.9 592.1L644.4 592L644.9 592L645.4 592.4L645.9 593L646.4 593.7L646.9 594.6L647.4 595.6L647.9 596.5L648.4 597.4L648.9 598.2L649.4 598.8L649.9 599.2L650.4 599.3L650.9 599.2L651.4 598.9L651.9 598.5L652.4 597.9L652.9 597.3L653.4 596.7L653.9 596.2L654.4 595.7L654.9 595.3L655.4 595.1L655.9 595.1L656.4 595.3L656.9 595.7L657.4 596.2L657.9 596.7L658.4 597.3L658.9 597.9L659.4 598.5L659.9 599.1L660.4 599.6L660.9 599.9L661.4 600.2L661.9 600.2L662.4 600.1L662.9 599.9L663.4 599.5L663.9 599.1L664.4 598.7L664.9 598.3L665.4 597.9L665.9 597.6L666.4 597.4L666.9 597.3L667.4 597.3L667.9 597.4L668.4 597.4L668.9 597.5L669.4 597.6L669.9 597.7L670.4 597.8L670.9 597.9L671.4 598.1L671.9 598.3L672.4 598.5L672.9 598.8" fill="none" stroke="#7ec6d2" stroke-width="2"/><path d="M446.4 597.6L446.9 596.9L447.4 596.3L447.9 595.7L448.4 595.2L448.9 594.7L449.4 594.3L449.9 594L450.4 593.8L450.9 593.7L451.4 593.5L451.9 593.4L452.4 593.2L452.9 593.1L453.4 593.1L453.9 593L454.4 593L454.9 593.1L455.4 593.3L455.9 593.7L456.4 594.1L456.9 594.5L457.4 595L457.9 595.4L458.4 595.8L458.9 596.2L459.4 596.4L459.9 596.5L460.4 596.4L460.9 596.1L461.4 595.7L461.9 595.1L462.4 594.5L462.9 593.9L463.4 593.3L463.9 592.8L464.4 592.5L464.9 592.3L465.4 592.4L465.9 592.6L466.4 593L466.9 593.6L467.4 594.2L467.9 594.8L468.4 595.5L468.9 596.1L469.4 596.7L469.9 597.1L470.4 597.5L470.9 597.6L471.4 597.6L471.9 597.4L472.4 597.1L472.9 596.8L473.4 596.4L473.9 596L474.4 595.5L474.9 595L475.4 594.5L475.9 594.1L476.4 593.7L476.9 593.4L477.4 593.2L477.9 593L478.4 593L478.9 593.2L479.4 593.5L479.9 594L480.4 594.6L480.9 595.2L481.4 595.9L481.9 596.6L482.4 597.2L482.9 597.8L483.4 598.2L483.9 598.6L484.4 598.7L484.9 598.6L485.4 598.3L485.9 597.8L486.4 597.1L486.9 596.3L487.4 595.5L487.9 594.5L488.4 593.6L488.9 592.6L489.4 591.8L489.9 591L490.4 590.3L490.9 589.8L491.4 589.5L491.9 589.4L492.4 589.7L492.9 590.2L493.4 591.1L493.9 592.1L494.4 593.2L494.9 594.4L495.4 595.6L495.9 596.7L496.4 597.7L496.9 598.6L497.4 599.1L497.9 599.4L498.4 599.3L498.9 599L499.4 598.6L499.9 597.9L500.4 597.2L500.9 596.4L501.4 595.5L501.9 594.6L502.4 593.7L502.9 592.9L503.4 592.1L503.9 591.4L504.4 590.9L504.9 590.6L505.4 590.5L505.9 590.7L506.4 591.3L506.9 592.3L507.4 593.5L507.9 594.8L508.4 596.3L508.9 597.7L509.4 599.1L509.9 600.3L510.4 601.3L510.9 602L511.4 602.3L511.9 602.2L512.4 601.7L512.9 601L513.4 600.1L513.9 599L514.4 597.7L514.9 596.4L515.4 595L515.9 593.7L516.4 592.5L516.9 591.4L517.4 590.5L517.9 589.8L518.4 589.5L518.9 589.4L519.4 589.9L519.9 590.9L520.4 592.2L520.9 593.7L521.4 595.5L521.9 597.3L522.4 599.1L522.9 600.8L523.4 602.3L523.9 603.6L524.4 604.4L524.9 604.8L525.4 604.7L525.9 604.4L526.4 603.9L526.9 603.3L527.4 602.5L527.9 601.6L528.4 600.7L528.9 599.8L529.4 599L529.9 598.2L530.4 597.5L530.9 597L531.4 596.6L531.9 596.5L532.4 596.9L532.9 598.1L533.4 599.9L533.9 602.2L534.4 604.7L534.9 607.5L535.4 610.2L535.9 612.8L536.4 615.2L536.9 617.1L537.4 618.4L537.9 619L538.4 618.8L538.9 618L539.4 616.8L539.9 615.1L540.4 613.2L540.9 610.9L541.4 608.6L541.9 606.2L542.4 603.8L542.9 601.5L543.4 599.4L543.9 597.6L544.4 596.2L544.9 595.2L545.4 594.8L545.9 595L546.4 595.7L546.9 596.9L547.4 598.6L547.9 600.7L548.4 603.1L548.9 605.7L549.4 608.6L549.9 611.6L550.4 614.8L550.9 618L551.4 621.2L551.9 624.3L552.4 627.3L552.9 630.1L553.4 632.7L553.9 635.1L554.4 637.1L554.9 638.6L555.4 639.8L555.9 640.4L556.4 640.4L556.9 639.7L557.4 638.3L557.9 636.3L558.4 633.9L558.9 631.2L559.4 628.4L559.9 625.6L560.4 622.3L560.9 617.8L561.4 612.3L561.9 606.4L562.4 600.6L562.9 595.1L563.4 590.6L563.9 587.3L564.4 585.8L564.9 586.2L565.4 587.8L565.9 590.4L566.4 593.7L566.9 597.5L567.4 601.6L567.9 605.7L568.4 609.6L568.9 613.2L569.4 616.1L569.9 618.1L570.4 619L570.9 618.7L571.4 617.5L571.9 615.6L572.4 613L572.9 609.9L573.4 606.5L573.9 602.8L574.4 598.9L574.9 595L575.4 591.2L575.9 587.7L576.4 584.6L576.9 581.9L577.4 579.8L577.9 578.5L578.4 578L578.9 578.6L579.4 580.2L579.9 582.7L580.4 585.8L580.9 589.5L581.4 593.4L581.9 597.5L582.4 601.4L582.9 605.2L583.4 608.4L583.9 611.1L584.4 612.9L584.9 613.7L585.4 613.2L585.9 611.5L586.4 608.7L586.9 605L587.4 600.6L587.9 595.7L588.4 590.6L588.9 585.4L589.4 580.4L589.9 575.8L590.4 571.8L590.9 568.6L591.4 566.4L591.9 565.4L592.4 565.8L592.9 567.4L593.4 570L593.9 573.4L594.4 577.3L594.9 581.6L595.4 586L595.9 590.3L596.4 594.3L596.9 597.8L597.4 600.5L597.9 602.3L598.4 603L598.9 602.2L599.4 600.1L599.9 596.9L600.4 592.9L600.9 588.4L601.4 583.5L601.9 578.6L602.4 574L602.9 569.8L603.4 566.4L603.9 564.1L604.4 563L604.9 563.4L605.4 564.8L605.9 567.1L606.4 570.1L606.9 573.7L607.4 577.5L607.9 581.5L608.4 585.4L608.9 589.1L609.4 592.3L609.9 595L610.4 596.8L610.9 597.6L611.4 597.3L611.9 596.2L612.4 594.4L612.9 592L613.4 589.2L613.9 586.2L614.4 583L614.9 579.7L615.4 576.7L615.9 573.9L616.4 571.5L616.9 569.7L617.4 568.6L617.9 568.3L618.4 568.9L618.9 570.4L619.4 572.4L619.9 574.9L620.4 577.7L620.9 580.6L621.4 583.6L621.9 586.4L622.4 588.9L622.9 590.9L623.4 592.4L623.9 593L624.4 592.8L624.9 592.2L625.4 591.2L625.9 589.9L626.4 588.3L626.9 586.5L627.4 584.7L627.9 582.7L628.4 580.9L628.9 579.1L629.4 577.5L629.9 576.2L630.4 575.2L630.9 574.6L631.4 574.4L631.9 574.8L632.4 575.7L632.9 577L633.4 578.6L633.9 580.4L634.4 582.4L634.9 584.3L635.4 586.2L635.9 588L636.4 589.5L636.9 590.6L637.4 591.3L637.9 591.5L638.4 591.3L638.9 590.7L639.4 590L639.9 589L640.4 587.9L640.9 586.7L641.4 585.5L641.9 584.3L642.4 583.2L642.9 582.2L643.4 581.4L643.9 580.8L644.4 580.5L644.9 580.6L645.4 581.1L645.9 582L646.4 583.1L646.9 584.4L647.4 585.9L647.9 587.3L648.4 588.6L648.9 589.8L649.4 590.8L649.9 591.3L650.4 591.5L650.9 591.2L651.4 590.7L651.9 589.9L652.4 589L652.9 588L653.4 586.9L653.9 585.9L654.4 585.1L654.9 584.4L655.4 584.1L655.9 584L656.4 584.3L656.9 584.8L657.4 585.5L657.9 586.3L658.4 587.2L658.9 588.1L659.4 589L659.9 589.9L660.4 590.6L660.9 591.1L661.4 591.4L661.9 591.5L662.4 591.2L662.9 590.8L663.4 590.2L663.9 589.4L664.4 588.7L664.9 587.9L665.4 587.2L665.9 586.6L666.4 586.2L666.9 586L667.4 586L667.9 586L668.4 586L668.9 586.1L669.4 586.1L669.9 586.2L670.4 586.3L670.9 586.5L671.4 586.7L671.9 587L672.4 587.3L672.9 587.7" fill="none" stroke="#5f95cc" stroke-width="2"/><rect x="570.5" y="528.8" width="12.5" height="3.6" fill="#5f95cc"/><rect x="570.5" y="543" width="12.5" height="3.6" fill="#7ec6d2"/><text x="587.4" y="533.6" font-size="7.2" fill="#111" stroke="#111" stroke-width="0.1">0 mg/L ZnSO<tspan font-size="5">4</tspan></text><text x="585.2" y="547.9" font-size="7.2" fill="#111" stroke="#111" stroke-width="0.1">20 mg/L ZnSO<tspan font-size="5">4</tspan></text><path d="M641.4 536 L641.4 527.5 M639.2 529.8 L641.4 526.8 L643.6 529.8" fill="none" stroke="#111" stroke-width="1.1"/><path d="M641.4 540.8 L641.4 549.3 M639.2 547 L641.4 550 L643.6 547" fill="none" stroke="#111" stroke-width="1.1"/><text x="649" y="533.6" font-size="7" text-anchor="start" fill="#111" stroke="#111" stroke-width="0.147">Mta1</text><text x="649" y="547.9" font-size="7" text-anchor="start" fill="#111" stroke="#111" stroke-width="0.147">Mta1</text><text x="412.1" y="663" font-size="6.3" text-anchor="middle" fill="#111" stroke="#111" stroke-width="0.132">Average</text><text x="412" y="669.8" font-size="6.5" text-anchor="middle" fill="#111" stroke="#111" stroke-width="0.137">occupancy signal</text><rect x="397.2" y="675.1" width="31.3" height="6.3" fill="url(#gOcc)" stroke="#444" stroke-width="0.7"/><line x1="397.4" y1="681.4" x2="397.4" y2="684" stroke="#333" stroke-width="0.7"/><line x1="428.4" y1="681.4" x2="428.4" y2="684" stroke="#333" stroke-width="0.7"/><text x="397.5" y="689.5" font-size="7" text-anchor="middle" fill="#111" stroke="#111" stroke-width="0.147">0</text><text x="428.2" y="689.5" font-size="7" text-anchor="middle" fill="#111" stroke="#111" stroke-width="0.147">5</text><linearGradient id="st17" x1="0" y1="0" x2="1" y2="0"><stop offset="0.000" stop-color="#bdd8d8"/><stop offset="0.006" stop-color="#b9d6d7"/><stop offset="0.012" stop-color="#aecfd2"/><stop offset="0.018" stop-color="#9ec6cb"/><stop offset="0.024" stop-color="#afd0d2"/><stop offset="0.030" stop-color="#b8d5d6"/><stop offset="0.036" stop-color="#b6d4d5"/><stop offset="0.041" stop-color="#9cc4ca"/><stop offset="0.047" stop-color="#b7d4d6"/><stop offset="0.053" stop-color="#c3dbdb"/><stop offset="0.059" stop-color="#bed9d9"/><stop offset="0.065" stop-color="#bbd7d7"/><stop offset="0.071" stop-color="#bdd8d9"/><stop offset="0.077" stop-color="#adced1"/><stop offset="0.083" stop-color="#c3dbdb"/><stop offset="0.089" stop-color="#cce0dd"/><stop offset="0.095" stop-color="#acced1"/><stop offset="0.101" stop-color="#b6d4d5"/><stop offset="0.107" stop-color="#b2d1d4"/><stop offset="0.112" stop-color="#b9d5d7"/><stop offset="0.118" stop-color="#bad6d7"/><stop offset="0.124" stop-color="#9ac4c9"/><stop offset="0.130" stop-color="#bcd7d8"/><stop offset="0.136" stop-color="#b3d2d4"/><stop offset="0.142" stop-color="#bad6d7"/><stop offset="0.148" stop-color="#a0c7cc"/><stop offset="0.154" stop-color="#b1d1d3"/><stop offset="0.160" stop-color="#c0dada"/><stop offset="0.166" stop-color="#b4d2d4"/><stop offset="0.172" stop-color="#a9ccd0"/><stop offset="0.178" stop-color="#c9dedc"/><stop offset="0.183" stop-color="#c9dedc"/><stop offset="0.189" stop-color="#bcd7d8"/><stop offset="0.195" stop-color="#bcd7d8"/><stop offset="0.201" stop-color="#c6dddc"/><stop offset="0.207" stop-color="#bfd9d9"/><stop offset="0.213" stop-color="#b4d3d5"/><stop offset="0.219" stop-color="#a7cbcf"/><stop offset="0.225" stop-color="#bed8d9"/><stop offset="0.231" stop-color="#a4c9cd"/><stop offset="0.237" stop-color="#a5cace"/><stop offset="0.243" stop-color="#95c0c7"/><stop offset="0.249" stop-color="#c7dddc"/><stop offset="0.254" stop-color="#b5d3d5"/><stop offset="0.260" stop-color="#bad6d7"/><stop offset="0.266" stop-color="#a8cccf"/><stop offset="0.272" stop-color="#c8dedc"/><stop offset="0.278" stop-color="#c5dcdb"/><stop offset="0.284" stop-color="#bed9d9"/><stop offset="0.290" stop-color="#bad6d7"/><stop offset="0.296" stop-color="#bbd6d7"/><stop offset="0.302" stop-color="#c9dfdc"/><stop offset="0.308" stop-color="#a4c9ce"/><stop offset="0.314" stop-color="#bed9d9"/><stop offset="0.320" stop-color="#aecfd2"/><stop offset="0.325" stop-color="#a4c9ce"/><stop offset="0.331" stop-color="#b1d1d3"/><stop offset="0.337" stop-color="#a5cace"/><stop offset="0.343" stop-color="#bdd8d8"/><stop offset="0.349" stop-color="#aecfd2"/><stop offset="0.355" stop-color="#b5d3d5"/><stop offset="0.361" stop-color="#c4dcdb"/><stop offset="0.367" stop-color="#bed9d9"/><stop offset="0.373" stop-color="#c5dcdb"/><stop offset="0.379" stop-color="#b3d2d4"/><stop offset="0.385" stop-color="#c8dedc"/><stop offset="0.391" stop-color="#cfe1dd"/><stop offset="0.396" stop-color="#c3dbdb"/><stop offset="0.402" stop-color="#c4dcdb"/><stop offset="0.408" stop-color="#a0c7cc"/><stop offset="0.414" stop-color="#a6cbce"/><stop offset="0.420" stop-color="#b7d4d6"/><stop offset="0.426" stop-color="#c0d9da"/><stop offset="0.432" stop-color="#9bc4c9"/><stop offset="0.438" stop-color="#b3d2d4"/><stop offset="0.444" stop-color="#cbdfdc"/><stop offset="0.450" stop-color="#bbd7d8"/><stop offset="0.456" stop-color="#d5e4df"/><stop offset="0.462" stop-color="#c3dbdb"/><stop offset="0.467" stop-color="#d2e3de"/><stop offset="0.473" stop-color="#e8eee3"/><stop offset="0.479" stop-color="#ebf0e4"/><stop offset="0.485" stop-color="#f4f5e6"/><stop offset="0.491" stop-color="#e3ece2"/><stop offset="0.497" stop-color="#f3f4e5"/><stop offset="0.503" stop-color="#edf1e4"/><stop offset="0.509" stop-color="#e5ede2"/><stop offset="0.515" stop-color="#eef2e4"/><stop offset="0.521" stop-color="#e9efe3"/><stop offset="0.527" stop-color="#e0eae1"/><stop offset="0.533" stop-color="#d1e2de"/><stop offset="0.538" stop-color="#d3e4de"/><stop offset="0.544" stop-color="#c8dedc"/><stop offset="0.550" stop-color="#bcd7d8"/><stop offset="0.556" stop-color="#b9d6d7"/><stop offset="0.562" stop-color="#c0d9da"/><stop offset="0.568" stop-color="#c5dcdb"/><stop offset="0.574" stop-color="#c1dada"/><stop offset="0.580" stop-color="#b5d3d5"/><stop offset="0.586" stop-color="#afcfd2"/><stop offset="0.592" stop-color="#b3d2d4"/><stop offset="0.598" stop-color="#c4dcdb"/><stop offset="0.604" stop-color="#bad6d7"/><stop offset="0.609" stop-color="#bcd7d8"/><stop offset="0.615" stop-color="#acced1"/><stop offset="0.621" stop-color="#c4dcdb"/><stop offset="0.627" stop-color="#a9ccd0"/><stop offset="0.633" stop-color="#afcfd2"/><stop offset="0.639" stop-color="#b1d1d3"/><stop offset="0.645" stop-color="#8fbdc4"/><stop offset="0.651" stop-color="#95c0c7"/><stop offset="0.657" stop-color="#bed9d9"/><stop offset="0.663" stop-color="#abcdd0"/><stop offset="0.669" stop-color="#a6cace"/><stop offset="0.675" stop-color="#a5cace"/><stop offset="0.680" stop-color="#c4dcdb"/><stop offset="0.686" stop-color="#b5d3d5"/><stop offset="0.692" stop-color="#bbd7d7"/><stop offset="0.698" stop-color="#c7dddc"/><stop offset="0.704" stop-color="#b8d5d6"/><stop offset="0.710" stop-color="#c6dddb"/><stop offset="0.716" stop-color="#c0dada"/><stop offset="0.722" stop-color="#c7dddc"/><stop offset="0.728" stop-color="#b4d3d5"/><stop offset="0.734" stop-color="#b0d0d3"/><stop offset="0.740" stop-color="#b6d4d5"/><stop offset="0.746" stop-color="#b9d6d7"/><stop offset="0.751" stop-color="#acced1"/><stop offset="0.757" stop-color="#a8cccf"/><stop offset="0.763" stop-color="#a9ccd0"/><stop offset="0.769" stop-color="#b0d0d3"/><stop offset="0.775" stop-color="#a3c9cd"/><stop offset="0.781" stop-color="#b8d5d6"/><stop offset="0.787" stop-color="#b7d4d6"/><stop offset="0.793" stop-color="#a8cccf"/><stop offset="0.799" stop-color="#c7dddc"/><stop offset="0.805" stop-color="#c0dada"/><stop offset="0.811" stop-color="#bed8d9"/><stop offset="0.817" stop-color="#c8dedc"/><stop offset="0.822" stop-color="#cce0dd"/><stop offset="0.828" stop-color="#c6dddc"/><stop offset="0.834" stop-color="#cee1dd"/><stop offset="0.840" stop-color="#b5d3d5"/><stop offset="0.846" stop-color="#b2d1d4"/><stop offset="0.852" stop-color="#a5cace"/><stop offset="0.858" stop-color="#95c0c7"/><stop offset="0.864" stop-color="#a9ccd0"/><stop offset="0.870" stop-color="#a9ccd0"/><stop offset="0.876" stop-color="#a8cbcf"/><stop offset="0.882" stop-color="#b7d4d6"/><stop offset="0.888" stop-color="#c6dddb"/><stop offset="0.893" stop-color="#c2dbdb"/><stop offset="0.899" stop-color="#bad6d7"/><stop offset="0.905" stop-color="#c0d9da"/><stop offset="0.911" stop-color="#c1dada"/><stop offset="0.917" stop-color="#c7dddc"/><stop offset="0.923" stop-color="#c0dada"/><stop offset="0.929" stop-color="#c2dbdb"/><stop offset="0.935" stop-color="#bdd8d9"/><stop offset="0.941" stop-color="#c6dddb"/><stop offset="0.947" stop-color="#bed9d9"/><stop offset="0.953" stop-color="#b0d0d3"/><stop offset="0.959" stop-color="#9bc4c9"/><stop offset="0.964" stop-color="#abcdd0"/><stop offset="0.970" stop-color="#a4c9cd"/><stop offset="0.976" stop-color="#95c1c7"/><stop offset="0.982" stop-color="#abced1"/><stop offset="0.988" stop-color="#b6d4d5"/><stop offset="0.994" stop-color="#cadfdc"/><stop offset="1.000" stop-color="#bed8d9"/></linearGradient><rect x="445.9" y="696.5" width="226.6" height="10.3" fill="url(#st17)" stroke="#444" stroke-width="0.9"/><linearGradient id="st18" x1="0" y1="0" x2="1" y2="0"><stop offset="0.000" stop-color="#cde1dd"/><stop offset="0.006" stop-color="#c2dbdb"/><stop offset="0.012" stop-color="#c3dbdb"/><stop offset="0.018" stop-color="#c2dbdb"/><stop offset="0.024" stop-color="#bdd8d8"/><stop offset="0.030" stop-color="#b9d5d7"/><stop offset="0.036" stop-color="#bfd9da"/><stop offset="0.041" stop-color="#c1dada"/><stop offset="0.047" stop-color="#cee1dd"/><stop offset="0.053" stop-color="#c2dbdb"/><stop offset="0.059" stop-color="#cbe0dd"/><stop offset="0.065" stop-color="#c3dbdb"/><stop offset="0.071" stop-color="#c1dada"/><stop offset="0.077" stop-color="#dae7e0"/><stop offset="0.083" stop-color="#c2dbdb"/><stop offset="0.089" stop-color="#d1e2de"/><stop offset="0.095" stop-color="#d2e3de"/><stop offset="0.101" stop-color="#cadfdc"/><stop offset="0.107" stop-color="#c3dcdb"/><stop offset="0.112" stop-color="#b9d6d7"/><stop offset="0.118" stop-color="#a3c8cd"/><stop offset="0.124" stop-color="#cde0dd"/><stop offset="0.130" stop-color="#c3dcdb"/><stop offset="0.136" stop-color="#bcd7d8"/><stop offset="0.142" stop-color="#c6dddb"/><stop offset="0.148" stop-color="#d1e3de"/><stop offset="0.154" stop-color="#c7dddc"/><stop offset="0.160" stop-color="#c8dedc"/><stop offset="0.166" stop-color="#c6dddc"/><stop offset="0.172" stop-color="#cee1dd"/><stop offset="0.178" stop-color="#c1dada"/><stop offset="0.183" stop-color="#cbdfdd"/><stop offset="0.189" stop-color="#c6dddb"/><stop offset="0.195" stop-color="#d3e4de"/><stop offset="0.201" stop-color="#dee9e1"/><stop offset="0.207" stop-color="#c1dada"/><stop offset="0.213" stop-color="#c2dbdb"/><stop offset="0.219" stop-color="#bcd7d8"/><stop offset="0.225" stop-color="#c0dada"/><stop offset="0.231" stop-color="#c3dbdb"/><stop offset="0.237" stop-color="#c2dbdb"/><stop offset="0.243" stop-color="#b5d3d5"/><stop offset="0.249" stop-color="#c8dedc"/><stop offset="0.254" stop-color="#c6dddc"/><stop offset="0.260" stop-color="#c6dddc"/><stop offset="0.266" stop-color="#c5dcdb"/><stop offset="0.272" stop-color="#b5d3d5"/><stop offset="0.278" stop-color="#d0e2de"/><stop offset="0.284" stop-color="#b4d3d5"/><stop offset="0.290" stop-color="#cbdfdd"/><stop offset="0.296" stop-color="#cce0dd"/><stop offset="0.302" stop-color="#cee1dd"/><stop offset="0.308" stop-color="#c1dada"/><stop offset="0.314" stop-color="#b6d4d5"/><stop offset="0.320" stop-color="#cce0dd"/><stop offset="0.325" stop-color="#c3dbdb"/><stop offset="0.331" stop-color="#c3dbdb"/><stop offset="0.337" stop-color="#c5dcdb"/><stop offset="0.343" stop-color="#c8dedc"/><stop offset="0.349" stop-color="#bcd7d8"/><stop offset="0.355" stop-color="#bad6d7"/><stop offset="0.361" stop-color="#c2dbdb"/><stop offset="0.367" stop-color="#cadfdc"/><stop offset="0.373" stop-color="#c7dddc"/><stop offset="0.379" stop-color="#c3dbdb"/><stop offset="0.385" stop-color="#c8dedc"/><stop offset="0.391" stop-color="#c5dcdb"/><stop offset="0.396" stop-color="#cee1dd"/><stop offset="0.402" stop-color="#c6dddb"/><stop offset="0.408" stop-color="#c6dddb"/><stop offset="0.414" stop-color="#cfe1dd"/><stop offset="0.420" stop-color="#cadfdc"/><stop offset="0.426" stop-color="#cee1dd"/><stop offset="0.432" stop-color="#c7dedc"/><stop offset="0.438" stop-color="#cbdfdd"/><stop offset="0.444" stop-color="#cbe0dd"/><stop offset="0.450" stop-color="#d0e2de"/><stop offset="0.456" stop-color="#d9e7e0"/><stop offset="0.462" stop-color="#d6e5df"/><stop offset="0.467" stop-color="#e9efe3"/><stop offset="0.473" stop-color="#e7eee3"/><stop offset="0.479" stop-color="#f4f5e6"/><stop offset="0.485" stop-color="#f4f5e6"/><stop offset="0.491" stop-color="#eff2e5"/><stop offset="0.497" stop-color="#f4f5e6"/><stop offset="0.503" stop-color="#f4f5e6"/><stop offset="0.509" stop-color="#f4f5e6"/><stop offset="0.515" stop-color="#f4f5e6"/><stop offset="0.521" stop-color="#f3f4e5"/><stop offset="0.527" stop-color="#e5ede2"/><stop offset="0.533" stop-color="#e2ebe2"/><stop offset="0.538" stop-color="#cbdfdd"/><stop offset="0.544" stop-color="#c5dcdb"/><stop offset="0.550" stop-color="#c9dedc"/><stop offset="0.556" stop-color="#d3e4de"/><stop offset="0.562" stop-color="#cadfdc"/><stop offset="0.568" stop-color="#cee1dd"/><stop offset="0.574" stop-color="#cfe1dd"/><stop offset="0.580" stop-color="#cee1dd"/><stop offset="0.586" stop-color="#cce0dd"/><stop offset="0.592" stop-color="#cfe2dd"/><stop offset="0.598" stop-color="#cee1dd"/><stop offset="0.604" stop-color="#dce8e0"/><stop offset="0.609" stop-color="#d1e2de"/><stop offset="0.615" stop-color="#c6dddb"/><stop offset="0.621" stop-color="#c5dcdb"/><stop offset="0.627" stop-color="#d1e3de"/><stop offset="0.633" stop-color="#c3dbdb"/><stop offset="0.639" stop-color="#c3dbdb"/><stop offset="0.645" stop-color="#cce0dd"/><stop offset="0.651" stop-color="#bfd9d9"/><stop offset="0.657" stop-color="#bbd7d8"/><stop offset="0.663" stop-color="#c2dbdb"/><stop offset="0.669" stop-color="#b0d0d3"/><stop offset="0.675" stop-color="#c9dedc"/><stop offset="0.680" stop-color="#c5dcdb"/><stop offset="0.686" stop-color="#c5dcdb"/><stop offset="0.692" stop-color="#c7dddc"/><stop offset="0.698" stop-color="#d0e2de"/><stop offset="0.704" stop-color="#c9dedc"/><stop offset="0.710" stop-color="#cadfdc"/><stop offset="0.716" stop-color="#b6d4d5"/><stop offset="0.722" stop-color="#bfd9d9"/><stop offset="0.728" stop-color="#c9dedc"/><stop offset="0.734" stop-color="#b9d6d7"/><stop offset="0.740" stop-color="#cce0dd"/><stop offset="0.746" stop-color="#c0dada"/><stop offset="0.751" stop-color="#afd0d2"/><stop offset="0.757" stop-color="#cfe2de"/><stop offset="0.763" stop-color="#b5d3d5"/><stop offset="0.769" stop-color="#bcd7d8"/><stop offset="0.775" stop-color="#c8dedc"/><stop offset="0.781" stop-color="#bdd8d8"/><stop offset="0.787" stop-color="#d1e2de"/><stop offset="0.793" stop-color="#c2dbdb"/><stop offset="0.799" stop-color="#cbdfdd"/><stop offset="0.805" stop-color="#c4dcdb"/><stop offset="0.811" stop-color="#d6e5df"/><stop offset="0.817" stop-color="#c8dedc"/><stop offset="0.822" stop-color="#c5dcdb"/><stop offset="0.828" stop-color="#d2e3de"/><stop offset="0.834" stop-color="#b8d5d6"/><stop offset="0.840" stop-color="#cfe1dd"/><stop offset="0.846" stop-color="#adced1"/><stop offset="0.852" stop-color="#acced1"/><stop offset="0.858" stop-color="#c7dedc"/><stop offset="0.864" stop-color="#adcfd2"/><stop offset="0.870" stop-color="#bdd8d8"/><stop offset="0.876" stop-color="#bed8d9"/><stop offset="0.882" stop-color="#c0dada"/><stop offset="0.888" stop-color="#d3e4de"/><stop offset="0.893" stop-color="#c8dedc"/><stop offset="0.899" stop-color="#cce0dd"/><stop offset="0.905" stop-color="#c7dddc"/><stop offset="0.911" stop-color="#dee9e1"/><stop offset="0.917" stop-color="#cde0dd"/><stop offset="0.923" stop-color="#c4dcdb"/><stop offset="0.929" stop-color="#d0e2de"/><stop offset="0.935" stop-color="#c5dcdb"/><stop offset="0.941" stop-color="#c3dbdb"/><stop offset="0.947" stop-color="#c7dddc"/><stop offset="0.953" stop-color="#c0dada"/><stop offset="0.959" stop-color="#b8d5d6"/><stop offset="0.964" stop-color="#cde0dd"/><stop offset="0.970" stop-color="#b9d6d7"/><stop offset="0.976" stop-color="#c4dcdb"/><stop offset="0.982" stop-color="#c2dbdb"/><stop offset="0.988" stop-color="#c8dedc"/><stop offset="0.994" stop-color="#cbdfdd"/><stop offset="1.000" stop-color="#c3dbdb"/></linearGradient><rect x="445.9" y="710.3" width="226.6" height="10.3" fill="url(#st18)" stroke="#444" stroke-width="0.9"/><text x="441" y="704.5" font-size="8.5" text-anchor="end" fill="#5b8fc4" stroke="#5b8fc4" stroke-width="0.179">0 mg/L</text><text x="441" y="718.3" font-size="8.5" text-anchor="end" fill="#86c6d8" stroke="#86c6d8" stroke-width="0.179">20 mg/L</text><text x="425.5" y="761" font-size="14" text-anchor="start" fill="#000" font-weight="bold">j</text><path d="M481.1 841.9 L505.7 841.9 L530.4 822.6 L555 753.5 L579.6 772.8 L604.3 837 L628.9 841.9Z" fill="#a45597" stroke="#9a4590" stroke-width="0.9"/><path d="M481.1 841.9 L505.7 841.9 L530.4 829.9 L555 762.3 L579.6 764.6 L604.3 827.9 L628.9 841.9Z" fill="#f2c0ea" fill-opacity="0.7" stroke="#f78cef" stroke-width="1.1"/><line x1="481.1" y1="751" x2="481.1" y2="841.9" stroke="#222" stroke-width="1.2"/><line x1="481.1" y1="841.9" x2="628.9" y2="841.9" stroke="#222" stroke-width="1.2"/><line x1="477.6" y1="751" x2="481.1" y2="751" stroke="#222" stroke-width="1"/><line x1="477.6" y1="841.9" x2="481.1" y2="841.9" stroke="#222" stroke-width="1"/><text x="477.1" y="754" font-size="8.3" text-anchor="end" fill="#111" stroke="#111" stroke-width="0.174">50</text><line x1="481.1" y1="841.9" x2="481.1" y2="844.9" stroke="#222" stroke-width="1"/><text x="481.1" y="854.4" font-size="8" text-anchor="middle" fill="#111" stroke="#111" stroke-width="0.168">20</text><line x1="530.3666666666667" y1="841.9" x2="530.3666666666667" y2="844.9" stroke="#222" stroke-width="1"/><text x="530.3666666666667" y="854.4" font-size="8" text-anchor="middle" fill="#111" stroke="#111" stroke-width="0.168">40</text><line x1="579.6333333333333" y1="841.9" x2="579.6333333333333" y2="844.9" stroke="#222" stroke-width="1"/><text x="579.6333333333333" y="854.4" font-size="8" text-anchor="middle" fill="#111" stroke="#111" stroke-width="0.168">60</text><line x1="628.9" y1="841.9" x2="628.9" y2="844.9" stroke="#222" stroke-width="1"/><text x="628.9" y="854.4" font-size="8" text-anchor="middle" fill="#111" stroke="#111" stroke-width="0.168">80</text><text x="554.6" y="866" font-size="7.65" text-anchor="middle" fill="#111" stroke="#111" stroke-width="0.161">Degree of nucleosome fuzziness</text><text x="471.5" y="798.8" font-size="8.2" text-anchor="middle" fill="#111" stroke="#111" stroke-width="0.172" transform="rotate(-90 471.5 798.8)">% of total</text><text x="483.8" y="741.8" font-size="9.1" text-anchor="start" fill="#f06068" stroke="#f06068" stroke-width="0.191">Upregulated</text><rect x="598.7" y="748" width="12.8" height="7.6" fill="#9a4590"/><text x="613.4" y="755.8" font-size="9.6" text-anchor="start" fill="#9a4590" stroke="#9a4590" stroke-width="0.202">MAC</text><rect x="598.7" y="759.8" width="12.8" height="7.4" fill="#f78ff0"/><text x="613.4" y="767.5" font-size="9.6" text-anchor="start" fill="#f07fe8" stroke="#f07fe8" stroke-width="0.202">MAC loss</text><path d="M481.9 991.9 L506.4 991.9 L530.9 971.9 L555.4 902.8 L579.9 924.6 L604.4 988.3 L628.9 991.9Z" fill="#a45597" stroke="#9a4590" stroke-width="0.9"/><path d="M481.9 991.9 L506.4 991.9 L530.9 986.4 L555.4 910.1 L579.9 912.8 L604.4 976.4 L628.9 991.9Z" fill="#f2c0ea" fill-opacity="0.7" stroke="#f78cef" stroke-width="1.1"/><line x1="481.9" y1="901" x2="481.9" y2="991.9" stroke="#222" stroke-width="1.2"/><line x1="481.9" y1="991.9" x2="628.9" y2="991.9" stroke="#222" stroke-width="1.2"/><line x1="478.4" y1="901" x2="481.9" y2="901" stroke="#222" stroke-width="1"/><line x1="478.4" y1="991.9" x2="481.9" y2="991.9" stroke="#222" stroke-width="1"/><text x="477.9" y="904" font-size="8.3" text-anchor="end" fill="#111" stroke="#111" stroke-width="0.174">50</text><text x="477.9" y="994.9" font-size="8.3" text-anchor="end" fill="#111" stroke="#111" stroke-width="0.174">0</text><line x1="481.9" y1="991.9" x2="481.9" y2="994.9" stroke="#222" stroke-width="1"/><text x="481.9" y="1004.4" font-size="8" text-anchor="middle" fill="#111" stroke="#111" stroke-width="0.168">20</text><line x1="530.9" y1="991.9" x2="530.9" y2="994.9" stroke="#222" stroke-width="1"/><text x="530.9" y="1004.4" font-size="8" text-anchor="middle" fill="#111" stroke="#111" stroke-width="0.168">40</text><line x1="579.9" y1="991.9" x2="579.9" y2="994.9" stroke="#222" stroke-width="1"/><text x="579.9" y="1004.4" font-size="8" text-anchor="middle" fill="#111" stroke="#111" stroke-width="0.168">60</text><line x1="628.9" y1="991.9" x2="628.9" y2="994.9" stroke="#222" stroke-width="1"/><text x="628.9" y="1004.4" font-size="8" text-anchor="middle" fill="#111" stroke="#111" stroke-width="0.168">80</text><text x="554.6" y="1016" font-size="7.65" text-anchor="middle" fill="#111" stroke="#111" stroke-width="0.161">Degree of nucleosome fuzziness</text><text x="471.5" y="948.8" font-size="8.2" text-anchor="middle" fill="#111" stroke="#111" stroke-width="0.172" transform="rotate(-90 471.5 948.8)">% of total</text><text x="485" y="891.8" font-size="9.1" text-anchor="start" fill="#1a86a8" stroke="#1a86a8" stroke-width="0.191">Downregulated</text><rect x="598.7" y="898" width="12.8" height="7.6" fill="#9a4590"/><text x="613.4" y="905.8" font-size="9.6" text-anchor="start" fill="#9a4590" stroke="#9a4590" stroke-width="0.202">MAC</text><rect x="598.7" y="909.8" width="12.8" height="7.4" fill="#f78ff0"/><text x="613.4" y="917.5" font-size="9.6" text-anchor="start" fill="#f07fe8" stroke="#f07fe8" stroke-width="0.202">MAC loss</text>
</svg></body></html>
